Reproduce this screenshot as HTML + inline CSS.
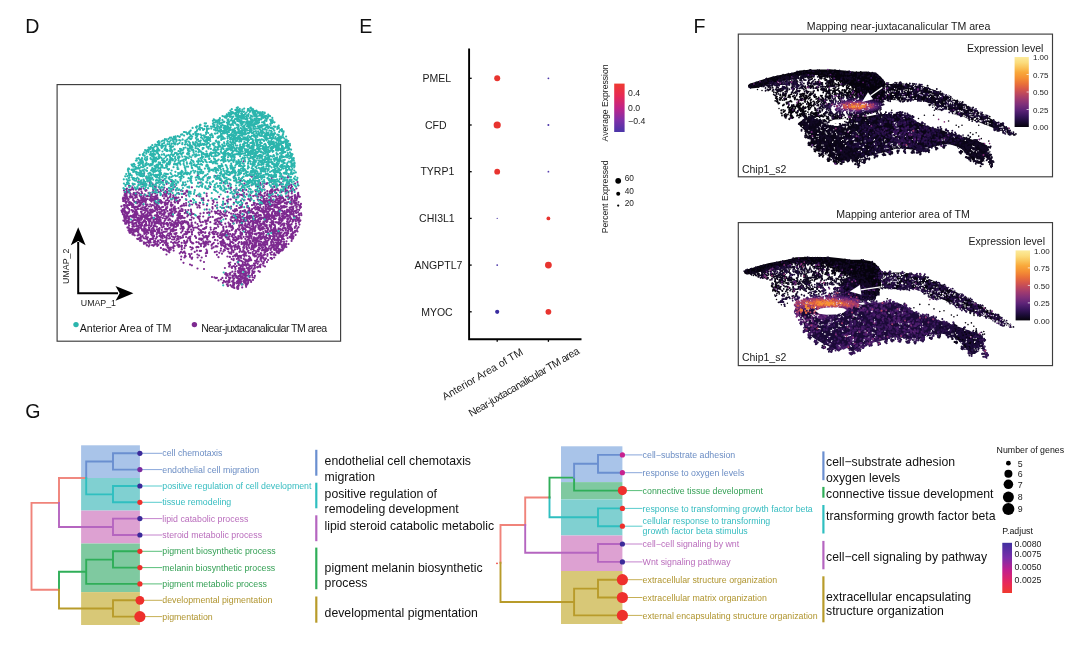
<!DOCTYPE html>
<html lang="en"><head><meta charset="utf-8"><title>Figure panels D-G</title>
<style>html,body{margin:0;padding:0;background:#fff}body{width:1080px;height:657px;overflow:hidden}svg{display:block}text{font-family:"Liberation Sans",Arial,Helvetica,sans-serif}</style>
</head><body>
<svg width="1080" height="657" viewBox="0 0 1080 657">
<rect width="1080" height="657" fill="#fff"/>
<text x="25.2" y="33.0" font-size="19.6" fill="#111">D</text>
<text x="359.3" y="33.0" font-size="19.6" fill="#111">E</text>
<text x="693.6" y="33.0" font-size="19.6" fill="#111">F</text>
<text x="25.3" y="417.7" font-size="19.6" fill="#111">G</text>
<g id="panelD">
<rect x="57.1" y="84.6" width="283.5" height="256.6" fill="#fff" stroke="#3d3d3d" stroke-width="1.15"/>
<path transform="scale(.1)" d="M2437 1614zm175-3zm18-9zm23 92zm-104 28zm-43 35zm-188-37zm-341 34zm-316-10zm-220-7zm24 47zm622-11zm7 9zm64-22zm182 7zm179 0zm39 0zm12 12zm36-6zm107 26zm6-21zm97 8zm9-19zm54 7zm4-14zm92 61zm-24 15zm-61-4zm-17-32zm-5 34zm-58-3zm-54-15zm-25-12zm-18 14zm-42 13zm-2 6zm-27-3zm-40-3zm-47 5zm-111 1zm-35-33zm-11 9zm-102 22zm-56-8zm-38-27zm-201 26zm-288-14zm-46 26zm-1-14zm-36-17zm-20 17zm-46 9zm-39 2zm-24 4zm-6-21zm-45 18zm-27 3zm-13-16zm-22-10zm-4 13zm-93 33zm32 14zm9-26zm111 2zm85-1zm23 19zm6 11zm31-6zm3-4zm52 8zm69-13zm1-13zm8 3zm17-8zm11 22zm83-21zm87 27zm182-2zm182-13zm29 18zm112-12zm92-11zm44 0zm19 12zm23-13zm5-3zm27 23zm4-10zm24-22zm62 36zm17-13zm2 6zm56-22zm21 20zm21 2zm18 2zm25 6zm0-6zm8-13zm19-10zm0 27zm9-9zm64-11zm-19 30zm-20 15zm-3 1zm-23 16zm-6-13zm-5-21zm-29 33zm-6-9zm-7 11zm-9-15zm-2-14zm-1 28zm-4-27zm-19 18zm-16 7zm-9-10zm-24-2zm-8-14zm-15 6zm-4 11zm0-4zm-3-3zm-10 11zm-17-13zm-4 22zm-3-25zm-8 7zm-8 11zm-29 0zm-29-17zm-33 0zm0 2zm-12-11zm-40 17zm-1 10zm-4-10zm-92-4zm-33 0zm-2 11zm-37-10zm-27-5zm-15 19zm-7-11zm-38-19zm-29 35zm-395-3zm-10-10zm-4 10zm-1-6zm-38 0zm-17-4zm-25-6zm-51-5zm-18 15zm-43 6zm-2-24zm-14 20zm-22-15zm-24 13zm-5-15zm-29 7zm-21 5zm-4-20zm-19 6zm-1 6zm-2 20zm-64-14zm-2-4zm-7 7zm-4-7zm-16-17zm-21 32zm-5-28zm-1 5zm-14-7zm-6 11zm-28-3zm-1 3zm-26-1zm0-6zm-20 4zm-14 8zm-11-4zm-8 15zm-12-26zm-1 25zm-7-18zm-21 9zm0 2zm5 46zm0 1zm2-25zm5 14zm4 8zm1 0zm1-22zm6 4zm1 18zm1-23zm13-2zm17-1zm6 15zm1 2zm2 10zm1-11zm27 6zm2-9zm4 0zm0-8zm9 25zm9-20zm3 7zm4-13zm3 18zm0 4zm9-26zm15 11zm6 23zm7-14zm2 9zm15-20zm24 12zm35 11zm5-26zm8 26zm6-26zm2 23zm13 6zm4-11zm8-16zm22-3zm5 8zm19 15zm17-29zm2 0zm36 32zm12-29zm5 14zm8 15zm11 1zm2-18zm6-16zm3 9zm25 5zm7 10zm27 9zm49-22zm11 8zm44-1zm4 0zm9-4zm2-2zm10 23zm22-32zm82 34zm100-21zm302 4zm5-11zm0-7zm5 35zm16-13zm18 4zm17 3zm6-7zm6-17zm26 15zm34 10zm2-1zm4-29zm45 33zm11-8zm26-11zm2 9zm13-17zm1-1zm1-6zm2 27zm12 7zm25-19zm7-12zm16 25zm6-13zm1 1zm1 18zm1-11zm21-25zm2 15zm11 20zm10-25zm0 3zm30-7zm2 33zm11-29zm40 26zm9-34zm70 31zm1-26zm0-1zm34 9zm28 19zm5-3zm28-13zm0 3zm3-12zm1 18zm15 21zm-7-4zm-16 3zm-1-6zm-2 20zm-5 17zm-9-16zm-3-8zm-2 8zm-3-16zm-1 16zm-27-17zm-1 24zm-10-16zm-4 0zm-15 11zm-2-12zm-7 19zm-8-23zm-15-5zm-10 32zm-19-10zm-2-8zm-10-13zm-7 14zm0 3zm-1 4zm-4-14zm-3 26zm-8-17zm-10-18zm-8 23zm-13 5zm-3-22zm-10-2zm-20 33zm-2-36zm-20 28zm-4-14zm-14-9zm-24 16zm-1 4zm-20-28zm-1 31zm-5 8zm-1-11zm-4-22zm-2 21zm-5-20zm-14 0zm-4 9zm-27-8zm-6 26zm-5-30zm-41-3zm-19 24zm-14 8zm-16-1zm-41 6zm-7-32zm-49 0zm-24 31zm-19-24zm0-10zm-8 2zm-2 9zm-26 20zm-23 0zm-51-8zm-42-18zm-123-7zm-35 23zm-4 10zm-12-8zm-24-23zm-130 36zm-43-27zm-21 26zm-15-23zm-17 7zm-7-8zm-3 23zm-7-9zm-2-1zm-5-11zm-8-8zm-8 8zm-10 19zm-13-35zm-6 12zm-19 10zm-3 17zm-10-37zm-13 0zm-12 22zm-13-24zm-45 35zm-7-7zm-2-14zm-1 11zm-7 5zm-4-17zm-3-11zm0-1zm-8 33zm-1-5zm-1-22zm0 7zm-8 25zm-7-7zm-1 7zm-3-31zm-10 20zm-7-4zm0 1zm-4-8zm-3 14zm-1 7zm-2-13zm-6-24zm0 38zm-18-36zm-3 27zm-13-30zm-2 39zm-5-16zm-12 15zm-6-21zm-2-16zm-1 25zm-1 7zm-4-15zm-6 6zm-3 10zm-6-33zm-1 19zm-3 10zm-4-20zm-3-8zm-26 33zm-10-23zm-5-9zm-11 14zm-19 12zm-7-17zm-1 0zm-3-5zm-7 5zm-7-11zm-2 11zm-2 3zm-8-7zm-10 23zm0 4zm-14-22zm-2 8zm-1 6zm-3-27zm-8 29zm-2-27zm-7 11zm0 5zm-10 7zm-1-6zm-1 3zm-5-7zm-3 14zm2 22zm7-9zm0 8zm15-4zm3 16zm3 7zm2 1zm6-12zm15-12zm6 22zm6 4zm1-7zm2-7zm5 16zm4 2zm8-8zm1 4zm16-31zm10 10zm3 8zm12 3zm11-6zm4 19zm0-3zm6-5zm4-5zm7-4zm2-12zm4 15zm9-13zm2 22zm8 1zm0 5zm5-28zm6 6zm2 8zm2-4zm7-12zm3-1zm5-2zm4 11zm6 6zm4-12zm0 14zm2-13zm49-1zm8 8zm8-15zm18 19zm4-14zm0 27zm3-3zm3-1zm24-6zm8-19zm4 4zm4-3zm5 15zm3-5zm2-13zm8 3zm2 28zm2-14zm14 4zm22 1zm8 8zm3-27zm10 26zm12-5zm10-16zm19 17zm33-9zm4 4zm0-21zm1 25zm20-14zm2-2zm4 2zm1 16zm3 1zm0 3zm7-20zm9-8zm43 34zm22-7zm44-23zm6 3zm48 27zm38-10zm3 2zm35-28zm46 3zm2 1zm44-1zm6-2zm4 18zm34 4zm79 14zm19-33zm9 13zm61 10zm70-22zm30-3zm20 32zm11-4zm31-24zm37 21zm10 3zm23 6zm12-33zm16-4zm4-1zm7 25zm3 14zm6-28zm6 11zm3 12zm11-24zm5 8zm2 17zm3-22zm4-4zm2 11zm6-10zm2 0zm12-2zm2 17zm4-19zm5 30zm6-19zm2-17zm9 31zm0-20zm11-2zm13 15zm17-8zm10 3zm6-18zm9 25zm8-26zm7 14zm2-7zm3 17zm7-12zm1-10zm0 9zm8 25zm3-6zm1-3zm12-8zm1-5zm12 1zm6-13zm9 30zm5-30zm2 31zm10-9zm5 5zm10-8zm21 14zm10-33zm1 20zm5 14zm16-19zm0-8zm3 5zm5 16zm1-29zm0 32zm4-19zm16-11zm0 25zm22-8zm25 19zm0 32zm-4-26zm-2 20zm-7 4zm-3-11zm-13-14zm-13 20zm-4 13zm-2-37zm-9 14zm-20 11zm-3 14zm-12-7zm0-31zm-2 4zm-14 29zm-2 5zm-4 0zm-28-39zm-1 26zm-8 2zm-11-3zm-1-4zm0 3zm-2 9zm-5-14zm-12 17zm-4-13zm-10 7zm-4-8zm-20 15zm0-37zm-13 2zm-4 26zm-2-19zm-2 27zm-3-20zm-10-10zm-4 26zm-1-28zm-3 10zm-6-10zm0 26zm-15-17zm-6-4zm-4 12zm-6-10zm-10 4zm-1 7zm-16-2zm-2-20zm-1 8zm-2 30zm-16-12zm-2-23zm-1 18zm-2 3zm-3-16zm-21 22zm-30 4zm-2-21zm-6 22zm-9-35zm-7 28zm-14-22zm-10 23zm-2-5zm-15-17zm-19 5zm-46 7zm-1 16zm0-9zm-53-22zm-2 18zm-1 10zm-10 4zm-3-22zm-12 25zm-25-19zm-56 5zm-2 6zm-1-1zm-24 2zm-4-4zm-41 11zm-15-30zm-2 29zm-50-2zm-18-18zm-27-18zm-3 32zm-54-18zm-36-10zm-36 32zm-5-19zm-6-3zm-13 20zm-8-27zm-45-2zm-24-1zm-5 13zm-30-4zm-2 0zm-19 3zm-18 1zm-4-1zm-12 8zm-59 2zm-1 11zm-9-3zm-12-25zm-12 15zm-5-17zm-1 5zm-33-6zm-2 24zm-3 9zm-7-38zm-1 38zm-10-25zm-4-14zm-18 29zm-9 2zm-23 6zm-9-13zm-6 6zm-8-20zm-6-6zm-3-3zm-1 17zm-1 15zm0-6zm-1-26zm-2 0zm-13 31zm-10-19zm-16-3zm-10 14zm-10-19zm0-1zm-12 21zm-14-20zm-5 5zm-5 7zm-7 8zm-1-23zm-1 25zm-19 7zm-7-26zm-6 27zm-2-2zm-16-25zm-10-5zm0 17zm-1-10zm-3 7zm-2-4zm-7 7zm-13 15zm-1-6zm-12-1zm-10 1zm-14-21zm-1 20zm-2-13zm-3 15zm0-28zm-7 11zm0 18zm-1-17zm-10-13zm-13 8zm-3-7zm-5 9zm-9 28zm-6-27zm-1 11zm-7-1zm-1 5zm-1-14zm-15-3zm-3 24zm-3-19zm-4-2zm-2 1zm-23 9zm1 43zm5 13zm7-1zm1-27zm0 1zm3 25zm1 0zm3-9zm8-14zm0-7zm2 28zm0-13zm1 2zm1-21zm4 30zm25-31zm14 7zm2 29zm2-18zm22 0zm10 18zm3-12zm6 7zm10-28zm7 8zm1 21zm9-12zm5 14zm8-27zm4-7zm3 7zm22 3zm2-7zm2 5zm2 28zm4-31zm2 29zm1-25zm17 11zm12-21zm8 18zm0-10zm0 18zm2-18zm11 1zm1 15zm4 6zm4 0zm1-26zm20 15zm8-3zm6 14zm10 7zm3-2zm1-21zm5 22zm4-12zm15 4zm0-24zm3-2zm7 9zm12-4zm2 13zm1-11zm3 1zm20 4zm9-11zm10 17zm4 9zm16-8zm6 0zm2 11zm15-23zm2 5zm14 17zm25-9zm0-8zm5 5zm3 7zm2 1zm5 2zm1-20zm4 23zm6 3zm11-19zm0-10zm11 19zm0 2zm2-18zm7-2zm5 29zm23-35zm11 30zm4-5zm2 0zm7 3zm7-22zm8 5zm1 17zm2-9zm27-1zm6 17zm23-17zm26-3zm2 15zm156-18zm49 20zm10-28zm22 30zm32-9zm22 5zm36 5zm30-4zm41-27zm22 20zm11 6zm5 4zm3-23zm9 13zm5-14zm6 12zm35 8zm22-1zm9 2zm8-10zm3 13zm4-13zm24 16zm9-14zm7-23zm2 9zm4 14zm17 2zm4 10zm3-25zm19-12zm15 14zm13-11zm6 12zm9-8zm1 13zm3-2zm3-13zm1 16zm1-9zm11 19zm9-1zm0 2zm6-22zm2 20zm2 6zm0-18zm8-8zm10 19zm8 5zm5-31zm2 19zm4-6zm8 15zm2-21zm6-4zm14 9zm4-13zm3 23zm1 1zm5-11zm2-12zm18 8zm3 28zm9-13zm3-12zm2 3zm5 15zm29 6zm13-31zm1 17zm5 11zm10-16zm8-16zm10 24zm10 10zm14-3zm2-4zm21 2zm4-17zm4 23zm2-9zm8-7zm5 12zm14-17zm11 2zm7-19zm5 33zm3-19zm2-10zm6 30zm14-5zm9-1zm11-11zm20 2zm10-19zm12 71zm-3-18zm-18 5zm0 18zm-6-9zm-6-27zm-17 10zm-5-3zm-22 8zm-1 16zm0-18zm-15 11zm-5-2zm-2-8zm-2 8zm-1-20zm-2-2zm-7 23zm-3-19zm-2 35zm-14-6zm-8-3zm-9 7zm-2-32zm-2 12zm-15-6zm-4 14zm-2-22zm-4 28zm-1-22zm-6 28zm-7 1zm-4-20zm-23 16zm-2-15zm-1-10zm-6 3zm0-5zm-5-2zm-4 29zm-1-6zm-3-9zm-11 19zm-2-23zm-1 1zm-4 18zm-1-34zm-4 10zm-2 8zm-15 19zm-14-20zm0-7zm-1 19zm-22 0zm-5 7zm-1-14zm-2 11zm-5 2zm-1-3zm-1-30zm0 4zm-12 16zm-7-22zm-1 33zm-16-7zm-2 11zm-2-32zm-1 20zm-4-16zm-10-5zm-18 29zm-3-3zm-4 1zm-12 2zm-2-2zm-10-21zm-2-6zm-3 7zm-4-6zm-5 26zm-5 2zm-5-15zm-12 21zm-1-26zm-8-11zm-6 10zm-2-6zm-16 32zm-9-32zm-3 32zm-7-32zm-17 13zm0-5zm-12-10zm-21 22zm-3 8zm-29-24zm-2 4zm-4 24zm-4-34zm-8 27zm-14-8zm-21 3zm-1 8zm-21-14zm-22-3zm-21-12zm-20 33zm-6-3zm-7-28zm-10 19zm-4 3zm-5-1zm-14-6zm-14-16zm-7 26zm-9-15zm-13 1zm-15-9zm-3-8zm-8 12zm-59-3zm-4-4zm-4-2zm-16 5zm-35 0zm-33 7zm-67 4zm-17 1zm-5-13zm-7 23zm-1-14zm-23 12zm-13-14zm0-11zm-23 8zm-47 5zm-2 18zm-6-14zm-8-17zm-3 18zm0 14zm-1 1zm-8-4zm-27-23zm-18 29zm-9-20zm-3-14zm0 22zm-6 11zm-5-27zm-11 6zm-3 10zm-4 12zm-1-24zm-1 18zm-31-29zm-10 17zm-7-3zm0-8zm-6 10zm-14 13zm-5-22zm-10-10zm0 12zm-3 5zm-2-1zm-7-17zm-9 37zm-9-16zm-2-17zm-2 27zm-6-1zm-14 5zm-25-32zm-9 32zm-6-27zm-1 8zm-2 18zm-1-4zm-6-4zm-1-21zm0 8zm-1-9zm-11 35zm-2-36zm-7 10zm-2 6zm-1 7zm0 5zm-4 3zm-3 5zm-4-5zm-2-4zm-6 6zm-5-29zm-1 29zm-13-1zm-1-14zm-14 6zm-5-16zm-3 23zm-23 1zm-14-19zm-1-2zm0 5zm-2 5zm-4-23zm-3 15zm-3 11zm-1 10zm-7-29zm-1 29zm-1-9zm-4-13zm-1-14zm-5 25zm-7 0zm0 12zm-7-3zm-21 3zm-23-26zm-5-6zm-7 18zm-6-20zm-8 12zm-4-11zm-5-1zm-2 33zm-4-5zm-1-5zm-5 2zm-8-7zm-1-1zm13 28zm5 13zm0 3zm5 13zm7-2zm3-32zm2 0zm1 15zm2-9zm10-8zm8 25zm3-17zm1 12zm6 8zm0-23zm23 0zm14 7zm9 4zm1-9zm3 29zm2-21zm20-3zm10 13zm6-9zm9 12zm11-11zm2-16zm3 5zm6 16zm0 13zm6-9zm7-16zm4-4zm7-4zm6 4zm7 12zm10-20zm0 22zm0-20zm9 28zm1-9zm6-12zm5 19zm6 8zm6-6zm13 9zm5-17zm1 0zm7-7zm3-2zm8 6zm2 6zm12-3zm2 11zm4-4zm14 5zm0-33zm3 3zm2 23zm2-14zm2 16zm5-15zm8 23zm10-10zm2-17zm10 5zm21 6zm10-21zm11 26zm5 12zm5-35zm8 18zm8-7zm18 18zm1-6zm8 12zm24-33zm47 17zm0 8zm6-7zm10-10zm1-7zm5 14zm11 6zm5-16zm2-9zm3 19zm5-19zm1 8zm11 9zm13 0zm26-14zm26 34zm13 0zm6-25zm19 10zm38-13zm10-5zm0 17zm5-13zm5 23zm3-28zm34 1zm49 25zm5-13zm18-7zm24-1zm24 30zm13-6zm14-7zm8-2zm17 3zm1-6zm13-9zm27-12zm13 28zm48 5zm7-23zm0 4zm9-10zm6 12zm13 0zm14 18zm2-19zm6-10zm6 16zm5-13zm1 11zm2 19zm10-24zm11-4zm4 8zm4 5zm5 14zm11-29zm11 27zm9-13zm1-1zm1 15zm17-21zm6 0zm2 23zm1-33zm1-5zm0 14zm1 13zm10-23zm9 15zm3 11zm5-28zm3 17zm2-15zm6 0zm0-1zm9 4zm3 10zm9 14zm15 7zm4-7zm4-16zm10-7zm14-1zm3 27zm3-30zm3 26zm1 1zm11-12zm4 8zm1-4zm0-5zm6 14zm8-16zm14 7zm11 4zm1-14zm1-7zm4 0zm1 6zm0 6zm5 8zm6 5zm1-26zm1 13zm2 1zm1 18zm3-30zm5-2zm2 10zm10 15zm2-3zm1-13zm2 7zm1-8zm9-12zm4 32zm3 0zm9-19zm4-6zm6-7zm5 21zm2-13zm2-3zm2 25zm2-16zm5-14zm7 29zm5-5zm32 11zm4-16zm4 6zm2-12zm2 22zm2-9zm17-24zm2 30zm0-5zm3-14zm6-8zm8 7zm3 11zm2-12zm10 4zm4-9zm14 23zm6-25zm3 31zm3-12zm17-8zm1-5zm4 23zm7-8zm24 9zm1-29zm11-3zm6 30zm8-21zm1 15zm2-26zm8 17zm16 8zm3-6zm11 24zm-3 6zm-9-6zm-1 4zm-1-7zm-2 25zm-9-24zm-2 2zm-18 32zm-1-24zm-22-8zm-7 11zm-2-14zm-3 17zm-24-7zm-12 14zm-13-10zm-1 6zm-3-7zm-5 23zm-23-1zm-11 1zm-6-37zm-1 4zm-10 11zm-5-13zm-3 26zm-11 6zm-1-28zm-2-6zm-3 22zm-2 17zm-1-3zm-8-13zm-5 3zm-3-1zm-11-5zm0 5zm-23-4zm-3 6zm-1-12zm-1-2zm-11 26zm-1-27zm-1 19zm-16-6zm-28-14zm-3-8zm-4-3zm0 22zm-11-11zm-5-6zm-6 33zm-4-13zm-7 0zm0-8zm-8 16zm-6 4zm-20-23zm0 25zm-4-18zm-12-7zm-3-5zm-7 20zm-4-19zm-5 20zm-5 2zm-2-11zm-2-19zm-3-2zm-7 25zm-11 11zm0-22zm-5 12zm0 6zm-1 7zm-11-31zm-5 6zm-6-4zm-9 16zm-12-3zm-6-10zm-12-7zm-16 33zm-2-23zm-15-3zm-13 6zm-3 5zm-1 7zm0-13zm-10 1zm-4-13zm-1 10zm-7 11zm-12-20zm-17 21zm-1-16zm-21-6zm-9 30zm-3-1zm-6-17zm-5-8zm-13-4zm-25 21zm-32 10zm-41-13zm-18-8zm-6 9zm-14-16zm-15 17zm-2 13zm-9-33zm-3 31zm-42-15zm-24-15zm-12 4zm0 26zm-2-31zm-11 12zm-3-12zm-22 13zm-22 3zm-9-11zm-45 16zm-36-1zm-33 10zm-4-12zm-14-9zm-4 9zm-6 1zm-10-17zm-4 13zm-12 12zm-5-20zm-6 3zm-5 1zm-9 6zm-7 6zm-3-4zm-9-16zm-2 11zm0-16zm-1 3zm-1 15zm-2-15zm-1-6zm-5 29zm-16-23zm-1 17zm-5 6zm-7 9zm-4-16zm-19-11zm-3 27zm-5-6zm-15-6zm-16-25zm-10 29zm-6-1zm-20-22zm-3 24zm-8-5zm-1 11zm-4-8zm-14 2zm-10-31zm0 15zm-8 21zm-4-21zm-5-13zm-1 3zm-3 28zm-1-4zm-4-5zm-3-2zm-1 4zm-3 3zm-1-20zm-10 7zm-3 17zm-14-13zm-1 11zm-5-12zm-3-9zm-4-11zm-13 23zm-1 10zm-17-21zm-2-5zm-6 28zm-1-10zm-4-9zm-7-14zm-21 34zm0-18zm-10-2zm-3-14zm-1 9zm-6-8zm-3 10zm-3 7zm-8 7zm-5-3zm-5 14zm-16-15zm-6-21zm-5 0zm-1 14zm0 20zm-1-26zm-6 6zm-11-13zm-4 0zm-3 22zm-2 10zm-1 2zm-4-4zm0-4zm-1-27zm-12 32zm-14-27zm-3 24zm-1 4zm-2-15zm0-11zm-10 16zm-17-4zm-2 4zm-8-18zm-1 31zm-6-14zm0-19zm-10 13zm-3-4zm-6 23zm-5-14zm-4 14zm-1-16zm-10-14zm-7-1zm40 70zm2 1zm10-3zm5-18zm33 11zm0-23zm6 4zm7 18zm0-24zm6 22zm20-3zm3-10zm0 12zm17-2zm2 13zm9-33zm1 14zm8 20zm6-26zm3 13zm7-16zm1 10zm21 4zm2 15zm3-14zm3-13zm12 9zm2-8zm1 3zm21 2zm3 25zm4-5zm1-25zm16 16zm5-8zm4-9zm12 30zm8-11zm2-12zm6-7zm5 12zm13 6zm5 2zm40-19zm5 8zm8 17zm14-28zm2 21zm2-26zm23-1zm10 8zm5 12zm4-13zm2-3zm15 34zm7-22zm3-7zm8 7zm3-2zm10 2zm8 19zm2-34zm3 14zm1 13zm16 1zm3-27zm3 21zm10-15zm1-8zm2 17zm2-11zm31-2zm1 15zm1-18zm2 3zm6 30zm11-6zm1 8zm43-36zm9 19zm3 14zm2-20zm4 19zm10-8zm9-16zm2-8zm0 2zm0 16zm2 2zm6-3zm5 18zm5 4zm18-4zm19 2zm4-37zm11 22zm24-7zm6-2zm46-13zm1 28zm42 8zm72-29zm5 20zm19-26zm16 9zm15 27zm2-9zm29 2zm1-5zm27 0zm1-5zm1-18zm6 11zm4-12zm9 34zm0-8zm10-6zm4 13zm2-1zm63-20zm1 17zm2-15zm13-3zm14 8zm0-18zm16 33zm7-21zm14 7zm4 10zm6-4zm7-20zm2-4zm1 27zm7-29zm7 33zm3-25zm19 15zm10-24zm4 28zm4-15zm1 17zm2-5zm21 5zm3-10zm17-16zm7 9zm1 16zm0 5zm5-11zm3-4zm9 2zm4-19zm7 15zm18 15zm7-27zm11 2zm3 12zm4-7zm11 1zm1 7zm0-8zm1 4zm9 23zm19-29zm2 7zm1 7zm11 3zm0-8zm1-8zm1 16zm17-25zm6-2zm3 8zm10 2zm1 4zm2 15zm39-29zm16 20zm8-12zm6-2zm17 13zm4 20zm2-26zm7 25zm25 0zm1-30zm0 12zm1 4zm8-24zm0 24zm4-6zm3 9zm1 1zm5-10zm0-9zm3 23zm10-26zm1 27zm4-30zm1-3zm31 39zm1-8zm7-4zm6-10zm23 15zm10-26zm-20 69zm-2-29zm-3 25zm-3-8zm-16 5zm-1 11zm-29-20zm-1-10zm-8 15zm-4 5zm-4-19zm-15 2zm-1-1zm-5 18zm-3-5zm0 1zm-21-13zm-1 10zm-10-17zm-17 21zm-4-22zm-3 17zm-15-6zm-3 3zm-7-11zm-6 28zm-7-31zm-2 9zm-3 25zm-15-11zm-6 7zm-3-21zm-2 16zm-4-26zm-7 15zm-3-6zm0 19zm-1-20zm-4-8zm-7 33zm-4-14zm-13-4zm-3-17zm-7 33zm-2-2zm-17-16zm-1-6zm-3 9zm-3 14zm-8-33zm-3 0zm-6 34zm-4-7zm-13-22zm-17 9zm-11-14zm0 12zm-11 8zm0 2zm0-17zm-3-1zm-3 12zm-8-13zm-1 1zm-2 3zm-33 19zm-1-4zm-1-21zm-3 32zm-8-21zm-1-9zm-5 13zm-8 19zm-2-26zm0 14zm-10-13zm-6-1zm-3 9zm-5-18zm-3 26zm-8 13zm-11-6zm-20-12zm-7-12zm-17 7zm-1-9zm-6 13zm-7-18zm-22 12zm-3 5zm-11-3zm-5-7zm-17 26zm-1-13zm-8 12zm-22-28zm-13 15zm-23 9zm-24-6zm-6 11zm-4-2zm-3 1zm-21-6zm-2-15zm-13 20zm-61-31zm-2 37zm-8-1zm-5-36zm-8 14zm-6 22zm-24-22zm-48-16zm-9 4zm-4-3zm-6 8zm-11 1zm-17 22zm-2-3zm-3-7zm-6 1zm-14-11zm-54 9zm-14 17zm-9-21zm-16 22zm-10-37zm-1 6zm-2 7zm-5 20zm-2-18zm-19 21zm-18-36zm-10 15zm-1-14zm-3 28zm-18-25zm-44 12zm-14 7zm-4-3zm-9 3zm0-15zm-6 24zm-4-25zm-4 7zm-13 16zm-2-12zm-17-16zm-15 10zm-8 20zm-1-25zm-13 28zm-1-28zm-13 29zm-20-18zm-22-19zm-2 37zm-1-25zm-1 25zm-1-13zm-3 9zm-1-16zm-3-7zm-2 4zm-1 10zm-2 11zm-11-23zm-15 19zm-7-7zm-7-13zm-4 22zm-9-7zm-9-17zm-3 21zm-9-1zm-9-10zm-3-8zm-1 8zm-9 0zm-11 1zm-3 17zm-9-14zm-4-19zm-8-2zm0 30zm-5-21zm-2 8zm-4 14zm-5-21zm-2 5zm-8 6zm-1-8zm0-3zm-4-2zm-6-9zm-24 10zm-4 14zm0 4zm-5 8zm-2-13zm-5-19zm-3 22zm-3 1zm-1-21zm-2 9zm-6 16zm-1-17zm-6 5zm-7 9zm-3-15zm-1 7zm-12-11zm0 5zm-3-7zm-3 18zm-6-17zm-3 26zm0 2zm-2-12zm0-10zm-4-2zm-9 22zm-1-9zm0-4zm-2-18zm-4 23zm-5-5zm11 21zm5 5zm17-6zm8 21zm1-5zm6-12zm3 20zm2-20zm11 26zm28 2zm6-3zm1-25zm13 16zm3 4zm4 0zm1 0zm22 12zm17-19zm1-10zm10-2zm12 15zm12-22zm6 10zm25-8zm3 22zm0-6zm9 17zm3-32zm3 5zm2 5zm8 19zm30-7zm1-6zm3-12zm19 2zm10 5zm4-1zm0 12zm6 13zm10-4zm0-31zm3 7zm5 17zm45 3zm9-15zm9 23zm8-18zm3-13zm11 13zm31-3zm10-5zm4 10zm3-10zm5-2zm45-5zm17 31zm15-15zm15 0zm4-14zm2 5zm2 9zm10-14zm43-3zm1 19zm1 1zm64-17zm3-3zm5 22zm13-21zm6 4zm16 24zm2-32zm21 8zm2-6zm37 9zm6 10zm0-20zm25 2zm8 11zm9 7zm5-5zm4 2zm23 2zm2 1zm7-13zm18 21zm7-18zm1 16zm5 6zm1-9zm5-25zm10 35zm1-15zm13 10zm3 3zm4-19zm7 2zm4-10zm3 23zm17-24zm1 18zm2-9zm3 1zm18 6zm22 9zm4-11zm12 5zm3 4zm1-4zm10-13zm50 5zm0-16zm4 8zm1 19zm9-5zm0-2zm1 7zm1-16zm1 8zm30-18zm10 21zm9-18zm5 0zm11 1zm4 12zm1 0zm2 4zm6-19zm0 32zm0-9zm3 9zm5-19zm3-10zm13 10zm0 4zm1-2zm23 2zm14-5zm3 7zm0 5zm18-16zm10-3zm2 27zm1-20zm3 3zm4 14zm3 4zm7-25zm2 10zm7-3zm11-18zm2 35zm4-18zm18-17zm9 32zm8-28zm12 6zm7 26zm0-10zm29-20zm3-5zm5 15zm0-1zm3 10zm4-23zm8 15zm6-17zm11 19zm2 6zm1-2zm4 1zm10-16zm8 4zm6 12zm1 10zm9-20zm1 8zm10 17zm2-33zm11 30zm6-9zm9-11zm9-11zm9 3zm2 26zm6-19zm1-9zm0 18zm0 12zm2-32zm2 24zm6-19zm4 3zm30 19zm1-9zm5-1zm3-5zm4 13zm1-8zm3-21zm2 13zm14-10zm11 26zm-21 18zm-4 18zm-10-18zm-2 24zm-3-6zm-10-18zm-6 7zm-4-6zm-20 14zm-37 12zm-2-33zm-8 8zm-2 17zm-3-6zm-4 0zm0 12zm-1-20zm-8-1zm-5-7zm-4-3zm-10 6zm-3 30zm-1-23zm-10 7zm-2 14zm-2-6zm-6-26zm-19 28zm-2-31zm-1 10zm-1-9zm-5 21zm-9-16zm-1 23zm-2-24zm-19-5zm-9 27zm0-10zm-7-16zm-9 23zm-8-2zm-10-4zm-7-11zm-3 26zm-8-19zm-1 16zm-5-22zm-8 6zm-1-2zm-3-2zm-8 11zm-1-11zm-7 3zm0 16zm-6-8zm-4-10zm0 24zm-3-5zm-11-21zm0-7zm-9 25zm-8-10zm-1 21zm0-9zm-9 5zm-2-6zm-11-6zm-10 2zm0 1zm0-11zm0 12zm0-10zm-1 12zm-23-4zm-1-15zm0-7zm-6 5zm-16 17zm-4-14zm-2 2zm-2-4zm-1-4zm-3 30zm-9-25zm-10-3zm-9 22zm-17-19zm-19 17zm-5-2zm-2-14zm-2 5zm-6-12zm-3-1zm-11 24zm-1-18zm-4-6zm-4 25zm-1-1zm0 5zm-1-8zm0 9zm-5-8zm-3 1zm-5-5zm-7-9zm-6-1zm0 29zm-8-5zm-11 3zm-1 1zm0-22zm-8-11zm-6-3zm-22 32zm-2-30zm-9 12zm-9 16zm-8-25zm-6 8zm-3-5zm-28 25zm-12-24zm-2 7zm-5 3zm-14-3zm-17-14zm-30 35zm-9-30zm-12 6zm-43-13zm-8 9zm-4 25zm-2-4zm-6-31zm0 16zm-1-9zm-4 3zm-6-11zm-12 13zm-5-3zm-11 19zm-17-3zm-2 2zm-9 4zm-6-7zm-1 7zm-31-13zm-6-14zm-5-3zm-45 4zm-4 21zm-5-6zm0 7zm-1-7zm-1-11zm-12 12zm-21-12zm-31 3zm-10 2zm-14 7zm-5-14zm-15 0zm0 24zm-6-3zm-3-7zm-2-22zm-3 26zm-18-19zm-7 6zm-4 18zm-4 4zm-8-26zm-10 26zm-6-34zm-15 21zm-10 3zm-22-6zm-1 9zm0-27zm-18 12zm-6-13zm-2 0zm-11 0zm0 2zm-4 23zm-1-6zm-5-11zm-9 7zm-7 23zm-10-37zm-25 7zm-1 5zm-9 12zm-1 3zm-17-26zm-7 24zm0-19zm-2 7zm-3 15zm-4-6zm-12 8zm-11 0zm-1 1zm-23-19zm-5 13zm0 9zm-4-14zm-6-2zm-5-16zm-3 22zm-14-2zm-8-7zm-24 3zm-2-12zm-3 32zm-11-18zm-11 11zm-10-4zm29 21zm1-1zm15-1zm22 16zm0 15zm7-13zm8 9zm13-9zm15-6zm2-7zm6 18zm7-4zm4-19zm6 17zm29-1zm6-15zm8 19zm1-15zm21 7zm8-14zm5 8zm16 17zm18-22zm0 11zm17-7zm8 16zm12-20zm4 16zm1-10zm2-14zm14 33zm34-13zm20 9zm5 9zm12-18zm12 10zm5-26zm12 24zm13-13zm27 13zm24-19zm2 20zm5-4zm5 9zm1-11zm4 8zm3-10zm7 3zm4-12zm1-8zm29 0zm7 15zm13 14zm4-5zm7 5zm31-11zm21 1zm8 14zm21 1zm0-37zm19 22zm0-9zm2 20zm13 3zm4-10zm5-10zm6 20zm3-19zm14 5zm9-8zm7 1zm6 2zm36 10zm37-25zm6 32zm23-17zm4 16zm7-9zm8-16zm5 20zm6 2zm2-22zm10 20zm1 0zm53 4zm4-20zm4 6zm17 3zm5 8zm5 0zm1-30zm19 10zm9-8zm18 34zm9-14zm24 0zm2 4zm12 11zm10-12zm4-5zm12 13zm7-13zm1-2zm2-12zm6 20zm0 3zm3-6zm20-14zm4 22zm1-14zm1-9zm0 29zm3-19zm3 16zm5-4zm15-25zm1 9zm2-12zm10 4zm7-6zm0 24zm2 15zm9-34zm3-4zm1 37zm0-18zm2-13zm0 18zm7-8zm1-7zm8-1zm9 7zm1 21zm3-23zm8 25zm7 0zm5-21zm18 15zm1-5zm4-5zm4 4zm5-11zm4 7zm1 10zm7-23zm6 13zm5 1zm3-13zm2 26zm0-10zm12-24zm27 26zm1-11zm3 5zm3-22zm1 1zm0 6zm8 7zm10 10zm8-23zm15 22zm3-23zm4 31zm10-31zm3 22zm2-13zm1 20zm1 7zm4 0zm5-5zm5-6zm5-23zm2 33zm0-28zm11 9zm2-1zm22 3zm1 1zm20 18zm4-25zm51-4zm-31 31zm-21 30zm-3-26zm-5 11zm-7 10zm-5-25zm-1 35zm-8-35zm0 12zm-7 8zm-11 10zm-1-20zm-17-7zm-6-2zm-9 7zm-2 5zm-2 13zm-10-25zm-3 30zm-5-8zm0-15zm-12 8zm-11 21zm0-23zm-1-13zm-1 28zm-3-2zm-9 4zm0-21zm0 4zm-1 12zm-9-25zm-7 13zm-15 9zm-21-17zm-11 32zm-3-1zm-4-29zm-2 19zm-11-27zm-3 11zm-5-5zm-2 27zm-10-24zm-1 21zm0 5zm-17-17zm0-8zm-14 26zm-2-24zm-23 7zm-4 4zm-2-8zm-12 19zm-5 1zm-2-16zm0 7zm-6 1zm-1 4zm-6-29zm-5 16zm-3 4zm0 12zm-26 5zm-2-32zm-3 14zm-9-17zm-6 3zm-3 32zm-6-33zm0 22zm-20-27zm0 13zm-1 4zm-4 18zm-1-12zm-5 13zm-17-36zm-21 28zm-10 5zm-1-18zm-2 8zm-7 1zm-3 9zm-14-25zm-3 16zm-6-4zm-1 15zm-6-20zm-17 10zm-12-4zm-9-15zm-2 17zm-9-4zm0-14zm-3 5zm-7-3zm-9-5zm-16 19zm-3-19zm-3 34zm-9-15zm-6-4zm-10-8zm-10 6zm-5-8zm-37 17zm-11-2zm-1 0zm-6 1zm-21 10zm-9-33zm-8 4zm-2 12zm-33-14zm-26 13zm-6 0zm-4-12zm-1 16zm-1-8zm-5 16zm-30-7zm-2-15zm-24 26zm-13-4zm-5 2zm-2 3zm-40 5zm-2 0zm-19-8zm-43-15zm-10 4zm-30 0zm-3 12zm0-5zm-2-10zm-19 9zm-4-14zm0 16zm-5-18zm-2 19zm-12-17zm-26 9zm-11 2zm-9 12zm-18 3zm-5 2zm-10-2zm-15-19zm-3 15zm0 3zm0-20zm-2-13zm-10 12zm-5-8zm-29 2zm-21 30zm-24-31zm-12-6zm0 17zm-12-18zm-14 6zm-11 11zm-3-5zm-12-1zm-26 0zm-8 12zm-18-12zm-1 3zm163 38zm5 7zm1-8zm17 3zm7 3zm6 8zm16 9zm5-30zm3 16zm6-13zm0 10zm11-2zm26-14zm3 24zm73 12zm7-25zm2 0zm25 23zm0-34zm70 13zm14-12zm19 36zm22-12zm29 2zm12-1zm54-13zm7 16zm47-27zm50 32zm39-9zm3-21zm24 28zm8-16zm7 4zm21-18zm5 5zm9 26zm2-27zm26-6zm5 10zm3 11zm5 0zm9 5zm16-13zm23-6zm4-7zm18 37zm4-31zm3 16zm17 14zm12-1zm1-2zm1-14zm1 15zm3-6zm5-29zm4 34zm23-22zm9 22zm6-7zm27-14zm3-3zm16 1zm3-1zm8 14zm18 5zm1 3zm11 0zm8-18zm6 20zm8-21zm8-8zm18 18zm6-16zm2 8zm12 9zm8-11zm6 8zm2 5zm7-20zm2 17zm7 5zm4-15zm4 8zm7-22zm2 3zm17 15zm2 2zm2-16zm4 0zm26 12zm3-11zm3 14zm13-18zm3 11zm3 17zm10-28zm4 29zm7 8zm1-12zm1-12zm0 12zm1-18zm13 25zm1-17zm1 5zm1 7zm8-12zm0 8zm3-3zm6 4zm7-22zm0 17zm6-13zm-42 34zm-5 11zm-19-8zm-13 27zm-5-3zm-7-14zm-9 13zm-15-27zm-8 26zm-8-18zm-28 14zm-1 16zm-20-37zm-2 0zm-2 24zm-5-18zm-4 19zm-2 5zm-6 0zm-20-16zm-4 18zm0-23zm-14 15zm-17-1zm-2 1zm-16-18zm-9 9zm-5 23zm-3-18zm-8 2zm-1 12zm-5-16zm-2-19zm-22 11zm-17-3zm-23 28zm-6-27zm-2 8zm-11 18zm0-21zm-1 24zm-2-20zm-11 11zm-20 10zm-18 0zm-17 0zm-8-17zm-3 10zm-1-16zm-5 9zm-14 8zm-11-31zm-22 0zm0 16zm-18-6zm-75 5zm-27-9zm-24 20zm-21-26zm-77 7zm-6-6zm-7 10zm-67 22zm-17-10zm-59-7zm-15 16zm-9-14zm-38-7zm-2 22zm-14-33zm-10 6zm-30 5zm-103-10zm-29 22zm145 50zm3-29zm31 9zm1 0zm12-12zm43 5zm16 16zm3 4zm3-12zm54-1zm41 0zm43-15zm125 12zm89-7zm24 4zm2 1zm16 21zm14-26zm8 26zm15-28zm15 27zm8-24zm2 19zm5-16zm2 14zm3 6zm3-25zm4-4zm9 10zm2 0zm5 10zm26 8zm7-22zm2 29zm10 0zm31 2zm3-33zm2 24zm9-13zm5 15zm41-25zm13-4zm10 33zm7-18zm12-12zm16 33zm2-13zm4-14zm2 17zm5-25zm13 14zm6 11zm1-6zm22 4zm0-1zm46-3zm5 1zm8 8zm1-3zm22-12zm-61 25zm-11 21zm-20-21zm-12 16zm-1 14zm-6 0zm-1 6zm-15-23zm-28 4zm-10 21zm-9-28zm-4 15zm-9 5zm-3 3zm-1-25zm-11 29zm-28-35zm-14 1zm-11 6zm-8 7zm-3 19zm-5-31zm-9 9zm-5-5zm-2 12zm-2 0zm-3 7zm-20-7zm-2 5zm0 13zm-13-29zm-8-4zm-15-1zm-7 5zm-1 26zm-9-12zm0-1zm-24 17zm-16-37zm-32 23zm-13 11zm-3-4zm-247-12zm-34-14zm-171 22zm65 17zm19 8zm372 13zm6-17zm3 0zm14 22zm6 8zm2-14zm17-4zm12 11zm16-12zm21-12zm12 6zm3 24zm5-16zm8-5zm3-6zm9 14zm12-15zm12-8zm1 11zm10-4zm1 9zm4-5zm17 25zm1-32zm6 9zm1 15zm14-8zm9 16zm7-21zm20-1zm2-5zm4 24zm2-19zm20 16zm1 3zm8-4zm4-5zm16-14zm1 16zm2 3zm5-25zm26 10zm16 9zm-52 53zm-13-7zm-37-27zm-3 33zm-7-30zm-14 16zm0 16zm-23-31zm-3 2zm-1 0zm-4 16zm-7 5zm-4-10zm-1-11zm-13-9zm-10 33zm-10 3zm-1-2zm-1-24zm-8 12zm0-17zm-5 2zm0 4zm-6-7zm-6 11zm-4 0zm0-7zm-1 19zm0-19zm-6 0zm-2 30zm-12-12zm-6-18zm-1-7zm-10 29zm-25-22zm-1 25zm-29 3zm-75-37zm-209 10zm-65-5zm276 55zm8-9zm5 26zm6-16zm8 16zm15-19zm7 10zm5-20zm18 28zm17 1zm3-20zm9 19zm2-15zm28-15zm6 3zm3 1zm1-7zm8 28zm7-31zm1 30zm2-18zm19 7zm11 3zm1-7zm5 4zm1 16zm3-27zm6 22zm3-3zm2 6zm0-19zm6 20zm0-23zm13-7zm4 30zm6-21zm3-11zm6 36zm21-17zm1 11zm14-31zm2 8zm12 30zm-5 19zm-14 21zm-5-27zm-28 0zm-5 27zm-19-14zm-16 3zm0-17zm-5 2zm-11 11zm-6-4zm-6-19zm-7 26zm0-8zm-1-2zm-4-7zm-2 8zm-1-10zm-2-3zm-6 11zm-1-3zm-9 20zm-1-31zm-7 0zm-2 26zm-8-14zm-7 7zm-5-19zm-4 11zm-20 10zm-5 3zm-2 13zm-6-34zm-4 11zm-22 7zm-3-7zm-6 8zm-4-9zm-30 6zm-36-2zm-14 16zm-41-17zm-11 3zm-14-8zm-24-3zm65 34zm44 24zm8-19zm10 7zm11 5zm10-7zm12 3zm3 10zm4-27zm6 10zm1-6zm2 16zm25-6zm8 5zm3 14zm2-29zm0 6zm3 25zm3-2zm8-5zm20 5zm1-18zm10 2zm1-12zm2 16zm0 14zm2-34zm1 35zm1-11zm4-4zm1-16zm1 6zm10-2zm0 16zm2-23zm4 21zm0 4zm0-26zm1 33zm3-18zm23-1zm1-8zm4 16zm2 2zm1-21zm7 4zm3 28zm3-10zm1-10zm1 18zm0-32zm12 34zm5-32zm4 30zm4-13zm3-21zm1 2zm19 2zm2 6zm3 8zm0 2zm-40 26zm-5-2zm-4 0zm-1 24zm-2-15zm-33-9zm-4 30zm-3-30zm-3 1zm-3-4zm-25 13zm0-13zm-3 20zm-7-1zm-8 11zm-29-23zm-2 22zm-8 3zm-2-21zm-12 14zm-13-14zm-24 9zm-1-9zm-1 7zm-9-15zm75 36zm29 6zm7 3zm3-8z" stroke="#7d2a90" stroke-width="22" stroke-linecap="round" fill="none"/>
<path transform="scale(.1)" d="M2368 1078zm11-5zm129 3zm69 42zm-13-11zm-2 3zm-11 2zm0 6zm-7-8zm-6 7zm-6-24zm-9 13zm-1-10zm-4-9zm-1 3zm-4 11zm-6 7zm-5-28zm-4 39zm-7-17zm-9-12zm-3 2zm-1 16zm-36-22zm-1 30zm-17-19zm-5 17zm-19 0zm-2-12zm-1-14zm-10 13zm0-5zm-11 23zm-1-16zm-3-22zm0 32zm-5-11zm-13-3zm-36-7zm-6 27zm-9-13zm-35 37zm3 7zm10-5zm6-17zm2 20zm0-7zm8-7zm1 17zm18-12zm4-3zm7-14zm12 12zm5 2zm7 4zm2-8zm3 18zm4-15zm5-15zm3 27zm13 7zm3-18zm5-14zm1 36zm22-21zm5 12zm3-13zm9 16zm9-32zm0 31zm3 0zm11-13zm12-13zm4 28zm6 0zm13-12zm20 16zm20-30zm3-6zm5 22zm7-1zm2 14zm3-29zm5 23zm3-19zm11 16zm13-19zm14 26zm0-31zm2 12zm1 21zm1-17zm6 10zm3-3zm0-23zm3 33zm6-20zm10 3zm1 16zm1-35zm1 38zm6-12zm13-13zm0-7zm15 33zm20-13zm2 12zm5-1zm0-1zm34 23zm-21 19zm-1-36zm-21 9zm-5 13zm0-21zm-5 22zm-11-3zm-4-2zm-5-18zm-3 7zm-7 4zm-6 5zm-2-11zm-14 10zm-2-13zm0 12zm-1 15zm-1 2zm-16-3zm-12-1zm-11-26zm-8 20zm-1 1zm-5-17zm-8 23zm-5 8zm0-38zm-3 26zm-19-20zm-6 27zm-2-33zm-3 2zm0 30zm-6 5zm-3-22zm-6 5zm-18-18zm-6 22zm-5 15zm0-15zm-1-3zm-2 16zm-7-34zm-6 29zm-7-6zm-2-16zm-7 12zm-1-15zm-4 15zm-3 5zm0-26zm-7 13zm-5-2zm0 13zm-1-13zm-5-7zm-2 11zm0-8zm0 11zm-10-19zm-2 3zm-2 7zm-1 25zm-2 4zm-4-9zm-1-19zm-2 2zm-4 6zm-4-9zm-4 25zm-6 2zm-4-11zm-3-20zm-12 26zm-17-25zm-7 2zm-7 16zm-3 12zm-3-33zm-12 6zm-9-8zm-7 32zm-10 5zm-4-35zm-7 13zm-1 2zm-1-6zm0-13zm-9 3zm-3 12zm-9-9zm-16-5zm-1 38zm-25-14zm0-5zm-7 15zm-51 2zm-4-3zm-90 40zm9 2zm4-3zm69-25zm0 29zm7-9zm15-25zm2 21zm1-16zm6 3zm3 0zm0-1zm4-5zm7 25zm1-6zm6-20zm13 9zm0 17zm3-28zm6 33zm8-4zm1 0zm10-6zm13-3zm5-6zm4 2zm26 7zm4 9zm2 0zm1 5zm1-9zm5-14zm0 13zm1-13zm0 15zm6-18zm1 8zm18-17zm18 28zm1-18zm2 8zm10-19zm2 8zm5 17zm1-8zm4 6zm0 2zm21-19zm17 5zm14 16zm5-14zm0-11zm1 31zm5-6zm0-24zm14 16zm6 2zm5-5zm21 3zm3 9zm8-12zm1 16zm1-29zm2 4zm4 23zm6-10zm4 7zm5-15zm0 3zm5 4zm4-5zm4 12zm5-18zm1 26zm2 0zm6-16zm3-6zm0 12zm1-5zm0-10zm3 0zm11-12zm5 33zm7-12zm1-16zm3 8zm6 26zm5-34zm2-1zm2 25zm3-12zm3 13zm1-23zm1 29zm8-34zm4 22zm3-21zm27 20zm17-4zm1 4zm2 15zm3-13zm0 6zm2 8zm4-35zm14 5zm1-8zm39 35zm3-1zm3-18zm7-16zm5 29zm5-16zm1 6zm0-17zm17 20zm42 32zm-1 17zm-6 4zm-1-9zm-7 3zm-22-1zm-1-3zm-11-1zm-21 12zm-11 2zm0-28zm-14 17zm-9-5zm-7 10zm-2-24zm-3 22zm-2-10zm-7 13zm-1-20zm-4-1zm-6-1zm-12 3zm-16 11zm-3-14zm-2 3zm0 13zm-1 0zm-4 6zm-12-19zm-5 18zm-13-10zm-5 0zm-25 4zm-6-25zm-2 6zm-5 12zm-6-12zm0 23zm-3-11zm-15-5zm-4-2zm-5 24zm-2-7zm-7-28zm-5 13zm-7 23zm0-5zm-4-13zm0-11zm-6-6zm-8 19zm-13-21zm-11 17zm-2 3zm-2 5zm0-4zm-12 6zm-3-27zm-7 0zm-4 11zm-1-12zm0 14zm0-10zm-27 18zm0-10zm-2 27zm-8-34zm-3 6zm-3 24zm-6-29zm-32 5zm-12-9zm-12 14zm-2-4zm0 24zm-3-31zm-5-1zm0 35zm-13-7zm-2 3zm-3-10zm-2-17zm-2 16zm-9 5zm-2-2zm-7-5zm-11 7zm-2-6zm-1-4zm-8 20zm-5-23zm-6-7zm-3 3zm-11 20zm-3-13zm-9 11zm0 3zm-5-33zm-12 25zm-7-10zm-4-5zm-4 22zm-9 6zm-12-27zm-4 19zm-7-18zm-8 15zm-18-2zm-32-5zm-11 5zm-18-4zm-43-12zm-4 28zm-1-28zm-5 19zm-1-6zm-25 2zm-4 14zm-4-7zm0 4zm-35 4zm-30 37zm11-10zm62 4zm3-8zm17-15zm11 10zm19-17zm12 13zm0 6zm12-8zm25 26zm1-16zm0 9zm1-24zm0-3zm5 8zm13-4zm25-1zm28 11zm10-3zm8 12zm5-2zm10-8zm0-11zm3 19zm6 6zm9 5zm3-34zm1 23zm11 13zm3-21zm12 16zm5 2zm12-10zm1 5zm5-6zm5-6zm2-9zm0-6zm7 22zm4 12zm0-17zm1 5zm3-11zm6-6zm5 32zm8-15zm1-21zm13 8zm3-11zm1 21zm1-1zm17-1zm4 17zm5-1zm0-19zm3 6zm4-6zm2 21zm0-8zm4 9zm6-35zm2 25zm25-19zm7 24zm1-8zm4 0zm0-9zm19-14zm1 29zm10-21zm3 13zm14 0zm2-23zm3 8zm2 22zm5 4zm1-32zm2 20zm5 13zm3-20zm2 2zm7-5zm9 13zm20-3zm4 12zm0-16zm1 3zm0-18zm3 32zm1-15zm0 18zm2-35zm4 11zm6 11zm16-17zm0-8zm0 4zm5 30zm9-24zm11 22zm5-27zm12 0zm5 29zm1-29zm1-2zm17 11zm7 16zm9 9zm1-12zm2 10zm8-6zm2-21zm16 3zm5-8zm2 9zm16 6zm14-18zm12 23zm18 4zm4-27zm2 36zm2-36zm14 11zm1-5zm8 19zm30-18zm1-2zm6-6zm9 0zm3 38zm10-19zm10-2zm5 14zm1-20zm0 12zm0-6zm2-1zm5 16zm3 3zm8-3zm-2 9zm-2 17zm-5 13zm-40-4zm-15-1zm-22-13zm-1-2zm-6 11zm-7 12zm-2-12zm-3-8zm-8 18zm-8-5zm-3-4zm-1-14zm-4 3zm-2 21zm-3-9zm-18-19zm-2 11zm-1 12zm-12-3zm-3 6zm-1-15zm-1-17zm-2 22zm-3-6zm-2 16zm-1-4zm-1-11zm-1 19zm-3-11zm-7 13zm-5-33zm-11 8zm-10 18zm-2-17zm-2 22zm-4-31zm-2 29zm-3-32zm-4 36zm-7-11zm-3-14zm-5 1zm-8 16zm-4 2zm-1-9zm-9 16zm-1-30zm-16 18zm-6 12zm-2-5zm-2-2zm-3-24zm-2-1zm-11 5zm-3 27zm-2-32zm-26 2zm-5 26zm-6-24zm-18 9zm-6-13zm-4 18zm-6-23zm-1 22zm-6-1zm-10-9zm-3-2zm-3 24zm-1-34zm-1 15zm-1 7zm-1-2zm-1 15zm-4-31zm-10 10zm-3-15zm-1 34zm-7-33zm-1 11zm-2-9zm-5 6zm-8-5zm-1-2zm-10 18zm-4-19zm-1 27zm-1-19zm-10-1zm-4 30zm0-32zm-6 23zm-2-10zm-4 9zm-11-26zm-4 24zm-2 7zm-4-14zm-14 9zm-8-28zm-8 31zm-9-13zm-4-15zm-17 4zm-1 3zm-3 1zm-6-8zm-2 11zm-5-5zm-4-2zm-1 3zm-11 9zm-2 16zm-7 0zm0-15zm-5-20zm-1 35zm-29-25zm-20 5zm-6 0zm-23 20zm-10-17zm-10 14zm-6-3zm-18-20zm-21 11zm-1-15zm-13 33zm-11-6zm-19 2zm-2 1zm-8-12zm-22-2zm0 1zm-7 2zm-9 7zm-1-15zm-10 17zm-3-23zm0-10zm0 16zm-2-14zm-1 5zm-20 14zm-23 11zm-10-10zm-5-20zm-3 0zm-3 9zm-12 2zm-4 8zm-11-18zm-14-4zm-6 36zm-2-36zm-16 24zm-12 3zm-162 45zm14 2zm22-5zm15-12zm12 0zm15 21zm0-7zm11-16zm0-6zm10 25zm2-4zm5-27zm2 13zm5 21zm16-35zm18 7zm2-3zm28 30zm1 1zm44-1zm13-15zm7-7zm10-9zm1 25zm7 2zm7-9zm6-17zm37 15zm8 18zm3-1zm1-32zm9 27zm30-18zm14 8zm10 12zm9-28zm3 10zm4-4zm15 4zm0-7zm6 24zm4-13zm2-3zm4 6zm0-2zm1-11zm7 22zm2-17zm9 16zm7-19zm22-1zm46 3zm2-3zm4 7zm5-15zm0 6zm7-1zm13-2zm7 2zm0 16zm13-19zm4 24zm3-15zm15 11zm27-21zm1 18zm15-20zm7 13zm3 18zm3 2zm6-19zm14 20zm2-1zm1-32zm1 24zm2-22zm11 10zm2 13zm6-22zm2 29zm0-21zm0 18zm7 6zm7-17zm5-7zm9 18zm3-19zm1-13zm7 3zm0 14zm5 6zm5 12zm0-19zm16 11zm1 5zm6 1zm11-20zm2 7zm2 12zm1-15zm0 2zm8 14zm2-21zm6 8zm3 16zm7-2zm4-15zm2 12zm1-2zm2-21zm1 17zm5-3zm5 16zm13-26zm2-3zm6 1zm1 9zm1 6zm1 3zm16 3zm16-28zm13 8zm1 4zm3 12zm1-19zm2 24zm2-33zm1 5zm3-3zm7 6zm4 30zm18-1zm21-4zm0-33zm13 38zm6-35zm5 4zm2 6zm6 0zm1-8zm3 27zm3-24zm6 19zm5-15zm12 16zm17-7zm2-19zm7 12zm5 8zm8 12zm6-17zm6-4zm1 7zm2-8zm8 13zm14 1zm1-16zm10 28zm9-12zm3-4zm4 9zm5-31zm4 27zm2-20zm1 10zm1-2zm11 12zm3-22zm10 11zm6-3zm6-2zm13 14zm14 13zm3-33zm5 32zm33 42zm-10 0zm-6-29zm-9 14zm-1-2zm-6 11zm-2-25zm-6-8zm-4 27zm-11-14zm-9 5zm-2 11zm-13-5zm-4 10zm-1-14zm-1-5zm-5 16zm-4-22zm-7-4zm-6 31zm-1-29zm-4 16zm-5-16zm-3-5zm-2 36zm-2-33zm-5 34zm-9-15zm-17 8zm-4 7zm-3-24zm-4 7zm0 14zm-1-11zm-3-7zm-4 11zm-2-1zm-2 11zm-8-23zm-1-4zm-3 21zm-7-5zm-2-9zm-1 14zm-11-21zm-8 11zm-15-20zm-14 35zm-11-29zm-22 22zm-12 2zm-2-13zm-1-15zm-3 18zm-20-19zm-1 2zm-4 15zm-2 14zm-1-24zm-7 18zm-5-12zm-1-14zm-5-3zm-16 25zm-5-5zm-2-16zm-2 34zm-1-30zm-11 19zm-3 4zm-12-1zm-12-29zm-11 16zm-5-12zm-3 25zm-13-2zm-14 8zm-1-15zm-5 17zm-27-24zm-13-5zm-5 8zm-1-4zm-22-4zm-12 5zm-6 22zm-6-7zm-5-3zm-6-17zm0 19zm-4-20zm-1-5zm-6 18zm-8 17zm0-6zm-14-13zm-23 13zm-1-24zm-3 13zm-3-5zm-4 21zm-26-1zm-1-13zm-29-23zm-19 26zm-5-10zm-10 9zm-13-9zm-3-11zm-4 5zm-11 23zm-14 0zm-30-23zm-15 20zm-3-29zm-9 31zm-6-13zm0-4zm-4-5zm-6-8zm-1 10zm-2 6zm-5-8zm-7 2zm-2 26zm-5-35zm-13 36zm-17-34zm-4 26zm-1-22zm-15 4zm-13 25zm-7-15zm-12-2zm-19 13zm-8-11zm-31 5zm-11-12zm-23 2zm-10 1zm-1-13zm-29 24zm-19-24zm-10-3zm0 27zm-3-28zm-25 0zm-4 13zm-10 19zm-2 4zm-11-1zm-3-19zm-4-6zm-14 24zm-3 3zm-9-36zm-12 16zm-18-2zm-3-5zm-30-4zm-2 21zm-12-24zm-7 33zm-7-25zm-20 14zm-7 4zm-1-19zm-11 9zm-91 55zm22-7zm15-17zm14 24zm9-11zm6-20zm13 16zm5-13zm3 23zm12-29zm5 10zm3-11zm18 14zm2 13zm6-16zm10 14zm2-10zm21-2zm2 12zm3 0zm0-11zm18-13zm19 0zm3 21zm12-4zm2 10zm8 2zm12-7zm20-19zm24-2zm4-3zm44 2zm27 4zm5 29zm1-35zm19 3zm4 10zm15 4zm3 14zm4-28zm7 21zm0-9zm8 21zm5-12zm3 11zm8-35zm6 4zm13 8zm1-10zm5 24zm16-9zm11-6zm8 12zm2-22zm8 10zm7-1zm8 0zm22 0zm9-7zm11 3zm8-4zm0 3zm1 22zm6 6zm11-1zm12-16zm0 9zm3-17zm24-7zm14 13zm16 15zm18 4zm10-33zm3 25zm2 5zm0-28zm1 10zm8 5zm8 9zm18-20zm3 32zm2-19zm10 4zm12-4zm18-13zm13 15zm13-16zm3 22zm2-20zm4 12zm4 19zm4-24zm11 16zm0 2zm8 3zm3-2zm0-24zm3 15zm7 15zm17-24zm10 23zm4-23zm19 23zm7-18zm3-14zm8 26zm8-4zm11-25zm1 7zm1 26zm0-12zm4 11zm4-26zm2 15zm23-7zm13 7zm2 5zm1-23zm6 8zm3 9zm2-13zm10 29zm13-18zm0 4zm3-1zm3 15zm2-21zm5 9zm4-3zm3 1zm2 13zm7-37zm0 13zm23 2zm2-15zm7 31zm2-17zm2 23zm1-25zm2-7zm13 21zm5-20zm9 11zm17 2zm4 9zm0-2zm12-22zm4 34zm5-11zm2 2zm0-29zm2 7zm3 4zm4 12zm6 9zm16-2zm6-31zm9 18zm4-13zm7 33zm10-13zm8 4zm3-28zm3 1zm0 36zm3-22zm2-5zm5 13zm6-10zm7 20zm1-21zm0 3zm2-5zm6 6zm2 14zm3-6zm2 13zm7-24zm8 15zm4-17zm15-9zm11 15zm1 11zm9-5zm26 14zm4-5zm1-27zm1 18zm6-18zm1 31zm3-28zm10 16zm1 4zm6-6zm1-4zm1 19zm11-24zm11 43zm-15-7zm-6-6zm-2 14zm-5-16zm-5-2zm-6 24zm-23 15zm-9-36zm-2 10zm-4 20zm0-33zm-6 22zm0-16zm-2 32zm0-11zm-5 8zm-4-7zm-5-21zm-7 15zm-4-7zm-5-10zm-4 9zm-3-12zm-2 4zm-1 4zm-4 15zm-1-8zm-1 9zm-8-10zm-7 10zm-4-13zm-1 8zm-25 9zm-4-1zm-3-1zm-1 10zm-4-13zm-1-17zm-10 14zm-1 1zm-7-21zm0 25zm-5 7zm-6-4zm-6-1zm-4-11zm-3-6zm-7 27zm-7-18zm-1-21zm0 19zm-1 17zm0-25zm-4 24zm-2-18zm-7-11zm-1 28zm-2-7zm-4-15zm0 1zm-2 4zm0 2zm-2 3zm-8-10zm-9-5zm-13 27zm-8-26zm-5 22zm-9-10zm0-16zm-4-3zm-2 14zm0 20zm-7-32zm0 35zm-5-32zm-10 29zm-5-15zm-5-1zm-7 7zm-7 4zm-5-12zm-5-5zm-1 20zm0-7zm-6-22zm-9 23zm-5 4zm-5 5zm0-33zm-19 10zm0 18zm-8-16zm-9 24zm-2-10zm-1-15zm-10 14zm-3-18zm-21 25zm-4-27zm-6 10zm-2 8zm-4-7zm-9-13zm0-1zm-1 17zm-8-21zm-5 9zm-3 27zm-1 0zm-18-12zm-1-20zm-1 28zm-3-30zm-4 19zm-1-2zm-5-12zm-8 16zm-11 12zm-10-26zm-2 12zm-5-9zm-4 12zm-5-16zm0-1zm-2 5zm-3-13zm-11 15zm-7-8zm-2 7zm-1-9zm-1 1zm-4 14zm-9-8zm-1-4zm-3 21zm-8 10zm0-9zm-3-1zm-15-18zm-18-11zm-5 12zm-1 3zm0 2zm-3 20zm-24-22zm-8-11zm-9 17zm-5 4zm-7 3zm-4-13zm-2 8zm-6-21zm-11 20zm-24-13zm-23-2zm-22 27zm-28-33zm-9 10zm0-11zm-19 33zm-5 2zm-10-15zm-5 12zm-8-23zm-6-4zm-14 29zm-4-32zm-20 26zm-4-9zm-5 0zm-3 5zm-8-8zm-13-13zm-6 29zm-6-24zm-5 25zm-5-6zm-1-1zm-4-19zm-40-7zm0 9zm-9 13zm-12 0zm0 3zm-5-14zm-6 21zm-4-23zm-15 23zm-38-18zm-4 0zm-20 17zm-6-9zm-10-18zm-2 25zm-2-23zm-7 21zm-22 2zm-4-11zm-7 10zm-7-17zm-1-9zm-6 5zm-4 11zm-20 17zm-8-35zm-22 24zm-4-2zm-2-1zm-1 5zm-2-11zm-6-11zm-7 7zm-1 18zm-1 1zm-1-8zm-8 7zm-6 1zm-5 5zm-9-11zm-6-2zm0 5zm-4-17zm0 27zm-5-11zm-3-6zm-2-19zm-13 37zm-4-38zm-5 12zm-7 1zm-6 16zm-3 1zm-8-11zm-5 12zm-12-6zm-8-4zm-54 48zm31-3zm3 7zm1-14zm10-15zm5 33zm16-21zm1-16zm21 1zm13 25zm10-11zm4 21zm13-14zm10 12zm2-19zm15 9zm17-16zm6-1zm5 9zm12 16zm1 5zm25-10zm21-7zm4 10zm25 5zm17-4zm8 3zm17-7zm7-19zm10 20zm13-3zm11-16zm16 2zm3 17zm15-8zm16-9zm8 7zm7 9zm7-15zm9-5zm39 9zm2 7zm4-13zm10 13zm4-7zm35 18zm10-28zm8 18zm14 6zm5-6zm8 9zm14-30zm5 28zm25-29zm1 28zm3-15zm14-4zm5 11zm1-3zm6 7zm14-4zm3 16zm8-20zm2 1zm2 11zm22 2zm2-16zm10-11zm3 0zm2 18zm1-9zm17-5zm4-3zm17 6zm0 18zm2-29zm5 33zm5 0zm4-30zm9 31zm6-23zm8 11zm5-4zm14-18zm10 9zm11 6zm4 11zm3-20zm1 14zm3-21zm3 29zm5-16zm6 19zm7-17zm17-3zm1 10zm2 9zm8-12zm8 8zm10 8zm1-15zm11-12zm9 21zm3-3zm17 1zm0-3zm15-3zm7-3zm10 8zm4-12zm1 4zm12-15zm2 4zm1 20zm0 1zm5-26zm0 13zm9 3zm14-2zm13 19zm7-23zm7 18zm13 5zm1-34zm2-1zm3 4zm4 19zm6 6zm7-24zm1 6zm5-5zm6 33zm0-34zm1 3zm1 15zm3-7zm0-8zm1-5zm0 1zm6 1zm9 17zm10-10zm5 0zm1 6zm0-10zm6 30zm3-13zm3-14zm4-6zm6 11zm0-14zm4 35zm3-34zm2 6zm8-9zm8 35zm6-5zm0 7zm1 0zm8-37zm1 28zm5 5zm7-29zm2 32zm10-32zm5 16zm5-6zm6 1zm10-1zm8-9zm3 29zm12-23zm2 11zm3 10zm13-32zm40 30zm29-18zm4 15zm9-3zm23-11zm1-3zm13 18zm4-17zm3 2zm1-1zm7-10zm3 6zm5-3zm15-4zm9 32zm10-1zm6-21zm3 15zm19-22zm0 34zm5-19zm3 12zm4 4zm1-9zm2-7zm4 16zm6-12zm13 39zm-3 12zm-1 5zm-9-11zm-4 6zm-6-29zm0 8zm-8 4zm-15 6zm-4-20zm-17 10zm-18-6zm-5 31zm-11-29zm-8-5zm-7 10zm-6-11zm-11 20zm-4-20zm-1 3zm-1 31zm-1-16zm-8 11zm-19-19zm-2 15zm-9-5zm-4 12zm-2-15zm-4 4zm-7-23zm-5 32zm-1-4zm-9-25zm-3 3zm-13 29zm-3 0zm-2-35zm-14 35zm-1-24zm-1 10zm-4-21zm-2 27zm-2 10zm-6-23zm-6 9zm-6 6zm-1-7zm-13-14zm-5 22zm-18 8zm-2-38zm-7 19zm-2-9zm-16 0zm-4 15zm-10-20zm-13 0zm0 19zm-6-2zm-18-13zm-9 27zm-2-35zm-1 37zm-4-17zm-2 9zm-4-16zm-3-3zm-1 12zm-3-3zm-9-11zm-11 12zm-8 1zm-6 14zm-12-23zm-25 3zm-3 22zm-14-15zm-5-9zm-14 16zm-13-28zm-54 9zm-4 12zm-3 15zm-3-33zm-2-5zm-7 7zm-1-4zm-9 26zm-6-19zm-9-8zm-23 9zm-4 26zm-24-36zm-3 27zm-4-11zm-6 13zm-6-23zm-1 21zm-3 1zm-12-19zm-30 25zm-29-35zm-7 32zm-10-5zm-4-21zm-20-6zm-20 27zm-6 1zm-2-22zm-3-6zm-13 5zm-6-6zm-12 10zm-3 29zm-8-3zm-14-27zm-6-4zm-2 14zm-2-12zm-6 31zm-9-17zm-20 9zm-28-25zm-5 2zm-38 32zm-2-26zm-17-11zm-8 20zm-13-5zm-14 15zm0-21zm-2 28zm-4-7zm-5-27zm-10 32zm-15-30zm-28 4zm-7-7zm-3 24zm-3-21zm-4 14zm-20 17zm-7-29zm-1 18zm-21-27zm-1 34zm-7-9zm-13 9zm-1-15zm-6 14zm0-15zm-2-10zm-27 23zm-11-26zm-1-2zm-3 7zm-16 15zm-15 12zm-12-17zm-12-10zm-11-5zm0 17zm-3-18zm0 1zm-3-2zm0 3zm-5 22zm-11 1zm-7-12zm-10 13zm-6-15zm-1 7zm-4-10zm-7 12zm-3 13zm-6-33zm-12 30zm-8-12zm0 5zm-34-19zm-1 29zm0-8zm-18-13zm-6 16zm-27-10zm-2 10zm-2 0zm-17 7zm-2-4zm-9-15zm-7 3zm-15 4zm-26 52zm19-34zm9 1zm16 26zm4-5zm14-5zm2 2zm4-13zm0 21zm2 3zm2-32zm8 17zm2-6zm3-6zm0 16zm4 0zm0 14zm2-16zm29-16zm5 23zm60-11zm0 16zm4-11zm1-13zm3 14zm2-24zm2 2zm12 8zm2 0zm2-4zm4 10zm5-8zm25 16zm14 11zm0-9zm20-24zm7 22zm10-10zm4-2zm1 12zm10-9zm16-15zm1 33zm17-5zm2-9zm0 12zm7-28zm3 34zm5-17zm2-14zm22-3zm16 34zm4-24zm10 25zm10 0zm7-1zm10-11zm0-23zm8 20zm6 9zm8-22zm16-7zm13 36zm2-21zm30 5zm2 15zm28-3zm9-13zm2 8zm5 9zm2-5zm14-23zm3 3zm3 7zm35-7zm8 4zm3 5zm4-22zm3 6zm15 8zm12-7zm2-1zm13 14zm25-18zm0 12zm12 8zm26-3zm10 0zm8-12zm4 13zm13 12zm8-15zm11-4zm5 19zm4-8zm5-13zm6-4zm4 29zm3-31zm34-1zm8-5zm14 8zm3-8zm3 21zm13-14zm7 4zm28 0zm3 4zm15-11zm9 32zm5-35zm16 13zm2 5zm4-16zm7-2zm15 19zm3 7zm2-14zm10 12zm6 11zm3-15zm1-21zm2 8zm14 23zm1-1zm0-10zm0 15zm12-25zm11 22zm8 5zm4 1zm10-36zm3 13zm29 22zm4-16zm12-14zm4 4zm5 24zm1 4zm1-23zm22 17zm3-14zm3-4zm2 10zm2 6zm1-13zm2-17zm4 38zm1-9zm5-18zm2-6zm5 0zm0 12zm23 18zm0 2zm1-33zm3 24zm13-17zm7 4zm2 9zm4-18zm6 32zm1-14zm4-4zm1 5zm7 11zm8-33zm6 21zm2-4zm4-20zm12 20zm13-9zm6 19zm1-24zm4 3zm0 14zm10 1zm16-10zm0 5zm8 12zm2-8zm1 8zm2 3zm7 3zm5-2zm7-27zm22 24zm1-6zm3-26zm6 10zm10 25zm1-23zm4-10zm0 15zm2-8zm3-2zm13-5zm8 14zm13-16zm3 5zm0 13zm3 12zm10-30zm1 30zm25 1zm12-16zm19 9zm2-12zm6 13zm2-9zm0-9zm5 27zm5-31zm5 32zm9-32zm7 22zm1 8zm-1 23zm0 7zm-2-14zm-1 23zm-13-17zm-11 15zm-3-23zm0-1zm-4 16zm-19 6zm-8-7zm-11 8zm-2-16zm0 2zm-3-11zm-14 22zm0 12zm-5-17zm-20 2zm-1-13zm-4 15zm-1-19zm-1 29zm-1-9zm-1 10zm0-3zm-7-23zm-6 19zm0-7zm-6 1zm-21-17zm-2 6zm-2 23zm-9-28zm-1 3zm-2 10zm-3-14zm-1-1zm0 13zm-8-10zm-6-9zm-3 14zm-1 18zm0-8zm-3-15zm-16-8zm-7 33zm-18-12zm-10 6zm-3-20zm-7 9zm-4-15zm-10 4zm-1 19zm-28 4zm-1-24zm-14 30zm-6-25zm-19-3zm-7 31zm-4-33zm-8 10zm-15 11zm-6 3zm-7-26zm-2-2zm-7 12zm-9-13zm-4 12zm-1-8zm-1 20zm-35 9zm-8-2zm0-11zm-35-2zm-12 5zm-3 4zm-18-9zm-7 2zm-6-12zm-10 11zm-18-19zm-8 0zm-10 15zm-5 20zm-20 0zm-5-4zm-7-15zm-11 16zm-1-15zm-36 17zm-4-13zm-7-10zm0 1zm-33 10zm-6-10zm-3-12zm-1 24zm-6-5zm-10 7zm-10 10zm0-18zm-3 9zm-1-7zm-27 18zm-71-1zm-9-19zm-2 7zm-2-17zm-11 6zm0 9zm-42-15zm-9-8zm-11 5zm-6 27zm-13-32zm-7 31zm-8-20zm-11 11zm-9-7zm-3-12zm-8 6zm-16 27zm-2 2zm-3-20zm-34 9zm-15-1zm-18 8zm-5-19zm-39-9zm-27 27zm-3-24zm0 25zm-3-25zm-12-5zm-19 0zm-5 28zm-37-32zm-4 5zm-18 0zm-5 22zm0-21zm-2-2zm-2 1zm-1 0zm-3 18zm0-5zm-1 16zm-1-20zm-35 20zm-2-12zm-3-12zm-6 1zm-4 19zm-7 6zm-3-33zm-16 3zm-5 24zm-1-13zm-2-12zm-1 27zm-1 1zm-10-24zm0 21zm-10 1zm-2-8zm-6-1zm-21-15zm-2 32zm-4-36zm-11 11zm-1-14zm-12 14zm0 3zm-10-17zm-8 3zm-15 7zm-7 6zm-3-14zm-11 21zm-13 9zm0-21zm-19 20zm-13-22zm-8 29zm-4-20zm-25 16zm-4-3zm-9-23zm-5 17zm-9 2zm-3-24zm-10 13zm-5-11zm-36 54zm3-13zm1 30zm0-19zm4-7zm1-4zm3 4zm24 8zm9-3zm6 12zm2 12zm8-26zm5 5zm1 18zm5-24zm14 26zm0-31zm9-6zm0 4zm15 0zm6 2zm6 22zm12 10zm11-15zm10 2zm11-12zm18 9zm7 6zm2-29zm39 24zm10-12zm7 22zm5-26zm2 10zm1 6zm4 10zm2-12zm2-2zm5 17zm3-34zm2 21zm3-20zm5 26zm15-8zm8-19zm2 30zm14-9zm3-18zm1 18zm39-24zm32 10zm8 8zm7-7zm25 14zm38 13zm21-28zm9 0zm34 19zm35-20zm3 18zm55 8zm11-33zm10 24zm21 6zm24 5zm6-28zm13 6zm6-3zm12 8zm0 12zm35-26zm30 1zm8 29zm1-4zm3-26zm3 20zm0-23zm0 32zm4-14zm17-2zm6-4zm11 12zm10-17zm6-9zm7 33zm2-14zm15 0zm1-9zm11 12zm16-22zm9 16zm3 21zm20-30zm3 18zm8 4zm22-1zm8-5zm2 10zm2-25zm12 30zm19-33zm17 1zm3 15zm0 12zm0-31zm7 28zm3-28zm4 18zm5 2zm2 7zm3 9zm30-6zm6-15zm3 16zm0-10zm11 0zm9-19zm8 25zm4-26zm4 21zm4-23zm5 5zm0 22zm13-15zm6 9zm7 10zm16-27zm32 24zm4 6zm3-34zm7 25zm7 11zm3-27zm2 20zm1-8zm17 1zm0 6zm13-25zm0 25zm5 6zm2 2zm29-23zm0-11zm2 6zm3 26zm3-9zm2-11zm1 22zm11-32zm1 1zm1-1zm0 22zm8-9zm1 16zm2-2zm1-26zm8 10zm4 16zm0 3zm8-31zm15 25zm1-19zm10 10zm3-10zm28 20zm15-9zm6 17zm4-15zm11-15zm5-2zm2 19zm13 5zm10-16zm8 0zm0-6zm3 16zm7-3zm13-6zm21-10zm23-6zm4 27zm1-13zm2 2zm11 4zm15-15zm7 9zm2 4zm15 15zm1-11zm9-12zm19 16zm15 18zm-20 8zm-15 9zm-4-3zm-3-12zm-5 1zm-6 13zm-20 16zm0-16zm-18-7zm0-11zm-4 17zm-10-11zm-3-1zm-4 8zm-5 1zm-4-6zm-25 19zm0-8zm-11-14zm-3 9zm-14-16zm-13 3zm-10 36zm0-10zm-8-22zm-3-1zm-5 14zm-2 5zm-8 14zm-19-11zm-6 8zm-10-36zm-1 31zm-10 8zm-5-12zm-6-11zm-2 1zm0 6zm-11 1zm-6-9zm-4 10zm-19 6zm-8 2zm-19 4zm0-21zm-17 1zm-2 11zm-12 9zm-3-27zm-4 26zm-5-15zm-5-4zm-14-14zm-1 17zm-7 16zm-4-1zm-2-10zm-4-24zm-11 7zm0 27zm-3-4zm-8-24zm-2-5zm-8 29zm-2-9zm-7 9zm-9-31zm-4 38zm-6-13zm-7-13zm-1 22zm-2 4zm-2-32zm-17 13zm-28-8zm-14 12zm-1-19zm-8 22zm-4-13zm-8 18zm-18-24zm-6 24zm0-16zm-3 21zm-8-31zm-9-4zm-2 4zm-12 8zm-6-10zm-10 12zm-4 13zm-5-22zm-7 23zm-13-29zm-3 24zm-4-2zm-4-6zm-13-5zm-8 18zm-4 10zm-7-15zm-6 15zm-14-20zm-3-11zm-8 30zm-1-25zm-19 22zm-15-28zm-4-7zm-17 39zm-67-19zm-16 14zm-11 3zm-17-35zm-5 11zm-19-1zm-11-12zm-11 21zm-2 3zm-2-11zm-6-4zm-34-2zm-38 2zm-9 14zm-13-11zm-11-5zm-1 16zm-7-4zm-4-13zm-5 1zm-6 4zm-11 11zm-10-22zm-7 37zm-4-27zm-7 13zm-5-20zm-11 11zm-9 9zm-4-13zm-8 28zm-23-4zm-36-11zm-8-11zm-27 9zm-16-2zm-9 0zm-6 20zm-3-24zm-12 19zm-22-11zm-2-14zm-7 11zm-3-18zm0 37zm0-33zm-2 16zm-3 10zm-3-7zm-6 0zm-7 6zm-7 0zm-6 5zm-8-7zm-7 2zm-8 5zm-7-35zm-4 22zm-16 4zm-3 10zm-6-9zm-2-16zm-7-3zm-11 9zm-3-1zm-40-17zm-1 0zm-1 38zm-3 0zm0-19zm-12 19zm-5-22zm-3 15zm-5-6zm-3 14zm-3-19zm-3 19zm-1-33zm-9 11zm-3 12zm-6-21zm-14 18zm-2-21zm-1 21zm-5-25zm-1 10zm-45 22zm-6-2zm-10-12zm-1-2zm-2 14zm-4 4zm-2-9zm0 1zm-4-10zm-26 3zm-24 53zm14-30zm14 30zm8-31zm14 20zm6-6zm27-3zm7 19zm5-12zm0 3zm4 14zm7-13zm20 4zm11-13zm13 17zm39-29zm8 34zm26-28zm7 18zm0-23zm3 14zm1 6zm15-1zm1-4zm1-18zm3 25zm1 11zm0-23zm7 2zm2 4zm4 5zm1 13zm2-17zm0 14zm14-16zm9 18zm14-37zm12 9zm8 26zm5-23zm2-2zm17 10zm4 6zm3-13zm0 26zm12-3zm12-25zm6 3zm16 22zm5-7zm0-28zm8 25zm7-18zm23 13zm6 7zm2-3zm1-13zm1 20zm3 3zm16-25zm3 29zm11-39zm30 1zm35 11zm10 24zm5-10zm1-20zm4 18zm22-13zm49 11zm14 3zm8 8zm3-27zm3 13zm5-14zm39 11zm13-4zm15 15zm4-19zm9 19zm8 10zm13-6zm8-11zm2 18zm7-26zm40 9zm12-6zm1 7zm12-10zm43 1zm16 17zm6-4zm2-18zm8 20zm1-12zm1 1zm15-2zm2 14zm12-2zm30-23zm1 9zm9 9zm4-7zm15 3zm3 21zm16-8zm14 4zm36-23zm4 10zm15-4zm6 8zm1 6zm28-16zm0 17zm22-4zm10-7zm8-11zm7-4zm64 27zm31 1zm2-12zm13-16zm3 13zm11 1zm9-19zm5 8zm0 4zm6 7zm3-11zm15 0zm15-1zm2 22zm2-25zm2 3zm5 8zm19-10zm1 5zm30 10zm4-3zm8 16zm0-6zm9-1zm15-24zm10 34zm2-35zm14 3zm1 9zm0-11zm11-2zm11 7zm12 25zm25-2zm2-29zm0 2zm17 7zm11-1zm8 23zm6-4zm4-14zm6 23zm8-22zm15 19zm27-27zm0 28zm9-2zm1-26zm7 30zm22-16zm6 8zm2-1zm5-25zm17 34zm5-20zm-13 21zm-23 16zm-21 8zm-2-7zm-2-5zm-17-2zm-9 15zm-3-9zm-12-3zm-1 20zm-3-1zm-13-28zm-19 11zm-7-1zm-32 8zm-11-12zm-2 0zm-7 5zm-18 4zm-3-17zm-1 2zm-7-3zm-6 20zm0-20zm-7 33zm-1-26zm-7-4zm-8 10zm-3-11zm-12 3zm-3 15zm-3 1zm0-22zm-9 2zm-1 28zm-42-6zm-5-23zm0 16zm-17-1zm-1 22zm-27-27zm-5-10zm-5 24zm-1 10zm-1-10zm0 7zm-9-21zm-2-3zm-15-2zm-6 23zm-1-7zm-2 1zm-1-20zm-7 6zm-13 22zm-6 4zm0-28zm-1 16zm-2 1zm-5-16zm-2 10zm-15 11zm-1-21zm-8 14zm-5 17zm-4-31zm-10 18zm0-6zm-7-1zm-15-10zm-9-8zm-17 10zm-13 25zm-10-16zm-6 4zm-7-1zm-15 0zm-2 4zm-2-26zm-1 26zm-4-21zm-7-3zm-2 3zm-11 1zm-36-7zm-31 35zm-2-14zm-8-19zm-12 35zm0-23zm-10 1zm-22-4zm-3 2zm-1 18zm-1-29zm-14 30zm-33 1zm-4 3zm-32-24zm-7 6zm-26 19zm-1-10zm-23-25zm-4 25zm-8-5zm-33-21zm-3 38zm-13-16zm-33 4zm-1 6zm-18-33zm-43 30zm-7-6zm-1-19zm-4 5zm-5-3zm-25 6zm-25 10zm-22 0zm-25-16zm-23 15zm-2 5zm-7-11zm-13 21zm-5-35zm-9 16zm-13 16zm-4-25zm-7 18zm-7 10zm-27-5zm-16-16zm-12-6zm-2 16zm-29-2zm-9 2zm-3-7zm-5 7zm0-6zm-11 3zm-13-4zm-2-16zm-5 25zm-5-23zm-9 25zm-7-23zm-2 28zm-38 0zm-11-5zm-1-11zm-4-9zm0-10zm-7 11zm-19-7zm-2 10zm-4-7zm-18 13zm-6 15zm-7-25zm-1-4zm-1 30zm-5-18zm-1 2zm-8 13zm-2-3zm-10-27zm-3 5zm-3 15zm-7 4zm-1-1zm-3-3zm-2-2zm-1 4zm-14-5zm-15-14zm-6 0zm-11-1zm-21 31zm-29-33zm-1-3zm-7 38zm-5-13zm-5-18zm-1 14zm-3 18zm-2 0zm-2-6zm-1-2zm0-5zm-31 9zm16 25zm0-11zm38 24zm13-12zm23-18zm16 31zm2-32zm27 29zm0-4zm9-17zm3 2zm19-7zm9 22zm0-27zm1 33zm17-12zm11-14zm5 11zm8 5zm1 9zm7-30zm2 8zm28 9zm0-8zm6 4zm3-12zm5 19zm17-4zm4 14zm10-20zm18-8zm7 16zm26 6zm3 7zm4-28zm16 31zm5-7zm14 8zm0-31zm10 3zm46 30zm19-22zm8-14zm9 14zm3-12zm5 33zm1-31zm11 24zm19-22zm58 4zm9-12zm18 14zm13-10zm13 26zm18-6zm0 12zm77-13zm20 4zm16-13zm16-4zm0 17zm31 9zm2-14zm36-1zm19-18zm33 24zm6-19zm6 26zm25-16zm1 8zm20-9zm8 14zm27-15zm11 17zm57-34zm2 21zm4-15zm50 9zm35 0zm2-5zm23 28zm1-38zm10 33zm1-15zm2-2zm13 21zm3-24zm3 0zm13-6zm8 22zm2-3zm17-4zm26-13zm20-4zm22 4zm0 17zm3-17zm8-1zm9 30zm0-31zm9 8zm3 1zm7-3zm2 23zm24-36zm4 24zm68-14zm11 17zm2-6zm12-21zm9 34zm0-32zm22 0zm7 15zm4 2zm2 15zm2-33zm13 14zm30-14zm5 5zm11 28zm2-32zm1 2zm15 29zm12-21zm2-3zm3 12zm8 17zm6-28zm19-8zm38 1zm15 12zm11 12zm18-16zm0-10zm-31 78zm-16-32zm-2 12zm-27 12zm-64-25zm-2 10zm-1 11zm-5-6zm-20-4zm-5 21zm-160-20zm-22-4zm-2 15zm-11-15zm-18 13zm-16 3zm-5-14zm-12 5zm-31 16zm-17 2zm-2-23zm-11-7zm-6-2zm-6 30zm-3-4zm-33-17zm-3-16zm-36 26zm-8-16zm-37-10zm-1 10zm-10 25zm-8-7zm-29 10zm-11-20zm-17-15zm-1 2zm-24 4zm-17 1zm-2 11zm-13 6zm-18-24zm-2 13zm-11-12zm-40 27zm-12-11zm-4-3zm-6-1zm-56-9zm-11 2zm-15-9zm-109 22zm-42 16zm-16-2zm-61-36zm-13 21zm-25-7zm-4 1zm-2 5zm-14-19zm-11 15zm-1 9zm-38-15zm-9 7zm0-5zm-6 25zm-7-33zm-2-4zm-8 27zm-63-4zm-23-22zm-4 4zm-35 15zm-4-5zm-1 4zm-6-16zm-2 10zm-20-6zm-50-5zm-33 7zm-71-6zm-16 5zm-5-4zm-72 21zm-32 13zm-6-28zm-3-1zm-8-7zm59 43zm63 10zm51 13zm47 0zm39-20zm0 25zm30-29zm23-4zm10 1zm13 6zm3-2zm27 0zm5 26zm2-15zm2 8zm43-23zm34 17zm40-8zm28 21zm15-17zm23 1zm28 4zm65 8zm4-20zm18 10zm33 2zm4-18zm37 27zm14-11zm9 8zm38-16zm76 1zm60-7zm28 22zm47-24zm50 9zm22 7zm13 1zm18-11zm25-2zm53 11zm7 22zm44 1zm9-16zm20-12zm44 14zm5-11zm7 14zm16-25zm103 23zm15 6zm23-12zm24-20zm28 29zm22-24zm13 28zm43-17zm2 2zm13-15zm4 52zm-140 21zm-44-19zm-77-3zm-40 3zm-60 19zm-6-24zm-21-6zm-36 4zm-8 29zm-22-10zm-39-28zm-2 13zm-11 0zm-22 6zm-16-16zm-50 3zm-9 2zm-105 26zm-18-3zm-34-9zm-111-19zm-75 26zm-36-27zm-36 27zm-128-5zm-23 7zm-351 35zm199-15zm9 12zm21-21zm1 31zm177-33zm124 19zm48 7zm7-25zm17 20zm59-21zm13 26zm200-11zm1 18zm44 1zm83-21zm2 3zm1 0zm3 5zm4-1zm10 12zm11-12zm21-5zm13 14zm115-22zm49-2zm8 27zm12-12zm13 13zm70-13zm209-1zm-197 23zm-222 20zm-39 9zm-32-25zm-11 3zm-63-7zm-37 30zm-30-8zm-5 3zm-34-21zm-3 32zm-23-9zm-32-18zm-99-11zm-177 15zm-460-16zm610 56zm49 0zm76-13zm49-2zm31 32zm2-10zm52-21zm492 31zm-310 11zm-62 18zm-76 17zm-11-4zm-247-5zm-132 5zm-9-7zm-52-10zm-24-17zm-144 23zm-420 51zm228-16zm696 16zm126-16zm74 2zm98-15zm5 26zm109 2zm296-16zm-485 26zm-39 25zm-82 6zm-124-23zm573 100zm-349 3zm-171 39zm417-16zm30-8zm-331 291zm-144 104zm196-5zm52 43zm-67 80zm-186 10z" stroke="#2bb5ad" stroke-width="22" stroke-linecap="round" fill="none"/>
<path d="M78.2 242V293.3H118" fill="none" stroke="#000" stroke-width="2"/>
<path d="M78.2 227.3L85.6 245.2L78.2 241L70.8 245.2Z" fill="#000"/>
<path d="M133.4 293.3L115.5 300.7L119.7 293.3L115.5 285.9Z" fill="#000"/>
<text x="68.6" y="266.3" font-size="8.8" fill="#1a1a1a" text-anchor="middle" transform="rotate(-90 68.6 266.3)">UMAP_2</text>
<text x="80.8" y="306.2" font-size="8.8" fill="#1a1a1a">UMAP_1</text>
<circle cx="76" cy="324.6" r="2.7" fill="#2bb5ad"/>
<text x="79.7" y="332.0" font-size="10.6" fill="#1a1a1a">Anterior Area of TM</text>
<circle cx="194.4" cy="324.6" r="2.7" fill="#7d2a90"/>
<text x="201.2" y="332.0" font-size="10.6" fill="#1a1a1a" textLength="126" lengthAdjust="spacing">Near-juxtacanalicular TM area</text>
</g>
<g id="panelE">
<path d="M469.1 48.5V339.2H581.5" fill="none" stroke="#000" stroke-width="1.9" stroke-linejoin="miter"/>
<path d="M469.1 78.3h2.6" stroke="#000" stroke-width="1.3"/>
<path d="M469.1 125.0h2.6" stroke="#000" stroke-width="1.3"/>
<path d="M469.1 171.7h2.6" stroke="#000" stroke-width="1.3"/>
<path d="M469.1 218.4h2.6" stroke="#000" stroke-width="1.3"/>
<path d="M469.1 265.1h2.6" stroke="#000" stroke-width="1.3"/>
<path d="M469.1 311.8h2.6" stroke="#000" stroke-width="1.3"/>
<path d="M497.2 339.2v2.6" stroke="#000" stroke-width="1.3"/>
<path d="M548.4 339.2v2.6" stroke="#000" stroke-width="1.3"/>
<text x="436.9" y="82.0" font-size="10.5" fill="#1a1a1a" text-anchor="middle">PMEL</text>
<text x="435.7" y="128.7" font-size="10.5" fill="#1a1a1a" text-anchor="middle">CFD</text>
<text x="437.3" y="175.39999999999998" font-size="10.5" fill="#1a1a1a" text-anchor="middle">TYRP1</text>
<text x="436.9" y="222.1" font-size="10.5" fill="#1a1a1a" text-anchor="middle">CHI3L1</text>
<text x="438.4" y="268.8" font-size="10.5" fill="#1a1a1a" text-anchor="middle">ANGPTL7</text>
<text x="436.9" y="315.5" font-size="10.5" fill="#1a1a1a" text-anchor="middle">MYOC</text>
<circle cx="497.2" cy="78.3" r="3.0" fill="#e8342f"/>
<circle cx="548.4" cy="78.3" r="0.9" fill="#4a35a8"/>
<circle cx="497.2" cy="125.0" r="3.6" fill="#e8342f"/>
<circle cx="548.4" cy="125.0" r="1.0" fill="#4a35a8"/>
<circle cx="497.2" cy="171.7" r="2.9" fill="#e8342f"/>
<circle cx="548.4" cy="171.7" r="0.9" fill="#5a40b0"/>
<circle cx="497.2" cy="218.4" r="0.6" fill="#4a35a8"/>
<circle cx="548.4" cy="218.4" r="1.9" fill="#e8342f"/>
<circle cx="497.2" cy="265.1" r="0.9" fill="#4a35a8"/>
<circle cx="548.4" cy="265.1" r="3.4" fill="#e8342f"/>
<circle cx="497.2" cy="311.8" r="2.1" fill="#3a2ca0"/>
<circle cx="548.4" cy="311.8" r="2.9" fill="#e8342f"/>
<text x="523.8" y="354.0" font-size="10.6" fill="#1a1a1a" text-anchor="end" transform="rotate(-30.5 523.8 354.0)">Anterior Area of TM</text>
<text x="580.3" y="352.9" font-size="10.6" fill="#1a1a1a" text-anchor="end" transform="rotate(-30.5 580.3 352.9)" textLength="126.5" lengthAdjust="spacing">Near-juxtacanalicular TM area</text>
<defs><linearGradient id="gE" x1="0" y1="0" x2="0" y2="1"><stop offset="0" stop-color="#ee3a30"/><stop offset="0.25" stop-color="#e72a55"/><stop offset="0.5" stop-color="#c02488"/><stop offset="0.75" stop-color="#8030a8"/><stop offset="1" stop-color="#4a35a8"/></linearGradient></defs>
<rect x="614.2" y="83.6" width="10.4" height="48.4" fill="url(#gE)"/>
<text x="628.1" y="95.5" font-size="8.7" fill="#1a1a1a">0.4</text>
<text x="628.1" y="110.6" font-size="8.7" fill="#1a1a1a">0.0</text>
<text x="628.1" y="124.39999999999999" font-size="8.7" fill="#1a1a1a">−0.4</text>
<text x="607.8" y="102.9" font-size="8.65" fill="#1a1a1a" text-anchor="middle" transform="rotate(-90 607.8 102.9)">Average Expression</text>
<text x="607.8" y="196.8" font-size="8.65" fill="#1a1a1a" text-anchor="middle" transform="rotate(-90 607.8 196.8)">Percent Expressed</text>
<circle cx="618.2" cy="180.8" r="2.9" fill="#000"/>
<text x="624.7" y="181.1" font-size="8.3" fill="#1a1a1a">60</text>
<circle cx="618.2" cy="193.8" r="2.0" fill="#000"/>
<text x="624.7" y="194.1" font-size="8.3" fill="#1a1a1a">40</text>
<circle cx="618.2" cy="205.6" r="1.1" fill="#000"/>
<text x="624.7" y="205.9" font-size="8.3" fill="#1a1a1a">20</text>
</g>
<g id="panelF">
<rect x="738.3" y="34.1" width="314.2" height="142.7" fill="#fff" stroke="#3d3d3d" stroke-width="1.15"/>
<text x="898.6" y="30.3" font-size="10.6" fill="#1a1a1a" text-anchor="middle">Mapping near-juxtacanalicular TM area</text>
<polygon points="748.0,85.2 750.0,83.6 753.8,82.6 761.3,80.0 772.0,76.8 782.6,74.6 793.2,72.5 799.6,70.4 809.9,69.8 821.3,69.6 832.7,69.5 844.1,70.6 855.5,71.8 866.9,71.6 876.0,73.2 880.6,76.6 885.2,82.0 888.0,83.4 888.0,100.2 885.2,99.6 880.0,100.6 874.0,99.6 868.0,96.6 862.0,92.6 855.0,88.6 847.0,84.0 838.0,79.6 830.0,76.6 821.0,75.4 810.0,74.8 798.5,76.0 787.0,79.5 775.6,82.8 764.2,85.6 756.0,88.0 750.5,88.4 748.2,87.2" fill="#05030c"/>
<polygon points="886.0,82.6 890.0,83.2 901.4,82.6 912.8,83.4 924.2,85.7 935.6,89.6 947.0,94.8 958.5,100.5 969.9,106.2 981.3,112.4 992.7,118.8 1004.1,125.6 1013.2,131.4 1017.8,136.1 1015.5,136.3 1004.0,133.2 992.7,128.6 981.3,124.0 969.9,120.3 958.5,115.8 947.0,110.3 940.0,109.8 935.6,108.5 930.0,104.0 924.2,101.6 912.8,100.6 901.4,101.6 890.0,100.4 886.0,99.8" fill="#07040f" stroke="#fff" stroke-width="1.6" stroke-linejoin="round"/>
<polygon points="800.6,121.6 803.0,117.6 808.2,115.6 815.0,117.6 821.3,119.8 826.0,122.4 831.0,124.4 838.0,124.6 844.0,122.6 848.7,119.6 853.0,116.4 857.8,113.8 862.0,114.6 866.9,115.2 872.0,114.2 878.3,113.0 884.0,112.6 889.7,112.8 895.0,112.4 901.4,112.4 907.0,114.4 912.8,117.6 918.0,120.8 924.2,123.6 930.0,125.6 935.6,127.2 941.0,128.6 947.0,130.4 953.0,132.0 958.5,133.8 964.0,135.6 969.9,137.4 975.0,139.0 981.3,141.0 985.0,142.6 988.1,144.6 989.6,147.0 990.6,150.0 989.4,153.0 990.8,156.0 992.4,160.0 993.0,164.0 991.6,167.2 989.4,165.6 988.1,160.4 986.0,159.2 984.6,162.0 981.3,164.8 977.4,165.2 974.4,163.4 970.4,159.6 967.0,156.0 963.6,152.6 960.0,149.6 955.6,147.4 951.0,146.0 947.0,145.4 941.0,146.2 935.6,147.4 930.0,149.4 924.2,151.2 918.0,151.6 912.8,151.0 907.0,150.2 901.4,149.8 895.0,150.4 889.7,152.6 884.0,154.0 878.3,154.8 872.6,156.2 866.9,158.2 862.6,162.0 858.6,164.8 854.6,163.6 851.0,160.6 848.7,160.2 845.0,162.0 841.0,163.4 837.3,162.2 833.0,159.6 828.1,157.4 822.0,154.2 816.7,150.8 812.6,147.0 809.9,143.6 808.0,139.0 806.4,134.6 803.8,131.4 801.0,128.6 799.8,125.0" fill="#0a0516" stroke="#fff" stroke-width="2.6" stroke-linejoin="round"/>
<path transform="scale(.1)" d="M8608 718zm-118-2zm-10 3zm-2-4zm-128-14zm-36 4zm-15-4zm-6 3zm-100-3zm-85 6zm-3-9zm-9 3zm-15 5zm-40 1zm-210 39zm30 4zm4-5zm13 2zm29-8zm32 1zm25 11zm9-31zm37 2zm39 11zm15 14zm54-14zm3-13zm17 26zm15-11zm42-3zm39 10zm60-10zm0 24zm5-4zm36-21zm1-9zm7 18zm9 16zm3-28zm5 22zm7-8zm3-7zm13-8zm18 18zm2-23zm20 5zm3-1zm10 17zm5-12zm43 26zm11-25zm7 9zm6 14zm8-18zm1-2zm29-5zm1 19zm0-5zm17-23zm12 31zm55-24zm33 3zm17 18zm0-5zm14 4zm23-8zm3 5zm1-18zm12 3zm19 5zm5-1zm16 12zm13 47zm-12-13zm-34 14zm-14-31zm-28 3zm-12 24zm0 9zm-14-20zm-29 6zm-46-3zm-14-13zm0-7zm-3 11zm-27-3zm-46 20zm-31 8zm-1 1zm-1-26zm-19 2zm0 9zm-18-13zm-3 19zm-12-19zm-33 26zm-33-30zm-14 15zm-6-15zm-437 13zm-8 4zm-41-6zm-22 16zm-8-13zm-12 2zm-1-9zm-5 23zm-32-34zm-183 67zm38-6zm2 11zm4-4zm11-7zm9 11zm9-27zm0 19zm20-21zm9 31zm6-35zm14 30zm17-25zm12 12zm55-8zm5-11zm632 14zm11-6zm17 26zm6-30zm24 8zm2-7zm1 19zm15-3zm9 10zm1-24zm4-6zm12 29zm17-16zm5 2zm11-6zm8 21zm14-5zm6-7zm15 13zm16 0zm21 5zm21-8zm4-22zm8 29zm14-11zm6 7zm18-1zm12 3zm3-14zm43 7zm9-19zm9 7zm34 6zm37 25zm0 4zm-48-4zm-25 15zm-46 13zm-8-33zm-9 28zm-11-17zm-26 5zm-11 7zm-32-13zm-4 3zm-46 3zm-5 15zm-4-31zm-6 34zm-20-35zm-12 15zm-11-3zm-923 11zm-12-4zm-56-18zm-1 20zm-3-1zm-7 8zm-39-5zm-4-11zm1075 42zm11-4zm4 13zm3 2zm22 3zm16 9zm18-10zm29-2zm2 14zm18-24zm7-6zm6 22zm7-24zm31-4zm16 6zm6-9zm6 22zm19-20zm6 32zm3-19zm41 21zm-55 26zm-1 1zm-1-9zm-4 15zm-13-19zm-8 26zm-34-8zm-19-18zm-20 21zm-3-16zm-11 22zm-4-18zm0 2zm-15-3zm-22-17zm65 41zm26 5zm8-6zm17 18zm29-9zm2-7zm6 7zm7 15zm0-20zm14 2zm2-2zm24 17zm3-10zm6 1zm13 3z" stroke="#06030c" stroke-width="17" stroke-linecap="round" fill="none"/>
<path transform="scale(.1)" d="M8864 837zm105-7zm36 6zm271 22zm-80-1zm-3-12zm-60 26zm-3-3zm-61-5zm-6-16zm-24 26zm-10-32zm-8 16zm-1 16zm-17-15zm-4-10zm-5 13zm-1-11zm-17-8zm-1 10zm-15 26zm-12 1zm-23-16zm-3 12zm-1-22zm-12 20zm-5 6zm-16-23zm-6 4zm-8-17zm-2-1zm-1 12zm-1 9zm-1-7zm-4-1zm0-5zm-1 5zm-7-11zm-5 0zm-5 3zm-351 70zm29-6zm18 1zm15 1zm313-14zm2-17zm1 23zm0 13zm5-26zm2 11zm4-18zm15 33zm0-28zm3 10zm11 0zm4 19zm8-16zm29 10zm6-2zm10 4zm12-25zm4 29zm0-3zm33-18zm19-10zm30 24zm8-25zm36 2zm25 20zm69-10zm21 9zm8-18zm34-2zm59 22zm68 33zm-45 15zm-5-21zm0-5zm-15 9zm-86 3zm-1-12zm-1 13zm-24 9zm-17-31zm-28 16zm-43-2zm-11 4zm-9 4zm-17 7zm-7-11zm-21-4zm-36 22zm-6-8zm-6-2zm-24-4zm-11 6zm-12-29zm-33 11zm-17-6zm-18-6zm-19 11zm-5 22zm-1 1zm-5-22zm-9 7zm-190 18zm-4-1zm-11-1zm-3-6zm-7-11zm-24 14zm-3 5zm-1-34zm-1 30zm0-7zm-2-3zm-2-4zm-6 4zm-9-16zm0-5zm-5 7zm-13 29zm-1-18zm-3-11zm-3-6zm-2 0zm-4 31zm-4-1zm-23-29zm-3 30zm-3-32zm-3 17zm-5-6zm-2-13zm-9 36zm-1-12zm-1 6zm-2-17zm-3 0zm-4 13zm0 9zm-8-33zm0 33zm-13-3zm-7-19zm-3 24zm-7-25zm-7 22zm-32-4zm37 11zm96 12zm28-8zm7-3zm6 11zm30 9zm14-16zm1 2zm5 7zm11-10zm4 4zm1 0zm13 12zm2-5zm11-3zm6 6zm1-2zm157-3zm14-8zm0 18zm11 8zm7-27zm18 11zm1-6zm0 18zm24 5zm12-15zm32 10zm76-11zm23 5zm1-4zm16-10zm20 10zm39 12zm5-2zm14-6zm12 13zm2-21zm76 15zm1 8zm22-11zm24-21zm48 7zm46-13zm6 23zm7-15zm54 0zm101 37zm-41 9zm-81-8zm-38 15zm-4 6zm-92-25zm-51 11zm-29-13zm-163 9zm222 43zm45 0zm9 4zm48 8zm41-3zm15-10zm18 21zm22-6zm8 8zm5-22zm1-6zm26 1zm16 16zm13 2zm25-21zm49 17zm60 13zm36 11zm0 10zm-20 1zm-20-12zm-26 30zm-42-20zm-1 21zm-2 0zm-17-25zm-65-4zm-909 59zm911-12zm4-13zm9 15zm38 4zm32 11zm57-4zm38 2zm14-13zm5-5zm7-5zm72 30zm1-28zm21 26zm57 13zm-39 6zm-43-11zm-15 8zm-41 11zm-4-15zm79 50zm37-12zm13-3zm45 26zm55 13zm26-3zm26 32zm-9-23zm-17 18zm-12-16zm-48 52zm56-10zm47 27zm38-27zm55 57zm-48-17zm-13 11zm-3-16zm-39-3z" stroke="#06030c" stroke-width="19" stroke-linecap="round" fill="none"/>
<path transform="scale(.1)" d="M8036 756zm8 3zm62-10zm22 8zm6-3zm6 4zm48-1zm6 2zm180 36zm-12-2zm-8-1zm-10-2zm-10 1zm-5-9zm-3 5zm-11-14zm-18-3zm-22-2zm-14-1zm-13-1zm-4-6zm-1 8zm-11-8zm-14 2zm-1 7zm-3 9zm0-13zm-1 5zm-2 18zm-1-25zm-4 1zm-3 11zm-3 5zm-1-4zm-6-10zm-2 2zm-52-8zm-1 8zm-24-3zm-11 6zm-23-2zm-5 1zm-9-10zm-47 9zm-10 0zm-6 5zm-25 0zm-1-4zm-47 17zm-19-1zm-14 6zm-12-2zm-144 47zm2-6zm59-10zm13 16zm47-27zm57-1zm421 21zm27-23zm23-4zm4 2zm8 5zm5 7zm18 14zm2-13zm3-1zm6 21zm5-12zm2 3zm4-1zm8 7zm21 4zm49 34zm-4-3zm-52 5zm-2-13zm-731-22zm-9 2zm782 47zm20-1zm0 2zm1 13zm0-23zm0 8zm1 10zm1-18zm5 23zm8 3zm4 5zm9-16zm1 3zm24 16zm19 0zm55 44zm-7-4zm-13 4zm-5-7zm-6-18zm-2-6zm-10 2zm-10-1zm-13-1zm-2-6zm-1 8zm-14-2zm69 33zm14 15zm12-4zm14-5zm3 14zm13 3z" stroke="#06030c" stroke-width="18" stroke-linecap="round" fill="none"/>
<path transform="scale(.1)" d="M8106 716zm-156 42zm11-9zm3 0zm1 2zm1 6zm1-9zm10 3zm52-2zm4-3zm9-6zm8 19zm5-20zm8 17zm10-22zm3 10zm3-3zm1 8zm3 5zm6-1zm3-5zm12-10zm2 1zm3-7zm5 19zm11-12zm3 16zm10-25zm2 21zm2-11zm2 4zm0-12zm48 16zm5-3zm1 10zm2-7zm5-10zm15 9zm2-2zm4 5zm13-6zm87 4zm1 11zm1-2zm8-4zm4 5zm37 1zm11 18zm-6 13zm-1-21zm-4 8zm-1 18zm0-1zm-2-3zm-10-9zm-1 12zm-15-25zm-10-3zm-1 17zm-1 1zm-1 3zm-1-19zm-4 6zm-2-8zm-4-2zm-2 10zm-4 22zm-3-32zm-2-2zm-20 1zm-16 6zm-12 27zm-13-7zm-10-2zm-23-6zm-3-15zm-4 14zm-24 19zm-66-14zm-4-15zm-3 22zm-21-14zm-1-16zm-2 9zm-13-4zm-6 3zm-22 3zm-22-5zm0 12zm-6-2zm-53-17zm-8 17zm-11-12zm0-2zm-5-3zm-45 15zm-6 21zm-15-12zm-15-9zm-8 0zm-1 15zm-143 34zm53-21zm5 9zm3 3zm68-13zm1-2zm22 22zm1-23zm25 0zm7 37zm26-2zm7-4zm7 3zm33-26zm2 29zm115-18zm0-14zm67 13zm3 16zm44-3zm5 2zm5-2zm13-2zm28-26zm6 32zm12-28zm5 9zm6 15zm3 6zm2-9zm1-3zm0 7zm2-3zm0 4zm1-4zm5-2zm2-18zm0 25zm1-30zm1 11zm0-10zm1 30zm1-20zm1 10zm2 14zm2-3zm2-20zm2 10zm0-16zm1 14zm5-19zm1 18zm5 0zm1-20zm2 32zm0-14zm5-7zm3-1zm2 5zm2-17zm17 35zm31-9zm3 12zm13-27zm6 15zm10-15zm4 24zm7-12zm2-11zm1 22zm1-21zm1 24zm1-15zm1-6zm4 18zm1 0zm0-23zm0-10zm4 30zm12-12zm110 50zm-4 8zm0-2zm-22 0zm-49-16zm-4 3zm-2 5zm-13-16zm-6 27zm-16-32zm-11 1zm-1 2zm0 2zm-6 11zm0-11zm-5-4zm-4 7zm-7-9zm-17 6zm-3 0zm-7-6zm0-3zm-2 5zm0 13zm-3-17zm-14 17zm-2-18zm-11 33zm-8-29zm-2 4zm-1 10zm-11-9zm-6 8zm-1-17zm-2 9zm-2-11zm-1 0zm-1 12zm0 8zm-4-10zm-4 8zm-9-16zm-3 17zm-4-1zm-11 5zm0-5zm-1 9zm-3 0zm-2-6zm-2-13zm-4 22zm-1-8zm-5-12zm-13 17zm-1 2zm-29-3zm-8-22zm-27-4zm-5 31zm-2 1zm-6-30zm-31 3zm-15 22zm-4-11zm-12 13zm-10 4zm0-19zm-4 21zm-9-13zm-16 7zm-31 1zm-14-7zm-7-1zm-3 9zm0-4zm-66-27zm-14 21zm-5-15zm-60-6zm-3 2zm-6 27zm-4-21zm-17 23zm-14-1zm-65-22zm-28-4zm-13 32zm-33-17zm-9 11zm-86-28zm-5 15zm-7 13zm-4-2zm-7-1zm-5-1zm111 37zm11-11zm2 1zm8-2zm22 17zm47 9zm2-10zm3-10zm6 12zm22 4zm13-10zm1 3zm33 9zm15-6zm10-11zm51-6zm14-5zm20 23zm12-2zm18 6zm7-9zm41-8zm18-13zm7 22zm0 2zm10 7zm14 0zm44-1zm1-31zm43 18zm2-8zm2 11zm29-10zm2 1zm2-9zm8 11zm6 0zm1 3zm0-6zm1 5zm3 7zm3 2zm1-16zm0-6zm4 2zm5 6zm0 13zm2-17zm11 22zm3-25zm1 14zm2 11zm0-7zm2 4zm12 5zm8-6zm4-11zm2 6zm0-5zm3 17zm14-14zm19 7zm4-24zm3 24zm2 2zm3-28zm3 25zm1 0zm0-19zm2 27zm1-11zm3 10zm8-13zm0-1zm10 1zm7-9zm4 4zm7-15zm3 30zm1 0zm2 0zm3 5zm25-9zm2-7zm2-1zm15 1zm5 3zm0-4zm4 13zm5-1zm0-5zm11-9zm5-8zm5-10zm7 2zm2-2zm5 29zm5-19zm7 22zm3 5zm16-14zm1-4zm10 17zm2 2zm25-30zm1 12zm1-12zm1 10zm6 15zm1 5zm2-25zm4 15zm1 9zm2-14zm3-7zm0 4zm0 4zm6-5zm0 12zm4 2zm5-1zm4-2zm3-22zm3 24zm13 2zm10-20zm130 61zm-96 3zm-3-19zm-6-3zm-6 5zm-2 10zm-11-30zm-5 18zm-2 3zm-3 9zm-4-28zm-2 5zm-3 18zm0-2zm-9 10zm-9-8zm-2 4zm-2-7zm0 7zm-1-24zm-4 11zm-4 14zm-1 5zm-1-23zm-1-1zm-1 16zm-3-24zm-1 14zm-3 18zm-1-1zm-1-25zm-4 0zm-2 21zm-1-24zm-1 10zm-4 12zm-2-18zm-5 16zm-21-25zm-5 10zm-13 2zm-1 14zm-2-20zm-1 12zm-8-5zm-7 20zm-3-34zm-6 38zm-6-18zm-1-12zm-11-4zm-1 27zm-16-25zm-7-7zm-8 37zm-3-19zm-10-10zm-4-1zm-1 10zm-1 13zm-8-25zm-12 4zm-1 18zm-6 8zm-2-13zm-16-5zm-10 15zm-6-26zm-1 12zm-5-1zm-2-17zm-4 23zm-12-22zm-8 14zm-11 19zm-11-14zm-3-12zm-4 26zm-1-26zm-1 29zm-6-21zm-3-11zm0-2zm-8 6zm-11 6zm-1 12zm-1 0zm-6 11zm-24-32zm-11 31zm-14-1zm-57-12zm0 9zm-13 5zm-4-29zm-11 8zm-10 9zm-3-25zm0 21zm-6 11zm-2-14zm-1 0zm-1 12zm-5-5zm-22-13zm-5-10zm-1 33zm-8-2zm-13-21zm-4 16zm-2-2zm-6 11zm-2-6zm0-15zm-2 16zm-1 2zm0-1zm-5-18zm-10 7zm-2 14zm-2 1zm-7-17zm-2 2zm-35 14zm-15-33zm-12 7zm-22 9zm-14 7zm-10 10zm-6-4zm-28-19zm-1 20zm-1-6zm-5-1zm-1 7zm-1-3zm-6 3zm-5-1zm-1-7zm-1-2zm-6 13zm-4-9zm-20 9zm-3-12zm-2 7zm-24-32zm-10 20zm-8-14zm-4 31zm-16-35zm-2 22zm20 37zm5-12zm0 8zm4-10zm1 23zm3-23zm5 21zm21 7zm2 0zm1-19zm5 7zm8 2zm8-13zm21 14zm6 1zm3 1zm4 6zm0-30zm7 19zm1 4zm1 6zm18-21zm6-7zm3 2zm5-3zm5 12zm1-9zm26-3zm5-2zm10 16zm6 16zm1-15zm2 5zm0-10zm1-2zm17 24zm2-3zm26-24zm3-2zm2 4zm0-8zm5 26zm4 6zm0 4zm0-32zm0-6zm3 6zm8 16zm14-19zm4 26zm1-20zm4 17zm8-8zm1 8zm1-2zm1-14zm3 14zm3 2zm2-22zm1 22zm3-7zm6-7zm0 4zm11-15zm1 26zm8-8zm6-6zm11 20zm3 2zm32-24zm5-2zm5-4zm6 23zm2-21zm14 19zm8 4zm1-18zm17 21zm6 2zm2 0zm1-30zm5 33zm5-19zm4-1zm9 12zm18 2zm0-25zm4-2zm5 0zm1 5zm3-2zm8 2zm0-6zm9 22zm2-15zm9-7zm2-5zm2 25zm1-18zm0-6zm4 19zm13-18zm3-2zm5 5zm55 1zm7 14zm1-15zm4 2zm25-4zm1-3zm93 10zm9-10zm6 6zm34 1zm1-3zm26 0zm17 3zm2-4zm2-3zm9 4zm3 1zm3-5zm3 8zm40-5zm6 5zm6-2zm6 5zm1 0zm21-9zm29 14zm1-2zm5-5zm1-3zm15 27zm14-22zm3 24zm3-5zm0 8zm4-3zm6-17zm51 14zm-41 17zm-499-4zm-45 6zm-30-3zm-28 3zm-11 12zm-5-16zm-8 27zm-4-16zm-20 6zm-2 11zm-5 4zm-2-25zm-7 2zm-19 13zm-3-7zm-2-21zm-3 4zm-3 32zm-7 0zm-10-7zm-7-3zm-3-14zm-22-12zm-1 8zm0 11zm-5-9zm-16 22zm-5-32zm-12 2zm-4-1zm-3 31zm-6-33zm-5 37zm-9-17zm-1-19zm-2 34zm-6-9zm-2 3zm-1-1zm-58-11zm-8-11zm-10 8zm-17 6zm-9 13zm-6 5zm-2-13zm-22-24zm-18 0zm-23-1zm-7 31zm-9 6zm-6-12zm-3-14zm-5-9zm-3 14zm-16-8zm76 47zm7-3zm5-7zm38 29zm4-7zm3-26zm4 10zm2 26zm10 0zm13-10zm4-15zm4 24zm2-5zm1-8zm6-9zm5 9zm1-13zm2 8zm9 10zm5 2zm12-18zm3 12zm5-21zm0 7zm0-10zm6 27zm3-12zm0-7zm0 27zm1-33zm4 19zm0-6zm1 15zm10-13zm0 7zm1 5zm6-17zm9-6zm12 27zm1 3zm6-11zm13 14zm4-4zm8-4zm1 5zm19-9zm5-17zm3-10zm2 29zm1-22zm1-6zm2 18zm3-1zm3-4zm6 24zm8-28zm3 15zm2-10zm14 1zm5-12zm3 14zm9 20zm37-21zm20-16zm21 53zm-28 11zm-2-22zm-1 1zm-1 35zm-33-16zm-1-10zm-6-7zm-2 16zm-2-14zm-31 30zm-22-27zm-11 5zm-1-16zm-27 31zm-4-30zm-4 35zm-7-32zm-1 29zm-1-28zm-3 3zm-1-6zm-2 34zm-1-11zm-3-11zm-1 18zm0 4zm-7-5zm-3-2zm-2-12zm0-11zm-4 4zm-2-4zm0 6zm-1 17zm-3 3zm-5-11zm-2-21zm-2 21zm-6-7zm-2-2zm0-12zm-11 27zm-26-23zm-9 26zm-1-15zm-10 20zm-4-34zm-1 35zm0-16zm-3-4zm-5-11zm-4 26zm-2-16zm-2 22zm0-28zm0 12zm-9 16zm-1-16zm-8 7zm-1 2zm-1-18zm-1 27zm-1-22zm-41 7zm-3 7zm-2 3zm-13-16zm-18 4zm-2 3zm6 29zm2 21zm15-35zm9 34zm1-8zm1 7zm0 1zm5 2zm6-17zm0-1zm11 13zm12-7zm9-17zm6-5zm2 0zm1 0zm2-1zm4 32zm0-1zm5-20zm3 6zm6 16zm1 3zm6-33zm34 1zm6-2zm2 0zm2 35zm3-20zm6 15zm0-32zm1 32zm14 0zm4-12zm3 10zm9-1zm3-16zm5 8zm3 3zm5-20zm1 22zm0-6zm2 14zm4-30zm1 3zm4-8zm1 34zm0-18zm4 7zm1 6zm0-16zm15 22zm2-17zm19-17zm28 30zm2-10zm0-13zm4 10zm3 21zm9-3zm3-23zm4 0zm4-1zm1 10zm8-10zm4 10zm3-8zm2 11zm3-11zm0 15zm4-27zm1-1zm4 5zm0 4zm0 21zm2-2zm0-25zm4 25zm4-2zm2 11zm2-17zm2-15zm1 26zm3-19zm15 23zm11-2zm7-2zm1 2zm17-14zm5-2zm3 16zm0-16zm1 18zm3-2zm20-30zm17 17zm17 12zm6 4zm20 1zm28 1zm16-7zm40 1zm135 1zm14 2zm4 1zm46-5zm21-7zm10 2zm36-10zm6-2zm-60 30zm-34 16zm0-17zm-2-2zm-9 7zm-5 2zm-2-9zm-8 15zm-1-14zm-4 14zm-1-13zm-4 9zm-3-1zm-7-5zm-4 24zm-4-21zm-3-8zm-29 35zm-7-4zm-4 5zm-2-20zm0-14zm0 3zm-19 23zm-20-14zm-20 19zm-15-29zm-3 16zm-7-12zm-4-4zm-3 22zm-1 7zm0-6zm-1 4zm-4-2zm-1-30zm-1 17zm0-11zm-3 26zm-3-28zm-6 4zm-8-1zm0 16zm-1 5zm-4 8zm-6-22zm-7 15zm-1-21zm-2 14zm-1 9zm-1-13zm0-14zm0 31zm-2-26zm-2 24zm-5-24zm-2 5zm-5 14zm0-14zm-4-4zm-1-10zm-5 21zm-1-14zm-1 13zm-32 18zm-2-18zm-2 2zm-2-2zm-4-6zm-1 14zm-1-13zm-2-1zm-9 10zm-2-22zm-30 1zm-4 4zm-8-8zm-6 0zm-12 1zm-2-1zm-7 12zm-11-12zm-13 2zm-2 34zm0-6zm-12-23zm-11-7zm-7 8zm-4-1zm-3 18zm-3-4zm0 3zm-3-15zm-5-3zm-9 32zm-2-12zm0-17zm-3 8zm-1 9zm-15-9zm0-6zm-3-3zm0 20zm-24-22zm-1 8zm-14-10zm0 13zm-4-6zm-7-6zm-31-2zm-3-1zm-15 13zm-57-1zm-8 3zm-1 3zm-3-8zm-4-7zm-1 10zm-1-14zm-5 4zm-3 17zm-3-9zm-13 17zm-27-27zm-2 2zm-6 5zm-3-10zm0 15zm-7-15zm350 45zm9-3zm25-1zm1 15zm9-11zm2 22zm1-11zm0-16zm6 14zm1-7zm1-3zm4 20zm3-14zm5 10zm30-4zm11-7zm2-3zm2-3zm12 1zm36 23zm4-6zm5-21zm22 11zm2-5zm17 2zm1-4zm38 9zm56-10zm1 17z" stroke="#06030c" stroke-width="18" stroke-linecap="round" fill="none"/>
<path transform="scale(.1)" d="M7575 895zm45 11zm155 104zm15 75zm20 45zm36 28zm74 7zm-25 31zm-35-16z" stroke="#06030c" stroke-width="15" stroke-linecap="round" fill="none"/>
<path transform="scale(.1)" d="M7995 1233zm0 2zm0 1zm1-1zm3-1zm6-9zm4 7zm3 0zm2-14zm0 20zm2-11zm1-3zm8 10zm2-2zm6 1zm232 25zm-226-11zm-5 4zm-3-1zm-1 8zm-5 1zm-2 6zm-4-18zm-1 17zm-1-4zm0-14zm-1-1zm-1 7zm-2 11zm-4-6zm0-17zm-1 2zm-5-2zm-6 6zm56 66zm151-16zm10 10zm-43 40zm-6 9zm-96-2zm-6-2zm-6-17zm1 42zm5-3zm7-7zm15 11zm76 20zm1531-12zm-1435 34zm-25 6zm-118 9zm-4-8zm-3 9zm-4 0zm-13-6zm-6 4zm10 16zm3 4zm4-12zm6 6zm37 17zm0-6zm24 10zm134-12zm60-2zm100-7zm1293 51zm-131 19zm-8-2zm-1195-18zm-71-16zm-8 13zm-58-12zm-65 6zm-3 10zm-13-13zm-12 15zm-15 6zm-4-10zm-11-4zm0 9zm-7 15zm-9-5zm0-1zm-1-25zm46 50zm7 20zm12-12zm2-12zm0 19zm9-9zm2-2zm3 5zm9 9zm125-1zm13-14zm24 12zm8-1zm11 3zm38-31zm1155 13zm73-6zm32 15zm46 10zm-2 8zm-21 15zm-9 20zm-23-20zm-3 6zm-20-10zm0 11zm-18-12zm-1175 25zm-3 1zm-18 2zm-2-7zm-2 4zm-101-33zm-5 14zm-60 4zm-2-20zm-2 37zm-17 0zm-1-3zm-46-28zm-1 0zm52 43zm7-1zm3 1zm46 6zm3-9zm13 4zm2-8zm0 27zm6-24zm3 31zm6-20zm3 18zm15-14zm18 16zm13-32zm2 5zm1-8zm8 6zm0 15zm10-4zm31-16zm16-3zm0 9zm2-4zm4-3zm66 37zm29 0zm5-8zm49-8zm2-6zm1266-8zm4 23zm5-3zm0 27zm-6-9zm-14-4zm-1315 5z" stroke="#06030c" stroke-width="20" stroke-linecap="round" fill="none"/>
<path transform="scale(.1)" d="M8833 1043zm536 45zm-25 14zm-427 0zm184 50zm143 0zm92 0zm-151 33zm301 25zm301 42zm-167 0zm-33 17zm-25-17zm200 76zm-33 16zm-25-16zm83 33zm26 25zm75 25z" stroke="#06030c" stroke-width="16" stroke-linecap="round" fill="none"/>
<path transform="scale(.1)" d="M8491 712zm-36 4zm-60-13zm-62 12zm-158-15zm-34 18zm-33-17zm-8 14zm-10-3zm-8-1zm-36 7zm-75-5zm-141 46zm35-3zm19-19zm35-4zm7 25zm8-4zm53-20zm37-7zm5 27zm13-1zm23-7zm138-19zm22 28zm16-25zm17 0zm5 13zm16-22zm15 28zm24 4zm6-31zm19 30zm12-17zm49-8zm2 8zm14-12zm8 16zm27 1zm10 6zm4-9zm16 5zm11-7zm3 8zm28-19zm1 12zm46 0zm1 13zm11-9zm4 8zm5-10zm27 18zm13-8zm2-16zm0 24zm17-24zm33-8zm5 33zm28-27zm5 8zm1 14zm11-12zm9-10zm10 6zm3 18zm16-3zm51 47zm-10-1zm-9-2zm-17 3zm-2-27zm0 4zm-12-9zm-1-6zm-9 27zm-40-26zm-22 21zm-15-18zm-13 2zm-17 29zm-53-26zm-1 4zm-30-8zm-7 32zm-4-13zm-21-8zm-21 14zm-10-23zm-3 3zm-2 19zm-5-21zm-5 15zm-4 5zm-2 3zm-4-16zm-12 7zm-10-10zm-6 26zm-4-14zm-7-12zm-4 3zm-24-2zm-1 19zm-6-13zm-77-4zm-465 5zm-10 10zm-10-21zm-24 16zm-6 13zm-2-11zm-3-14zm0 20zm-3 1zm-4 4zm-9-3zm-6-15zm-5 15zm-9-31zm-22 16zm-25-10zm-39 27zm-28-13zm-8 8zm-96 31zm52 4zm13-12zm7 16zm15-13zm0-16zm0 15zm14-15zm2 9zm3 4zm21 12zm7 9zm3-36zm2 9zm6 14zm9-18zm21 19zm42-12zm7-4zm11 7zm4-3zm10-2zm624 0zm27 24zm3 1zm14-10zm11-7zm2-1zm8-9zm51 12zm22-6zm1-13zm16 22zm7-23zm1 0zm65 34zm6 2zm2-10zm5 3zm4-28zm25 13zm10 4zm5 18zm9-8zm3-15zm12 25zm31-14zm7-10zm29-14zm14 37zm8-13zm1-7zm33 14zm8 30zm-16 10zm-7-4zm-22 7zm-2-4zm-24-21zm-27 6zm-33-7zm-51 18zm-7-9zm-18 0zm-69 13zm-8 4zm-14 4zm-1-2zm-34-11zm-1-9zm-906-11zm-1 12zm-32 3zm-28-13zm-16 5zm-29 7zm-20-12zm-5 31zm-4-9zm-2-6zm-5 8zm1084 29zm23 0zm2-13zm27-1zm4 22zm20-3zm21 12zm23-12zm24 6zm50-25zm29 29zm7-2zm7-13zm2 7zm53-19zm-11 67zm-2-29zm-2 30zm-13-5zm-37-17zm-42-11zm-2 1zm-5 1zm-33 27zm-11-31zm-2 16zm-10 2zm-10 3zm-41-22zm47 50zm88 18zm11 10zm26-28zm13 26zm18-20zm1 17zm2-26zm3 15zm3-18zm17 32zm1-2zm-54 6zm967 461zm8-9zm8 4zm2 1zm13 11zm14 2zm2 9zm1-11zm30 37zm-8 5zm-2-18zm-2-1zm17 41zm9 3zm1-14zm2 11zm9 27zm9 34zm-1 0zm-4-32zm-1 11zm0 1zm12 64zm2-33zm0-3zm4 28zm2 6zm4 7zm0 20zm-9 11zm-1-6zm-4-1z" stroke="#110823" stroke-width="17" stroke-linecap="round" fill="none"/>
<path transform="scale(.1)" d="M8877 833zm8-2zm66-4zm18 11zm24-10zm5 9zm2-9zm5-7zm7 11zm53 6zm33-4zm31 3zm152 42zm-56-3zm-7-5zm-12 1zm-4-20zm-15 15zm-18-3zm-23-24zm-20 14zm-6 13zm-11-17zm-4 21zm-2-18zm-9 23zm-6-4zm-3 1zm-14 2zm-3-4zm-1-17zm-3 6zm-4-12zm-1 15zm-5 16zm-2-26zm-13 2zm-43 18zm-16-28zm-5 34zm-2-30zm-39-6zm0 9zm-13 20zm-10-4zm-1 6zm-3-13zm-11-3zm-10 14zm-1-26zm-2 33zm0-11zm-1-7zm-1 17zm-4-21zm-2 2zm-12 59zm1-38zm11 4zm1 16zm5-15zm1 24zm0-11zm2 4zm1 0zm3 1zm6 7zm5-30zm1 38zm4-11zm9 10zm3-7zm3 1zm3 0zm18-31zm11 7zm48 19zm11-4zm11 10zm1 7zm0-21zm1-18zm2 11zm0 13zm12 10zm8-27zm86 17zm5-13zm14 24zm1-7zm4-13zm0 22zm7-10zm6-19zm2 29zm1-14zm7 2zm2 6zm16-13zm2-3zm2-7zm7 16zm2-21zm12 27zm1-20zm4 2zm4-1zm3 6zm5 4zm1-13zm42 21zm56 8zm1-4zm17 2zm13-25zm36 25zm1 2zm82 39zm-43 3zm-16-1zm-4-24zm-3 6zm-15 19zm0-14zm-2-5zm-7 15zm-12-33zm-5 7zm0-1zm-2 17zm-1 0zm-4-18zm-12 28zm-1-17zm0-12zm-11 26zm-2 1zm-7-12zm-18 4zm-19 10zm-24-15zm0 7zm-4-6zm-4-7zm-9 10zm-1-13zm-14 9zm-1 5zm-8-21zm-4 19zm-2 13zm-6-5zm-5-1zm-17-9zm-1 5zm-2-9zm-1-2zm-19 0zm-1-1zm-6 2zm-6-4zm0 13zm-11-22zm0 17zm0 3zm-1 4zm-2-23zm-1 21zm-2-19zm-14 19zm-7-8zm-5-5zm-4-5zm-10 21zm-2-4zm-1 2zm-5 12zm-5-18zm-47 1zm-2-9zm0 13zm-5-6zm-1-11zm-20 1zm-2 20zm-2-13zm-2-16zm-1 21zm-15-11zm-1-9zm-9 22zm0 13zm-1-6zm-15-30zm-5 32zm-18-29zm-56 30zm-16-23zm-11-2zm-26 10zm-273 16zm-85 2zm-48 14zm36 9zm6-6zm19 2zm7-6zm17 10zm8-3zm26 10zm7-2zm3 0zm4-18zm2 10zm7-9zm32 25zm7-6zm3 0zm12 9zm3-22zm9 14zm1 1zm15 7zm6-3zm0 4zm7-6zm6-13zm12-4zm9 25zm12-13zm144-2zm18 16zm8-7zm4-14zm5-13zm5 18zm6 13zm28-17zm1-6zm31-4zm2 10zm7-12zm68-2zm0 2zm2 26zm7-7zm0-16zm6 0zm12 10zm1 1zm7-1zm5-4zm1-15zm0 36zm1-35zm7 22zm1 1zm4-12zm11 24zm0-33zm18 19zm10 14zm38-10zm1-9zm3 4zm6 16zm9 1zm4-14zm2 6zm4-22zm2 19zm7-7zm78 10zm13-2zm4-16zm1 3zm22 20zm19-15zm8-6zm1 0zm16 11zm0 12zm11-32zm14 7zm3 7zm2-14zm9 9zm3 3zm1-18zm4 26zm10-25zm0 35zm11-1zm11-32zm2 6zm0-6zm33 17zm22-13zm9 17zm111 36zm-7 7zm-9-1zm-7 6zm-3-9zm-7 4zm-7 9zm-1-10zm-6 6zm-11 5zm-5-28zm-8 3zm-25 9zm-5 13zm-17-24zm-3 2zm-4-1zm-3 25zm-15-17zm-4 16zm-2 2zm-13-22zm-5-8zm-2 25zm-2-15zm-1 19zm-47-30zm0 14zm-1 9zm-12-23zm-4 21zm-16 3zm-2 1zm0-5zm-4-11zm-2 19zm-2-21zm0 12zm-3-15zm-20 3zm-12 19zm-3 3zm-2-7zm-8-20zm-7-4zm-1 8zm-12 1zm-15-3zm0 13zm-13-18zm-11-4zm-21 10zm-27-1zm-32-1zm-70-3zm-21-5zm-9 12zm-33-11zm-2 9zm-14 6zm-23-2zm-11-7zm-93 5zm-19-6zm-10-7zm-38 15zm-15 8zm0-7zm-6 8zm-1-5zm-5-5zm-10 6zm-13-1zm-12-15zm-10 4zm-11 3zm-14-10zm-9 3zm565 44zm9-3zm17-4zm3 4zm1-3zm5 28zm4-23zm28 24zm19-4zm2 6zm2-2zm8 1zm2 0zm2-12zm6 7zm12-6zm29 3zm2 15zm5-12zm1-13zm16-4zm1 7zm6 22zm6-27zm8 8zm8 14zm3-12zm13 10zm7 1zm10 4zm5-31zm13 26zm2-27zm16 1zm3 29zm1-16zm4-2zm2-1zm0-1zm2 18zm0-14zm8 12zm17-9zm11-20zm17 21zm1-15zm4 18zm0 13zm6-33zm8 0zm3 18zm8-12zm23 15zm48 8zm41 37zm-16-5zm-16 10zm-9-18zm-2-9zm-32 12zm-6 11zm-1 0zm-10 6zm-2-25zm-1-10zm-14 28zm-7-9zm0 9zm-10-2zm-5-20zm-5-6zm-1 0zm-1 19zm-8-19zm-9 20zm-4 3zm-16 11zm-11-20zm-6-2zm-16 9zm-7-23zm-8 22zm-23-13zm-6 18zm-11-2zm-33-20zm-24-6zm-3 2zm-20 3zm-3 4zm-6 8zm-2 4zm-17-6zm-5-13zm-9 0zm-5 10zm-8-12zm-1 12zm-6-13zm-1 8zm-9 1zm-570 6zm-129 23zm-89 15zm16 0zm11-10zm5 22zm52-13zm13-10zm28 0zm39-2zm790 12zm1-11zm3-1zm13 12zm15-3zm1-5zm15 6zm3 14zm11 0zm1-8zm0 9zm5-1zm1-11zm10 18zm15 8zm2-5zm1-19zm1-13zm5-2zm37 28zm1 1zm19-16zm4 14zm0 2zm30-1zm14 4zm13-19zm0 22zm15-9zm13 10zm9-26zm5 24zm9 5zm8-20zm8 5zm1-17zm2 16zm13 13zm4-3zm14 4zm13-6zm5 3zm73 45zm-48-4zm-6-6zm-17 6zm-1-19zm-18 22zm-9-2zm-1 2zm-4-4zm0-21zm-3 4zm-1 5zm-3-11zm-20 18zm-3-26zm-8 6zm-11 11zm-1-20zm-2 38zm0-34zm-15 12zm-1-12zm-8 1zm-29 5zm-16 8zm-9-10zm-4 19zm-6 3zm-23-22zm-53-8zm-7 3zm83 37zm30 11zm44 5zm12-1zm34-13zm4 18zm2-1zm17-6zm2 7zm7 16zm23-19zm4 2zm27-15zm39 30zm5-8zm3-11zm8 13zm17 0zm7 7zm10-10zm23 12zm18-5zm34 37zm-4 8zm-14-10zm-3 6zm-1-1zm-1-2zm0-3zm-6 5zm0-20zm-7 21zm-1-7zm-4-5zm-1-13zm-2 19zm-3 1zm-1-6zm-6-4zm-1-17zm-1 21zm-4-6zm-3 14zm-5-19zm-1 20zm0-3zm-3-3zm-2-20zm-6 24zm-1-1zm-1-17zm0 16zm-8-2zm-3-14zm-3-1zm-10 13zm-5-3zm-13 1zm-1-21zm-14 1zm-20 0zm38 39zm16 10zm0 4zm10-7zm6 21zm7-8zm4-18zm1 23zm2 4zm18-19zm6 5zm4-10zm0 9zm6 9zm16 5zm1-8zm13 19zm4-39zm4 15zm5 10zm4-25zm8 9zm2-3zm7 11zm74 42zm-20 10zm-5-27zm-7 8zm-20 16zm-12 1zm-44-21zm-3 3zm-17-2z" stroke="#110823" stroke-width="19" stroke-linecap="round" fill="none"/>
<path transform="scale(.1)" d="M8039 754zm262 32zm-44-16zm-81-2zm-77 0zm-3 1zm-13 18zm-25-26zm-3 7zm-21-5zm-19 10zm-27 11zm-6-17zm-6 11zm-10 9zm-26 1zm-1-1zm-16 0zm-22 1zm-17 2zm-11 5zm-1 1zm-105 27zm25 13zm13-9zm4-10zm9 2zm30 2zm8-5zm577 23zm-12 8zm-677-7zm-46 11zm0 1zm-5 0zm-8 0zm-3 14zm-10-9zm-2-7zm-2 2zm-19 4zm-4 3zm-1-4zm-13 11zm1035 108zm12 3zm54 18zm56 15zm-12 0zm-3 7zm-9-6zm-39-7zm-7-2zm-7-1z" stroke="#110823" stroke-width="18" stroke-linecap="round" fill="none"/>
<path transform="scale(.1)" d="M7935 758zm13-12zm16 11zm4 1zm48 1zm8-8zm6 7zm27-3zm4-15zm14 12zm1 0zm15-1zm196 1zm41 45zm-19-1zm-107-15zm-53 15zm-2 0zm-45-2zm0-2zm-26-27zm-30-4zm-6 38zm-3-10zm-3-20zm-3 14zm-11-8zm-5 10zm-9-3zm-6 9zm-21-26zm-6-5zm-8 16zm-5 16zm-5-2zm-5-19zm-2-4zm-2 20zm-6-10zm-54-5zm-3 12zm-1 0zm-3-16zm-7 13zm-1 7zm-2-20zm-6 23zm-2-17zm-4 6zm-4-2zm-15 0zm-254 57zm138 1zm22-9zm4 8zm21-29zm1 28zm11-20zm1 25zm83-8zm0-26zm18 18zm2 11zm4-9zm17-7zm27 18zm1-23zm2 14zm9-3zm3-20zm3 6zm6 25zm5-27zm1 20zm1 4zm4-11zm1 17zm8-20zm23-14zm12-4zm5 7zm22 28zm11-33zm27 22zm4 9zm3-15zm7 8zm2 7zm13 3zm10-10zm2 7zm4-13zm10-11zm5 30zm6-5zm18 2zm15-2zm1-3zm1-14zm8 8zm0-6zm9 18zm1-5zm2-3zm1-8zm1 7zm4 9zm12-9zm4 9zm49-7zm3-12zm13-8zm7 29zm26-14zm123 17zm-108 21zm-20 0zm-41-7zm-6 8zm-25 3zm-13 1zm-2-18zm-12 16zm-6 3zm-7-28zm-3 13zm-4-14zm-16 3zm-6 30zm-8-1zm-3-32zm-1 4zm-19 0zm-22 7zm-11 28zm-15-16zm-10-9zm-6-12zm-23 28zm-2-9zm-17 2zm-8 2zm-10-24zm-1 21zm-3 15zm-1-7zm-4-29zm-24 9zm-8 11zm0-10zm-1 3zm0-1zm-3-9zm-2 34zm-10-30zm-30 23zm-5-9zm-1-12zm-9 25zm-21-26zm-41 27zm-2-1zm-3-35zm-6 39zm-7-6zm-12-33zm-9 2zm-7-1zm-16 14zm-2-2zm-7 23zm-2-26zm-3 25zm0 2zm-7-15zm-3-2zm-2 18zm-12-24zm-30-7zm0 12zm-13-2zm-1 22zm-11-8zm-109-10zm66 47zm0-28zm4 23zm17-9zm20 3zm35-3zm5 5zm22-4zm3-1zm8 8zm14 8zm5-17zm6 7zm1-9zm1 15zm4-1zm1-4zm2 12zm3-25zm5 2zm2-1zm10-9zm2 11zm3 12zm1-13zm5-5zm1 5zm15-10zm5 1zm8 36zm2-15zm6-11zm1 27zm5-37zm17 10zm1 2zm26-8zm2 34zm5-8zm2-6zm4-21zm2 10zm32 2zm13 16zm10-28zm0 26zm10-29zm21 3zm16 5zm8 28zm15-12zm45-24zm1-1zm29 0zm6 28zm13-27zm7-1zm9 4zm48 12zm10-9zm9 14zm24-8zm28-4zm367 51zm-6 6zm-65-9zm-66 2zm-11 3zm0 17zm-55-9zm-10-4zm-31-10zm-12 0zm-116-11zm-143 27zm-23-14zm-40-13zm-7-1zm-98 7zm-4 12zm-10-23zm-4 10zm-13 25zm-20-31zm-7 0zm-53 13zm-23-2zm-1 10zm-8-16zm-3 2zm-43 8zm-35 13zm435 44zm7-10zm38 9zm27 3zm0-15zm12-11zm29 4zm23 2zm15 15zm14-8zm2-5zm36-19zm1 23zm10 3zm5 3zm3 9zm4-27zm0 16zm1-22zm1 8zm3 5zm1-5zm1 11zm2-11zm51 0zm2 10zm23-9zm4-6zm9 23zm38-4zm20-18zm1 1zm0-1zm4 0zm19-5zm3-3zm2 7zm2 11zm3 12zm4-1zm6-12zm7-17zm2 5zm4 10zm37-17zm1 12zm21 8zm9-8zm4 13zm11 8zm12-7zm16-6zm5 16zm22-2zm67 18zm-10 1zm-1-6zm-3 15zm0-5zm-2 2zm-30-12zm-5 12zm-2 3zm-4-11zm-4 4zm-3-6zm-7-6zm-1 11zm-13-10zm-9 2zm-7-2zm-3-4zm-9 3zm-1-2zm-316-1zm-43 1zm-24 9zm-13-2zm-1-1zm-5-5zm-3 8zm-2-4zm-1 11zm-10 19zm-9 1zm-19-36zm-11 26zm-5-8zm-5-6zm-3 12zm-2-16zm-1 30zm-6-16zm0-23zm-4 10zm0 1zm-1 5zm-2-7zm0 27zm-14-9zm-4-17zm-286 43zm143-13zm83 4zm20 10zm12-7zm10 32zm11-10zm1 7zm5-13zm3-6zm11-5zm3 15zm0 9zm3-25zm4-11zm5 35zm1 4zm11-23zm6 3zm7 2zm6-18zm9 2zm0 14zm6-7zm552-6zm-28 46zm-8 16zm-25-12zm-5 13zm-5 4zm-8 4zm-11 0zm-2-3zm-6 3zm-7 0zm-1-4zm-14 5zm-16 0zm-396-25zm-3 23zm-14-12zm-8-20zm-12 4zm-1 9zm-9 21zm-36-11zm-11-20zm-181 47zm149-9zm25-5zm45 10zm4 8zm6-3zm3-15zm15 3zm17 26zm3-23zm1 6zm3 0zm0 3zm1-7zm1 5zm6 6zm3-2zm0-2zm1-2zm0-11zm4 15zm4 2zm0-8zm1 1zm1 7zm7 1zm2 6zm3 6zm1-7zm1 2zm13-4zm5-2zm9-6zm2-9zm2 10zm2 3zm22 19zm6-19zm2-13zm3 31zm1-3zm4-6zm4-4zm8 4zm4-6zm14 8zm3 5zm43-6zm16-11zm2 14zm11-10zm3 8zm11-1zm13 9zm3-1zm5-5zm10 7zm0-10zm7-21zm14 29zm2-32zm7 7zm11-2zm4 12zm2-6zm2 1zm4 0zm4 10zm5 0zm2-2zm5-11zm0-6zm5 4zm8 19zm5-27zm12 12zm1 19zm18-23zm1-8zm21-4zm11 12zm66-10zm-173 41zm-61-1zm-8 12zm-6 5zm-16-10zm-1-9zm-11 4zm-3 2zm-77-6zm-11 8zm-23 31zm-2-28zm-9-2zm-31 8zm-5-12zm-8 26zm-6-27zm-41 2zm-425 0z" stroke="#110823" stroke-width="18" stroke-linecap="round" fill="none"/>
<path transform="scale(.1)" d="M8088 1146zm30 13zm5-1zm440-10zm6 8zm30-13zm15 6zm150 10zm5-24zm28 18zm1-9zm9-13zm1 24zm4-16zm37 2zm10-18zm33 20zm1-9zm26-5zm47 4zm12-5zm16-5zm6 20zm0-14zm25-6zm2 27zm96 9zm13 12zm-7 2zm-3-8zm-43 13zm-29-14zm-214 4zm-12 26zm-7 5zm-34-33zm-6 9zm-24-2zm-18 25zm-1-17zm-28 5zm-13-7zm-93-14zm-3-4zm-1 4zm-10 21zm-3 5zm-7-3zm0-23zm-6 31zm-5-31zm-1 17zm-14-15zm-51 0zm-3 18zm-298 9zm-44 4zm-8-29zm-6 29zm-7-21zm-8 2zm-1 7zm-9-25zm-3 10zm-2-1zm-9 17zm-3 1zm-6-20zm-1 10zm-5 3zm-1-9zm-24 24zm-13-8zm-1-20zm-1 9zm-12 22zm0-39zm-50 79zm22 0zm15-15zm3-18zm4 29zm8-26zm10 30zm11-19zm26 12zm6-3zm10 2zm7-22zm2-5zm1 34zm3-1zm4-11zm0-14zm6-7zm1 1zm11 25zm2-26zm12 0zm3-1zm6 23zm11-13zm5 3zm10-15zm26 7zm9 22zm17-21zm12 12zm12 2zm4 12zm3-1zm13-12zm115 12zm60 0zm2-12zm4 7zm8 6zm3-6zm0 1zm4 4zm18-35zm7 8zm0 4zm13 20zm4-7zm46-7zm7-18zm10 26zm12 11zm0-12zm6-4zm1 2zm32-4zm22 7zm13 0zm13-21zm30 10zm9 24zm82-29zm268 9zm112 15zm35 3zm-403 15zm-65-5zm-34-4zm-9 4zm-14 30zm-2-13zm-50-1zm0-13zm-4 15zm-1-5zm-27 18zm-5-5zm-52-8zm-6-17zm-87 9zm-11 8zm-1 6zm-15-22zm-5-3zm-16 22zm-9-26zm-2 23zm-2 13zm-3-13zm-13 5zm-42 4zm-12-13zm-21 17zm0-21zm-24 20zm-3-4zm-6-20zm-8-4zm-11 18zm-2 6zm-16-19zm-5 8zm0-15zm-5 15zm-5-19zm-9 25zm-1-5zm-16 13zm-9-5zm-2 6zm-17-9zm-25-19zm-31 0zm-4 2zm-21-5zm-1-6zm-2 8zm-1 7zm-3 13zm-1-19zm-2 7zm-1 16zm-1-6zm-1-2zm-2-15zm-3 2zm0-6zm-8 20zm-3 3zm-14 1zm-6-6zm-24 44zm1-10zm37-10zm6-3zm16 1zm18 25zm4 1zm2-12zm2 9zm6 11zm2-3zm2-11zm8-5zm8-2zm1-6zm23 21zm26-22zm2 6zm30-13zm4 35zm33-33zm4 24zm0 7zm2-21zm22-16zm5 17zm12 12zm9 3zm3 3zm1-3zm5 7zm0-10zm7-5zm4 13zm4-22zm1 12zm2 12zm7-18zm2-14zm6 6zm19 19zm12-1zm1-30zm10 16zm10-17zm3 9zm2-7zm9 24zm22-26zm24 33zm21-3zm7-17zm5 6zm27 1zm5-5zm10-5zm6 2zm7 23zm2-24zm5 9zm57-19zm32 36zm2-25zm121-1zm488 7zm39 14zm67-19zm1 8zm58-11zm43 9zm17 9zm208 48zm-92-4zm-32-15zm-7 13zm-10-1zm-22-21zm-12 14zm-116-19zm-6 32zm-62-5zm-1-25zm-66 31zm-19-6zm-46-21zm-520 21zm-13 7zm-88-18zm-8-13zm-11 19zm-2 4zm-15-24zm-19 11zm-36 10zm-34-1zm-1 14zm-10-23zm-17 7zm-2-8zm-5 8zm-3-14zm-6 5zm-4 0zm0 18zm-4-11zm0 12zm-2-21zm0-7zm-15 15zm-31-7zm-26-3zm-4 9zm-7 5zm-12 12zm-16-30zm-13 20zm-5 2zm-3 11zm-1-5zm-18 1zm-26 3zm-15-17zm-4 14zm-1-10zm-2-2zm-13 6zm-43-19zm-23-5zm-5 1zm-24-2zm-25-3zm-4 32zm-3 1zm-1 15zm25 0zm4-1zm2 15zm26-3zm3-16zm21 32zm1 3zm9-10zm34 10zm37-21zm0 18zm16-28zm29 8zm12-4zm2 17zm1-14zm9 16zm6-15zm5 11zm2 2zm4 5zm3-10zm5 15zm3-7zm1 2zm42 0zm13-28zm9 26zm4-6zm1-18zm0 9zm1 4zm0 7zm0-10zm4 18zm4-31zm2 5zm18 23zm7-33zm17 7zm29 25zm3 4zm1-1zm8-20zm4 24zm13-7zm12-15zm11-12zm0 18zm18 13zm20-23zm10-9zm23 33zm134-35zm633 0zm26 28zm30-5zm13 5zm23-14zm9 0zm0 2zm2-6zm0 27zm1-18zm1-8zm18 3zm32 14zm34-4zm31-26zm18 35zm1-20zm6 10zm10-19zm2 6zm1-9zm0 3zm4 18zm1-17zm6 7zm3 5zm6 10zm0-7zm32 15zm2-5zm1-14zm26 13zm11-20zm134 67zm-10 0zm-24-1zm-21-17zm-5 17zm-4-22zm-2-15zm0 6zm-5 27zm-4-7zm-5-26zm-15 1zm-7 13zm-2 2zm-7 9zm-10 2zm-15-5zm-9 10zm0-14zm-12-14zm-62 20zm-5-2zm-18 13zm-10-30zm-4 8zm-3 4zm-13 16zm-1-19zm-4 12zm-23-1zm-13 7zm-9-15zm-27 12zm-4-18zm-1-6zm-20 19zm-44-20zm-8 31zm-3-18zm-45 11zm-129-4zm-122 13zm-139-15zm-6 2zm-86 15zm-2 0zm-62-32zm-13 16zm-88-16zm-20 5zm-35 9zm-65 4zm-6-6zm-27 15zm-7-34zm-46 0zm-12 21zm-7-14zm-3 30zm-12-15zm-9 4zm-6 6zm0 4zm-8-12zm-9-10zm-23 15zm-25-12zm-98 1zm0-15zm-25 32zm-4-17zm-6 0zm-6 20zm-20-12zm-8 7zm-5-11zm-41 3zm-1 14zm-3-36zm-70 31zm-19-8zm-4 25zm30 16zm39-15zm8 13zm76 3zm2-16zm6 6zm0-3zm1-14zm5 28zm15-29zm18 39zm32-37zm18 23zm11 6zm7 8zm16-11zm4-19zm77 30zm3-2zm17-28zm0 4zm0-7zm6 0zm4-2zm5 7zm1 14zm11 3zm3 1zm2-23zm9 27zm5-22zm5-4zm3 2zm10 8zm13-12zm0 22zm6-14zm8 14zm2-27zm1 24zm10-23zm23 29zm7-5zm9-8zm37 12zm113-1zm14-25zm38 9zm3 19zm16 5zm27-14zm9 1zm34-14zm3-9zm21 22zm10 17zm47-21zm45-10zm9 9zm31 19zm24-10zm7 4zm8-12zm70 9zm49-1zm50-19zm75 22zm4 3zm13 7zm19-31zm13 4zm12 3zm16 14zm4-1zm2 10zm1-17zm5 16zm3-11zm1-6zm95-20zm39 33zm5 6zm19-32zm27 9zm2-3zm22-3zm2-2zm1 20zm0-5zm3 0zm1-3zm3 18zm4-36zm7 30zm4-3zm17-3zm18 3zm13 1zm20-25zm7 23zm9-27zm1 16zm27-14zm7 23zm6 11zm1-6zm0-15zm21 13zm6-26zm7 34zm16-16zm7 8zm24 1zm15 7zm4-13zm-11 54zm-5 0zm-12-4zm-6-12zm-1-9zm-2-10zm-9 13zm-5-12zm-9 18zm0-21zm-13 21zm-7-22zm-3 8zm-6-4zm-27 34zm-4-1zm-1-6zm-26-15zm-2 12zm-7-5zm0-19zm-5 24zm-1-22zm-8 13zm-16-14zm-27-3zm0 33zm-15-19zm-11-14zm-3 31zm-2-3zm-7-1zm-5 9zm-8-24zm-7-9zm-1-2zm-12-2zm-13 27zm-14 11zm-220-35zm-6 2zm-8 8zm-1-14zm-1 10zm-67 13zm-2 7zm-7-6zm-1 3zm-2-9zm-7-10zm-2 14zm0-5zm-5 12zm-3-2zm-5 8zm-14-7zm-4-12zm-9 5zm-1-19zm-11-2zm-1 29zm-14 8zm-11 2zm-12-12zm-3-26zm-4 6zm-7 10zm-29 22zm0-8zm-3 1zm-1 6zm-4-14zm-6 6zm-73-17zm-5 10zm-2 14zm0-1zm0 2zm-5-2zm-51-9zm-2 6zm-6-1zm-5-6zm-1 1zm0 9zm-1-2zm-52 5zm-9 0zm-4-2zm-3 0zm-38-13zm-48-2zm-2-5zm-9 21zm-2-12zm-1-3zm-23 4zm0-24zm-6 20zm-11-1zm-33-13zm-19 24zm-1 1zm-55-10zm-15 6zm-6-14zm-21 9zm-4 12zm-59-17zm-21-2zm-38 5zm-4-10zm-8 5zm-8 16zm-3-26zm-14 19zm-5-2zm-3-3zm-6-19zm-6 13zm-3-11zm-1 29zm-1-5zm-13 10zm-2-9zm-12 6zm-1-7zm-4-26zm-6 19zm-3 2zm-3 9zm0-27zm-3 29zm-1-27zm-3-6zm-2 8zm0 23zm-3 3zm-33 3zm-29-16zm-20-18zm-4-4zm-38 19zm-11-6zm-4 22zm-7-32zm-6 23zm-3 9zm-10-22zm-20 16zm-33-15zm-12-3zm-2 0zm56 51zm23-5zm6-16zm4 7zm88-4zm32 34zm1-21zm6 8zm11-2zm2-14zm10-3zm6-7zm8 2zm19 32zm2-21zm6-4zm9-5zm2 13zm4 14zm6-11zm6 16zm9-35zm1 0zm1 34zm7-2zm0 2zm34-17zm8 14zm3-23zm34 0zm7 11zm5 5zm3 11zm12-9zm5-13zm21-14zm19 26zm12-18zm2 25zm0-23zm10 15zm2 0zm10 12zm23-29zm19-7zm23 24zm19-1zm4 10zm0-19zm13 20zm5 2zm14-2zm0 3zm47-23zm5 11zm8 6zm1-15zm7 6zm3-1zm1 9zm0-5zm7 3zm33-24zm7 14zm8-17zm1 22zm8-10zm11 0zm1-6zm55 1zm75 0zm62-3zm2-1zm4 4zm19-1zm36-1zm12-3zm1-4zm8 4zm4 22zm4-19zm2 13zm82-17zm309 2zm9 5zm1-1zm5-8zm41 5zm4 0zm10 14zm9 6zm13-1zm2-15zm8-9zm20 29zm8 1zm1-18zm17 18zm6-8zm24 5zm1-27zm4 0zm0 31zm8-26zm3 30zm2-21zm0-11zm1-4zm12 20zm5 3zm3 7zm11-3zm6 11zm3 0zm6-19zm3 5zm9-11zm10-6zm2 27zm9-28zm19 22zm8-2zm7 4zm3-3zm8 31zm-2-8zm-7 19zm-4-5zm-12-24zm-1 33zm-1-29zm-4 0zm0-3zm-1 15zm-13 14zm-40-26zm-2 22zm-4-24zm-5 6zm-1-1zm-5-3zm-3 7zm-4-3zm-8 26zm-18-14zm-19 16zm-6-32zm-6 20zm-7 15zm-2-35zm-39 35zm-4-23zm-3-2zm-7 20zm-12-15zm-3 0zm-2-1zm-2 2zm-14-7zm-886-7zm-9-5zm-6 4zm-5 2zm-7 10zm-51 11zm-2 7zm-3-15zm-3-2zm-2-6zm-1 13zm-5-14zm-8 17zm-11-23zm-2 23zm-5-17zm-2 17zm-7-13zm-9-14zm-6 13zm-4-5zm-8 21zm-4-29zm-15 4zm-6 7zm-1 18zm-29-27zm-3 0zm-15 23zm-10-17zm-4 9zm0-2zm-3 16zm-1-13zm-2-8zm-21 13zm-12 11zm-2-15zm-9-9zm-3 15zm-11-24zm-21 28zm0-2zm-19-21zm-3 2zm-11-3zm-6 1zm-61-1zm0 9zm-7 22zm-7-11zm-11-18zm-9 30zm-29-16zm-1 11zm-86-32zm154 67zm9 4zm2-29zm49 6zm8 30zm0-19zm9 2zm38-20zm10 3zm4 11zm10-11zm36-3zm4 12zm7-14zm37 14zm7 25zm2-18zm2 12zm1-8zm39-2zm2-13zm6 8zm4-14zm2-4zm5 3zm0 27zm3 0zm0-21zm7 12zm4-21zm1051 10zm31 6zm3-4zm16 0zm2 26zm3-17zm12-14zm3-7zm2 14zm28 15zm4 0zm33-21zm24-5zm21 18zm13 10zm0-24zm2 21zm0-12zm7 8zm1-3zm1 4zm4 1zm2-14zm11-2zm7 9zm-27 33zm-2-1zm-79-8zm-13-3zm-9 23zm-1212-5zm-2 0zm-5-14zm0 9zm-5 19zm-7-25zm-24-5z" stroke="#110823" stroke-width="20" stroke-linecap="round" fill="none"/>
<path transform="scale(.1)" d="M8130 713zm-428 114z" stroke="#1d0c3a" stroke-width="17" stroke-linecap="round" fill="none"/>
<path transform="scale(.1)" d="M9010 834zm254 43zm-45-29zm-7 22zm-9-24zm-19 14zm-21-17zm-23 36zm-2-13zm-27-13zm-4-9zm-52 17zm-37 52zm90-1zm33 3zm7-9zm6-25zm2 19zm0-14zm21 10zm2 10zm4 0zm23-15zm13-11zm4 39zm73-29zm19 27zm7-9zm17 9zm3-1zm120 33zm-24-4zm-1 6zm-23 8zm-31-23zm-1-13zm-25-1zm-15-1zm-57 28zm-5-8zm-1 7zm-2-4zm-24-3zm-5-6zm-19 19zm-13 0zm-12-2zm-8-23zm-2-3zm-5-1zm-10 21zm-2-11zm-35-14zm-5 28zm-13-21zm-2 25zm-59-19zm-45 11zm-16-11zm-520 56zm13 7zm18-3zm6 1zm20-8zm8 6zm47 6zm21-3zm1 0zm9-2zm402-31zm11 30zm21-13zm1 8zm1-12zm36 11zm7-5zm6 12zm11 2zm41-12zm10-12zm25 24zm1 1zm58-5zm8-32zm2 0zm22 25zm2-4zm1 5zm5-7zm67-6zm32 4zm6 21zm13-18zm7-13zm50-7zm11 28zm113 43zm-63-9zm-7-10zm-5 12zm-20-19zm-2 16zm-15 6zm-13 12zm-92-35zm-52 28zm-32-16zm-41-6zm-59-2zm-89-1zm-289 32zm-24-4zm-24-17zm-11 0zm-11-10zm-22 3zm-17-2zm-3-4zm-22 6zm0-10zm-208 8zm324 51zm9 14zm15-27zm503-6zm34 28zm8-24zm12 5zm6 4zm4-2zm5 26zm20-18zm22 14zm8-26zm32 4zm23-1zm18 6zm17 4zm7-13zm22 31zm82-2zm45 2zm82 32zm-11 2zm-1-24zm-18 22zm0-15zm-7 2zm-18-15zm-6-1zm-9 37zm-122-21zm-37 3zm-35 8zm-1-13zm-48-8zm-23 2zm-7 6zm-9-12zm-13 8zm-29-10zm-575-2zm-6 1zm-44 21zm-4-3zm-8-3zm-18 12zm-5 4zm-56 0zm-51 6zm-74 11zm6-6zm37 12zm27-14zm20 6zm866-3zm42 7zm52 7zm8-16zm7 31zm1-11zm24-16zm23 16zm26-5zm8 14zm11-4zm21-20zm15 13zm12 19zm6-4zm23-4zm34 8zm0-35zm12 1zm3 28zm12 1zm2 5zm41-1zm-2 9zm-8 28zm-15-21zm-8 5zm-51 12zm-1-20zm-14-4zm-20-5zm-30 12zm-12-4zm-10 11zm-10-8zm-25-1zm-63-12zm159 55zm86-7zm83 6zm14 9zm20 16zm64-4zm-9 43zm-15-2zm-70-24zm3 44zm2 7zm3-19zm6-2zm15 8zm3-8zm24 22zm18-20zm26 17zm11-1zm1 4zm2 5zm3 3zm2-30zm29 31zm14-8zm31 26zm-18-1zm-10 7zm-8 0zm-2-2zm-10-5zm-30 8zm-8-6zm-11-9z" stroke="#1d0c3a" stroke-width="19" stroke-linecap="round" fill="none"/>
<path transform="scale(.1)" d="M7911 791zm-45 8zm-112 32zm39 6zm36-14zm4-14zm68 8zm18 5zm-81 20zm-87 9zm1029 166zm-26-8z" stroke="#1d0c3a" stroke-width="18" stroke-linecap="round" fill="none"/>
<path transform="scale(.1)" d="M8412 792zm-474 7zm-224 32zm12-11zm21 17zm41-36zm21 17zm61 20zm7-27zm6 13zm12 0zm10-4zm12 5zm3 10zm3 0zm20-12zm5 9zm3-11zm5 3zm2 1zm45-1zm56-23zm18 31zm20-32zm40 34zm210 33zm-162-17zm-98 25zm-60-18zm-10-13zm-14 4zm-13 10zm-8 7zm-3-2zm-10-3zm-1-18zm-4 32zm0-34zm-3 7zm-3 24zm-7-24zm-8-5zm-1 23zm-17-13zm-36-4zm-21 1zm-1 5zm-1-12zm-13-1zm-11 28zm-15-4zm-1 11zm-30-31zm-11 12zm-21-16zm-25 3zm-27 4zm132 39zm18 2zm63-5zm12 0zm36-2zm8 27zm25 78zm504-1zm20 5zm14 4zm1-4zm17-6zm241 36zm-5 5zm-18-1zm-6-2zm-3-7zm-7 11zm-28-16zm-2 0zm-32 3zm-40-6zm-11-7zm-2 1zm-19-1zm-222 12zm-4 13zm-22-12zm-25 6zm-2-14zm-22 21zm-2-6zm-4-2zm0-3zm-9 8zm-3 10zm-9-25zm-61 49zm6 9zm4 7zm6-22zm11 17zm1 8zm11-5zm5-19zm5-13zm519 11zm5 0zm7-5zm-26 38zm-11 4zm-3-6zm-16 22zm-1-12zm-11 15zm-15-3zm-3 1zm-6 4zm-5-2zm-17 7zm-9 1zm-3-8zm-9 5zm-7 5zm-1-1zm-4 0zm-6-2zm-6 5zm-260-4zm-10-10zm-3 12zm-1-5zm-8-3zm-79-3zm-5-17zm-1-9zm-1 6zm-6 3zm-26 7zm-225-15zm-64 30zm338 11zm52 5zm7-6zm27 19zm22-17zm4 16zm47-2zm22-7zm3 11zm20-6zm27 0zm30-15zm24 10zm5-1zm-481 66z" stroke="#1d0c3a" stroke-width="18" stroke-linecap="round" fill="none"/>
<path transform="scale(.1)" d="M8634 1151zm12 2zm120 4zm16 0zm6-18zm68 8zm21 3zm5 9zm7-23zm3 0zm20-11zm3 26zm54-19zm12 26zm21-23zm4-15zm11 10zm7 23zm1-2zm2 6zm23-8zm0-16zm9 25zm12-6zm3-16zm2 8zm11 14zm0-7zm5 3zm5 5zm34 8zm-8 12zm-7 9zm-6-20zm-12 2zm-25 8zm-2-11zm-30 28zm-2-32zm-4 19zm-43-10zm-39 0zm-22 19zm-10-5zm-1-23zm-10 26zm-14-8zm-5-11zm-4 14zm-1-23zm-14 21zm-13-13zm-3 2zm-4-9zm-15 23zm-4-24zm-14 28zm0-1zm-4 6zm-3 2zm-19-16zm-43 7zm-14 5zm-2-9zm-8 4zm-8 0zm-27 10zm-82-11zm-22 6zm-66 20zm42-8zm13 34zm5-36zm17-2zm53 29zm47 0zm13-21zm6 2zm65-3zm5 1zm6 12zm8 4zm7-21zm1 6zm3-7zm4 11zm6 7zm2 11zm2-4zm1 12zm26-19zm1-20zm11 19zm1 2zm37-14zm1 0zm0 26zm9-30zm26 12zm25 0zm24 19zm11-26zm0 20zm8-24zm13 22zm1-2zm13-9zm5 5zm1-6zm1 13zm5 3zm0-16zm10 25zm18-3zm2-25zm3 16zm6 7zm3-25zm16 0zm7-8zm11 29zm8-23zm19 20zm4-14zm15 14zm46 9zm7-13zm9 8zm175 38zm-26 7zm-51 0zm-41-4zm-10 7zm-1-16zm-4 7zm-9 3zm-10 1zm-4-34zm-18 29zm-29 0zm-16-22zm-30 22zm-6 7zm-14-9zm-3 11zm-72-6zm-7 7zm-7-29zm-3-5zm-2 0zm-54 4zm-15 11zm-25-1zm-112-17zm-25 8zm-13 3zm-18-11zm-20 14zm-14-10zm-1 25zm-7-21zm-5 17zm-8 8zm-3 1zm-3-1zm-9 4zm-1-7zm-18 2zm-13-14zm-5 2zm-1 9zm-12-4zm-2-19zm-2 14zm-10-19zm-11 30zm-8-25zm-1 30zm-1-20zm-20 18zm-3-5zm-18-28zm-159 20zm-26 25zm185 26zm2-3zm3-5zm15-16zm26 17zm1 2zm0-28zm11 31zm15 4zm2-27zm11 30zm17-31zm29-4zm17-4zm11 14zm25 1zm23 14zm13-19zm47-9zm1 4zm33 0zm1 30zm22-10zm32 11zm10-2zm3 1zm2-1zm12 1zm5-8zm5-17zm13-9zm23 1zm12 0zm4 37zm16-15zm0 9zm2-24zm16 22zm5-23zm7-3zm4 28zm24-25zm15 24zm12 6zm1-33zm4 7zm24 18zm32-3zm13-13zm8-9zm14 14zm14-8zm30 17zm6 4zm6-19zm10 18zm30-3zm11-22zm1 19zm9 8zm11-13zm9-3zm6 2zm2 14zm10-20zm11 20zm9-21zm58 6zm1-5zm20 16zm42-1zm108 45zm-66 3zm-14-31zm-28 13zm-24 13zm-11-21zm-15 9zm-17 6zm-46 3zm-3-3zm-20-1zm-3 13zm0-24zm-4 5zm-30-5zm-5-12zm-1 5zm-15 6zm-5 7zm-13-17zm-8 7zm-4 24zm-41-7zm-57-4zm-27 0zm-3 6zm-7 5zm-15-4zm-6 9zm-3-16zm-1-13zm-10 25zm-11-10zm-2-20zm-3 19zm-4-16zm-35-6zm-27 26zm-2-20zm-4-3zm-2 12zm-22-10zm-9 16zm-20 6zm-24-28zm-39 26zm-43 2zm-34-4zm-4-12zm-1 14zm-4 6zm-13-18zm-24 13zm0-26zm-1 1zm-8 5zm-23-1zm-4 16zm-6-5zm-5 5zm-1 13zm-23-2zm-23-10zm-3-10zm-4 1zm-23-14zm-5 34zm-2-17zm-2-7zm-13-1zm-1-5zm-3 2zm-6 26zm-30-26zm-30 32zm-25-6zm-1-15zm-6 15zm-3 5zm-4-2zm-7-27zm-7-4zm-5 21zm-6 11zm-114-21zm45 50zm3 8zm24 2zm28-1zm14-1zm9-18zm13 20zm17-29zm30 14zm3-9zm14-1zm3 26zm2-7zm34-5zm10-5zm8 1zm15 15zm19-19zm5 0zm4-3zm12 23zm6-3zm4-26zm13-6zm30 31zm12-14zm37 3zm44-9zm18 0zm12 7zm15-18zm2 2zm9 9zm22 27zm2-10zm13 10zm22-9zm4 3zm1 6zm18-31zm6 30zm5-13zm4-12zm1 10zm57-4zm25-17zm46 22zm0-5zm3-1zm2 17zm19-35zm6 13zm5 11zm13-7zm8 18zm49-11zm13 3zm1 1zm3 11zm0-38zm6 16zm0 12zm5-1zm11-9zm3-19zm1 3zm6 31zm2 4zm10-28zm39 1zm27 6zm8 18zm25-5zm4-30zm20 39zm0-21zm21-1zm1-6zm3 14zm11 11zm12-13zm10-23zm22 13zm13-12zm17-1zm8 0zm6 0zm14 34zm12 5zm1-30zm10-6zm22 31zm14-10zm-32 47zm-50-29zm-7 27zm-25 8zm-9-33zm-1 7zm-10 1zm-20 24zm-15-30zm-12 8zm-38-3zm-6 25zm-1 1zm-37-25zm0 4zm-17 23zm-11-36zm-6 30zm-4-4zm-34-23zm-11 15zm-25-9zm0 20zm-13-13zm-10-8zm-7 0zm-12-4zm-6 13zm-23-14zm-18 4zm-26 1zm-12 28zm-20-10zm-7-13zm-6-15zm-24 27zm-8-14zm-8 18zm-1-19zm-20 15zm0 9zm-6-16zm-21-5zm-3 1zm-16-17zm-5 23zm-3-2zm-2-13zm-17 2zm-2 22zm-8 4zm-4-1zm-15 4zm-6-14zm-2 0zm-5-23zm-5 27zm-13 6zm-5 3zm-8-14zm-7 10zm-12 3zm-16-27zm-34 17zm-4-25zm-29 27zm-14-15zm-22-12zm-19 30zm-21-28zm-9 4zm-7-8zm-8 6zm-2-6zm-7 2zm0 8zm-4-3zm-20 15zm-3-21zm-8 20zm-5-19zm-5 14zm-52 15zm-1 3zm-7 0zm-5-5zm-22-1zm-9-1zm-4-27zm-1 35zm-57-3zm-5 16zm20 6zm7 4zm23 15zm1-5zm18 0zm11-4zm6 1zm4 1zm0-19zm13 8zm0 17zm3-20zm4 12zm0-19zm11 10zm8 7zm1 4zm15-22zm11 20zm3-11zm9-11zm47 8zm23 9zm32 15zm3-9zm7 5zm3-10zm0-11zm12 10zm18-19zm4 0zm4 36zm32-31zm13 20zm4 9zm7-24zm8 28zm0-10zm2 5zm1-14zm4-7zm11 16zm38-10zm9 4zm18-20zm18 17zm3 5zm6-16zm38-3zm15 7zm2 27zm2-1zm6-15zm14-16zm11 28zm0-4zm3-11zm1-12zm23 5zm3-5zm5 21zm9-5zm1-12zm3 8zm1-6zm2 0zm15 5zm1-3zm2 14zm1-16zm21-2zm15 14zm10-9zm1 10zm1 1zm10 3zm4 6zm1-16zm2-7zm13 5zm9 20zm29-5zm1-30zm22 31zm1-33zm10 37zm1-20zm11-5zm8-11zm5 17zm9-14zm4 32zm24-31zm5-1zm5 3zm3-7zm82 6zm22 4zm-185 58zm-17-7zm-5-4zm-3 1zm-5 0zm-5 13zm-13-9zm-10-8zm-13 9zm-1-23zm-2 5zm-2-2zm-11 12zm-3 8zm-5-22zm-1 5zm-1 3zm-1-7zm-6 23zm0-5zm-12-10zm-18-11zm-89 38zm-8-16zm-51-17zm-91 21zm-3-13zm-1 11zm-1 5zm-1 4zm-3 0zm-20-28zm-3-4zm-2 2zm-6 15zm-3-16zm0 22zm-2 4zm-8-27zm-3 6zm-1-3zm-1-5zm-9 18zm-33 20zm-4-27zm-3 22zm-6-18zm-23 8zm-3-21zm-6 0zm-3 6zm-4 21zm-5 9zm-18-24zm-1 21zm-3-2zm-22-29zm-47 12zm-10-3zm-9 10zm-1-22zm-24 38zm-76-39zm8 53zm31-13zm8 0zm12 3zm9 3zm19 19zm15-3zm68-14zm0 3zm8 14zm46 1zm8 9zm3-27zm7-3zm99-2zm292 5zm704 7zm-1198 26zm-18 4z" stroke="#1d0c3a" stroke-width="20" stroke-linecap="round" fill="none"/>
<path transform="scale(.1)" d="M8685 849z" stroke="#2d124d" stroke-width="17" stroke-linecap="round" fill="none"/>
<path transform="scale(.1)" d="M8529 908zm748 29zm-334-15zm534 116zm-8-22zm-720 8zm-15-8zm-17 11zm-2-13zm-13 2zm-3 6zm-9 0zm-5-3zm-19-9zm-130-7zm-20 7zm-4-4zm-22-4zm298 69zm5-29zm13 13zm-17 26zm-7 8zm-6-7zm-2 7zm-8-4zm-35 19zm-88 7zm-27-1zm-2 8zm-31 4zm13 5z" stroke="#2d124d" stroke-width="19" stroke-linecap="round" fill="none"/>
<path transform="scale(.1)" d="M7865 825zm892 198zm-15 7zm-36-29z" stroke="#2d124d" stroke-width="18" stroke-linecap="round" fill="none"/>
<path transform="scale(.1)" d="M8122 752zm18 5zm-305 71zm186-7zm147 1zm34 19zm-329-1zm-28 142zm484 2zm447 45zm-21-8zm-2 8zm-13-1zm-4 1zm-21-16zm0 12zm-7-8zm-21-15zm-27 10zm-1-4zm-10 4zm-22-7zm-14 0zm-2 2zm-14-5zm-16 4zm-12-2zm-89-2zm-18 21zm-14-6zm-26 5zm0-11zm-28 21zm-15-1zm-20-17zm-41 5zm-432 9zm334 21zm66 23zm9-2zm1-7zm16-7zm15-9zm0-7zm19 4zm429 0zm30 36zm-22 7zm-9-3zm-1-1zm-29 18zm-21-13zm-3 9zm-14 9zm-1-3zm-16 9zm-15-1zm-70 4zm-9-6zm-3 7zm-123-1zm-61-4zm-50-15zm-179-8zm215 42zm10-9zm64 3zm40 8zm68-7zm30-5zm-38 70zm-25-3z" stroke="#2d124d" stroke-width="18" stroke-linecap="round" fill="none"/>
<path transform="scale(.1)" d="M8978 1156zm157 43zm-64-28zm-39-6zm-12 32zm0-29zm-12 14zm-73 12zm-33-4zm-19 0zm-85 49zm14-5zm35-12zm52-3zm29 14zm9 3zm4-6zm14-3zm10-1zm19 12zm3-10zm1-9zm25 7zm1 8zm22-3zm16-4zm24-10zm51 21zm20-16zm96 40zm-39 14zm-3-5zm-57-6zm-62 0zm-27 9zm-1-28zm-11 8zm-34-11zm-19 1zm-21 32zm-10-27zm-7 20zm-9-24zm-12 8zm-100 22zm-7-24zm-31-3zm-143 48zm35 7zm13-20zm46 17zm13 18zm18-20zm4-7zm7 11zm25 8zm15-28zm5 34zm3-35zm33 3zm3 3zm51 10zm26 8zm7-2zm8-15zm5-2zm2 2zm7-7zm5 26zm3-23zm4 13zm30-15zm9 35zm3-22zm7 2zm0-7zm21 14zm0-16zm10-8zm0 3zm3 36zm15-35zm4 30zm11 2zm9-27zm14-8zm3 26zm8-15zm4 8zm2 10zm3 3zm45-8zm37-10zm21-15zm19 9zm2-6zm23 19zm23-14zm17 8zm1 16zm21 23zm-48 18zm-8 3zm0-24zm-3 8zm-15 5zm-11-12zm-12 15zm-34-10zm-14-7zm-1 16zm-5-22zm-6 25zm-30-4zm0-1zm-1 0zm-8-11zm-18-7zm-2 18zm-8-2zm0-12zm-7 1zm-7-11zm-9 4zm-7 18zm-5-11zm-1 16zm-6 3zm-19-31zm-3 32zm-6-32zm-3 1zm-11 13zm-9 15zm-2 7zm-11 0zm-12-2zm-1-2zm-8 3zm-1-13zm-34-13zm-4 12zm-1-19zm-11 5zm-2 7zm-1 7zm-2-14zm-15 18zm-12-2zm-20 16zm-8-7zm-14-28zm-20-1zm0 1zm-3 8zm-25 11zm-3-6zm0-5zm-2-9zm-2 0zm-34 17zm-7-11zm-4-5zm-36 27zm-10-25zm-94 29zm63 38zm97-28zm20 12zm43-12zm56 34zm10-13zm4-19zm10 3zm21 18zm6-3zm7 3zm1-11zm45 16zm7-4zm2 1zm3-8zm8-12zm30-2zm1 20zm4 4zm60-15zm3 11zm2-8zm11-19zm0 22zm32-21zm4 0zm4-1zm4 20zm2-14zm1 25zm4-19zm0-12zm31 18zm3 13zm8-3zm0-1zm12-2zm6 1zm20-24zm47 35zm25-3zm15-17zm2 10zm7 16zm-81 26zm-31-9zm-18 5zm-17-26zm-6 13zm-37 4zm-23 22zm-20-19zm-4-17zm-3-1zm-2 37zm-40-15zm0-16zm-2-6zm-43 7zm-1 25zm-7-23zm-1-11zm-6 12zm-20-5zm-3-4zm-10 24zm-3-23zm0-1zm-2 24zm-3 7zm-6-25zm-5 10zm-7-2zm-7-5zm-20-1zm-33-8zm-2 4zm-5-1zm-19 27zm-134-8zm-23 22zm31-5zm93 31zm44-22zm193 8zm12 6zm6-22zm98 29zm87-28zm-404 37zm-463 130z" stroke="#2d124d" stroke-width="20" stroke-linecap="round" fill="none"/>
<path transform="scale(.1)" d="M8504 722zm209 57zm125 114zm17 74z" stroke="#3d1760" stroke-width="17" stroke-linecap="round" fill="none"/>
<path transform="scale(.1)" d="M9043 852zm172 98zm207 25zm-687 51zm-3-2zm-60-5zm-41-3zm-35-1zm-25-3zm-11 6zm-74-6zm-40-1zm-3-3zm-1 4zm-1-1zm302 65zm4-1zm27-32zm-18 45zm-22 6zm-24-2zm-209 8zm1314 113z" stroke="#3d1760" stroke-width="19" stroke-linecap="round" fill="none"/>
<path transform="scale(.1)" d="M8629 950zm67 28zm62 52zm-11 10z" stroke="#3d1760" stroke-width="18" stroke-linecap="round" fill="none"/>
<path transform="scale(.1)" d="M8319 962zm112 23zm377 51zm-33 0zm-56-14zm-19 8zm-11-3zm-39-11zm-18-1zm-2-5zm-22 8zm-98-13zm-7 12zm-10-7zm-12 5zm-13 13zm-35-10zm-7 7zm-42 12zm-57 0zm-28 30zm8-18zm1 18zm45-27zm373 1zm38 28zm2 3zm5-15zm0-13zm4 22zm9 0zm5-5zm-18 24zm-30 5zm-26 7zm-1 4zm-19 8zm-64-5zm-28 2zm-8 8zm-26-5zm-5-1zm-56 2zm-13-1zm-43-13zm-19 12zm-2 4zm-15-16zm-22-6zm-25-9zm-2 18zm-3 6zm-8-10zm-179 9zm150 73z" stroke="#3d1760" stroke-width="18" stroke-linecap="round" fill="none"/>
<path transform="scale(.1)" d="M8929 1201zm122 22zm29 45zm-135 3zm-101 29zm18-13zm74 29zm20-30zm15 29zm12-5zm39-22zm40-2zm186 69zm-61-13zm-110-17zm-28 5zm-34-1zm-13 4zm-19 21zm-18-33zm-9 20zm-14-16zm-360 40zm621 1zm209 36zm-266 0zm-125 8z" stroke="#3d1760" stroke-width="20" stroke-linecap="round" fill="none"/>
<path transform="scale(.1)" d="M8586 803z" stroke="#4f1e6d" stroke-width="17" stroke-linecap="round" fill="none"/>
<path transform="scale(.1)" d="M8870 836zm5 47zm305 3zm-71 69zm-70-9zm-430-21zm118 107zm-87-11zm-13-3zm-18 3zm-23-4zm-64 0zm-30-3zm-29 20zm-14-12zm274 57zm34-15zm1 3zm-35 27zm-135 13zm-19-3zm-54 2zm1239 30zm232 100z" stroke="#4f1e6d" stroke-width="19" stroke-linecap="round" fill="none"/>
<path transform="scale(.1)" d="M8342 784z" stroke="#4f1e6d" stroke-width="18" stroke-linecap="round" fill="none"/>
<path transform="scale(.1)" d="M8084 749zm-167 20zm496 71zm-329 31zm-159 19zm687 49zm-24 19zm-62-29zm-139 22zm388 21zm-50 59zm-34 2zm-22-8zm-38-8zm-14-7zm-121 8zm-24 5zm-3 1zm-1-10zm-62 17zm-379-31zm-139 44zm456 19zm32-1zm4 17zm28-13zm285-26zm50 35zm21-35zm8 22zm-43 32zm-18-1zm-116 11zm-10-9zm-3 7zm-33 9zm-21-3zm-73-18zm-3 11zm-5-16zm-35 10zm-19-3zm-4 11zm-460-4zm256 51zm535-23zm-812 54z" stroke="#4f1e6d" stroke-width="18" stroke-linecap="round" fill="none"/>
<path transform="scale(.1)" d="M9483 1355zm-302 37zm426-18zm-219 32zm-1265 44zm913-4zm-141 76z" stroke="#4f1e6d" stroke-width="20" stroke-linecap="round" fill="none"/>
<path transform="scale(.1)" d="M8279 696zm26 49zm-766 94zm60-23zm1032 7zm215 72zm25-13zm-80 75zm-96 3zm133 24z" stroke="#602477" stroke-width="17" stroke-linecap="round" fill="none"/>
<path transform="scale(.1)" d="M8887 944zm-182 89zm-5-5zm-3-2zm-77-2zm-3-3zm-14-5zm-78 9zm-44 12zm241 39zm7-33zm17 24zm0 11zm5-33zm15 30zm770 24zm-871-2zm-6-10zm-157 7zm1085 40z" stroke="#602477" stroke-width="19" stroke-linecap="round" fill="none"/>
<path transform="scale(.1)" d="M8718 986z" stroke="#602477" stroke-width="18" stroke-linecap="round" fill="none"/>
<path transform="scale(.1)" d="M8296 873zm-119-5zm360 51zm46 22zm-387 47zm153-28zm57 32zm350 4zm23 2zm-200 19zm-127 11zm-19 3zm-31 2zm-153-26zm148 49zm44-6zm287-5zm10-1zm5 17zm5-16zm-40 43zm-16 7zm-26 1zm-4 4zm-14-13zm-46 3zm-23 16zm-67-2zm-16-15zm-34 5zm-14 6zm-50-18zm-17 4zm-11 7zm117 77zm-84-5z" stroke="#602477" stroke-width="18" stroke-linecap="round" fill="none"/>
<path transform="scale(.1)" d="M9094 1344zm56 48zm296-6zm-352 35zm321 40zm-1006 44zm-56 133z" stroke="#602477" stroke-width="20" stroke-linecap="round" fill="none"/>
<path transform="scale(.1)" d="M9179 898zm-673 62zm197 16zm-89 47zm-89-1zm-35 16zm-41-3zm258 6zm5 12zm8 30zm-224 16z" stroke="#722b79" stroke-width="19" stroke-linecap="round" fill="none"/>
<path transform="scale(.1)" d="M7803 832z" stroke="#722b79" stroke-width="18" stroke-linecap="round" fill="none"/>
<path transform="scale(.1)" d="M7777 820zm747 112zm-161 29zm298 65zm-70-7zm-23 1zm-16 4zm-2-1zm-13 14zm-69-13zm-48-13zm-425-5zm-23 19zm295 15zm102 16zm21-8zm9 31zm18-24zm34 11zm287-15zm3 3zm5 7zm1 15zm-90 5zm-9 8zm-58 10zm-31 5zm-65-18zm-20 10zm-47-5zm128 40zm27 28zm71 1z" stroke="#722b79" stroke-width="18" stroke-linecap="round" fill="none"/>
<path transform="scale(.1)" d="M8501 1170zm213 90zm-597 59zm997 31zm-633-29zm-357 38zm442 4zm1228 31zm-804 46z" stroke="#722b79" stroke-width="20" stroke-linecap="round" fill="none"/>
<path transform="scale(.1)" d="M8616 1027zm-28-2zm-84-3zm102 23zm64 27zm59-12zm4 0zm-60 26zm-66 8zm-8-2zm1490 189z" stroke="#833178" stroke-width="19" stroke-linecap="round" fill="none"/>
<path transform="scale(.1)" d="M7914 820zm283 0zm-123 54zm478 121zm-28 37zm-11-10zm-22 5zm-4 9zm-14-11zm-60 16zm58 27zm2-28zm238 38zm19-8zm-138 20zm-2 1zm-2 5zm-10 3zm-2 4zm-8-5zm-109-3z" stroke="#833178" stroke-width="18" stroke-linecap="round" fill="none"/>
<path transform="scale(.1)" d="M8358 1284zm1477 265z" stroke="#833178" stroke-width="20" stroke-linecap="round" fill="none"/>
<path transform="scale(.1)" d="M9386 1194zm58 25zm452 217zm-50 0z" stroke="#833178" stroke-width="16" stroke-linecap="round" fill="none"/>
<path transform="scale(.1)" d="M8593 1024zm-169 15zm-103 4zm109 1zm6 0zm3 18zm28 10zm18-15zm219 10zm1 11zm-46 7zm-27-4zm-3 1zm-19 9zm-124-9z" stroke="#943773" stroke-width="18" stroke-linecap="round" fill="none"/>
<path transform="scale(.1)" d="M8629 1028zm-99 5zm-67-3zm194 23zm32 13zm14 0zm9 7zm1-25zm6 27zm-41 13zm-101-1zm-37-7zm-13 6z" stroke="#943773" stroke-width="19" stroke-linecap="round" fill="none"/>
<path transform="scale(.1)" d="M8560 1038zm-71-4zm-32 2zm-92 26zm80 12zm55-28zm157 25zm30-25zm14 7zm8 16zm20-4zm-75 24zm-139 0zm-1-1zm-62-8zm-1 1zm-14 1z" stroke="#a53d6c" stroke-width="18" stroke-linecap="round" fill="none"/>
<path transform="scale(.1)" d="M8465 1045zm199 23zm15-4zm31 4zm-54 18z" stroke="#a53d6c" stroke-width="19" stroke-linecap="round" fill="none"/>
<path transform="scale(.1)" d="M9133 1308zm-70 143z" stroke="#a53d6c" stroke-width="20" stroke-linecap="round" fill="none"/>
<path transform="scale(.1)" d="M8538 1029zm-102 39zm10 0zm9 2zm1-15zm48 10zm3 5zm19-14zm60-12zm10 34zm3-29zm65-1zm-88 40zm-6-1z" stroke="#b64561" stroke-width="18" stroke-linecap="round" fill="none"/>
<path transform="scale(.1)" d="M8642 1035zm-54 3zm-38-6zm-25 2zm-53 33zm19-3zm16-18zm6 4zm1 4zm8-9zm1-1zm1 23zm8 7zm17 4zm11-28zm73 13zm71-19zm7 24zm21-25zm-167 47zm-16-7zm-8-1zm-3 7zm-15-4zm-16-4zm-2 1z" stroke="#b64561" stroke-width="19" stroke-linecap="round" fill="none"/>
<path transform="scale(.1)" d="M8443 1067zm26 9zm23-9zm17 9zm17-9zm50 10zm69-12zm-118 21zm-69-6z" stroke="#c64e56" stroke-width="18" stroke-linecap="round" fill="none"/>
<path transform="scale(.1)" d="M8462 1071zm30 1zm43-24zm13-6zm7 27zm31 7zm32 2zm45-36zm35 16zm-100 26z" stroke="#c64e56" stroke-width="19" stroke-linecap="round" fill="none"/>
<path transform="scale(.1)" d="M8588 1079zm5-25zm18 18zm0 10zm-5 0z" stroke="#d6584a" stroke-width="18" stroke-linecap="round" fill="none"/>
<path transform="scale(.1)" d="M8604 1034zm-115 19zm2-5zm6 27zm96 13zm-33 0z" stroke="#d6584a" stroke-width="19" stroke-linecap="round" fill="none"/>
<path transform="scale(.1)" d="M8459 1065zm58-3zm43 12zm17-23zm22 14z" stroke="#e16540" stroke-width="18" stroke-linecap="round" fill="none"/>
<path transform="scale(.1)" d="M8563 1039zm-22 31zm118-18z" stroke="#e16540" stroke-width="19" stroke-linecap="round" fill="none"/>
<path transform="scale(.1)" d="M8532 1078zm16-21zm27 8zm67 6zm8-1z" stroke="#eb7438" stroke-width="18" stroke-linecap="round" fill="none"/>
<path transform="scale(.1)" d="M8588 1078zm51-20z" stroke="#eb7438" stroke-width="19" stroke-linecap="round" fill="none"/>
<path transform="scale(.1)" d="M8440 1048zm59 21zm81-28zm18 37z" stroke="#f08436" stroke-width="18" stroke-linecap="round" fill="none"/>
<path transform="scale(.1)" d="M8518 1045zm92 30z" stroke="#f08436" stroke-width="19" stroke-linecap="round" fill="none"/>
<path transform="scale(.1)" d="M8523 1071zm13-8zm9 1zm2 6z" stroke="#f59335" stroke-width="18" stroke-linecap="round" fill="none"/>
<path transform="scale(.1)" d="M8522 1064zm97-7zm9-3zm0 14z" stroke="#f59335" stroke-width="19" stroke-linecap="round" fill="none"/>
<path transform="scale(.1)" d="M8636 1158zm61-4zm14-11zm85-11zm127 4zm2 6zm2 5zm113 38zm-9-21zm-213 7zm-139 9zm-50-19zm-567 48zm22 29zm159-11zm16-3zm1 1zm9 14zm185-8zm13 7zm46-1zm35-6zm15 3zm8-5zm6 8zm80-34zm150 36zm134-12zm5 4zm5-8zm16 16zm-4 18zm-6-7zm-262-5zm-195 8zm-5-12zm-23 23zm-3 6zm-1 2zm-4-10zm0 15zm-21-10zm-8 1zm-5-3zm-181 10zm-30-31zm-1 1zm-4 12zm-9 21zm-9-10zm-170-6zm63 42zm83-17zm34 14zm4 1zm8 5zm46-12zm10-5zm8-7zm56 15zm113 13zm35 1zm7-5zm5-4zm64 13zm408-34zm12-2zm104 35zm95-19zm450 55zm-154-22zm-362-9zm-117 27zm-36 5zm-3 4zm-24-22zm-11 5zm-270-2zm-66 4zm-15-13zm-43 19zm-23-2zm-66 10zm-72-7zm-4-9zm-8-15zm-36 15zm-13-18zm-38 22zm-6-12zm-3 5zm-8-15zm-70 13zm-6 0zm-76 10zm-20 7zm-8-11zm55 34zm21 23zm18-34zm14 1zm2 18zm71 17zm94-3zm52-36zm24 1zm3 34zm8 2zm93-1zm8-2zm1-4zm2-4zm2 2zm154-25zm49 35zm1-5zm105 1zm79-34zm10 3zm3 4zm42 21zm71-26zm68 33zm297-5zm22 9zm96-36zm5 10zm81-6zm29 37zm-230-2zm-248 19zm-252 15zm-8 2zm-47 0zm-22-30zm-23 10zm-81 14zm-5-29zm-86 6zm-39 10zm-51 3zm-12-1zm-7 0zm-64-20zm-5 4zm-9 6zm-26 25zm-23-32zm-86 13zm-3 7zm-221-23zm36 78zm9-25zm2 24zm3-25zm6-6zm55 3zm14-3zm0 5zm9 22zm104 1zm111-16zm1 1zm4-4zm140-2zm28 18zm7-4zm3 6zm20-32zm88 3zm26 24zm86-28zm5 1zm45-1zm17 12zm6 16zm19 0zm20-19zm7-9zm1 11zm1 0zm5 12zm9 12zm7-16zm68 2zm4-1zm189 17zm12 0zm126-20zm26-8zm158 26zm144-16zm8 5zm8 2zm149 40zm-1 11zm-11 0zm-98-11zm-16 12zm-24-11zm-7 3zm-11-8zm-7-8zm-101 0zm-36-15zm-6 9zm-619 5zm-16-4zm-59-6zm-16-1zm-15 5zm-93 29zm-68-21zm-71 18zm-2 3zm-15-16zm-12 3zm-240 15zm-3-31zm-11 28zm-122-16zm-8 30zm8-7zm31 12zm4-10zm20 16zm9 7zm4-10zm5-7zm2-2zm71 28zm3-25zm296 27zm6-1zm93-36zm4 0zm51 12zm10-1zm4-2zm851 27zm5-1zm22-30zm152 71zm-3-24zm-70 24zm-2-3zm-16 2zm-6-13zm-1 10zm-1069-29zm-1 11zm-16-1zm-8-8zm-23 15zm-6-4zm-5 7zm-14 1zm-16-2zm-11 12zm-212-33zm210 58zm24-21zm15 3zm0 10zm1167-9zm6-4zm48 1zm2 10zm56 36z" stroke="#fff" stroke-width="11" stroke-linecap="round" fill="none"/>
<path transform="scale(.1)" d="M8892 833zm1 2zm84-3zm5-11zm48 7zm203 47zm-19 0zm-36-24zm-11-1zm-3 3zm-15 23zm-1-23zm-3 4zm-10 8zm-17-18zm-6-3zm-10 3zm-2 25zm-56-25zm-14 0zm-131 13zm-8-6zm-32-1zm-7 18zm3 12zm42 35zm20-7zm14 0zm14-26zm8 28zm9-23zm27 13zm16 16zm1-10zm33-5zm2-3zm18 13zm1-18zm4 21zm10-18zm0-1zm22-1zm2 10zm13-1zm0-1zm6-2zm30-21zm65 8zm8-2zm66 10zm16 7zm11-21zm2 19zm4 1zm6 14zm160 35zm-13-1zm-29 4zm-2-7zm-45 5zm-66-6zm-13-8zm-16-4zm-12 9zm-46-8zm-6-1zm-13 21zm-13-7zm-10-30zm-1 3zm-1 22zm-1-4zm-7-17zm-10 9zm-52 25zm-3-27zm-1 21zm-3 0zm-88-31zm-6 25zm-19-24zm-72 20zm-9 1zm-3 1zm-26-24zm-12 15zm-11-1zm-2-13zm-12 22zm76 45zm6-22zm15 22zm3 7zm5 0zm25-33zm12 29zm15-23zm18 0zm9-5zm2 6zm6-1zm14 17zm5 3zm1-22zm3 11zm12 7zm41 4zm7-2zm27-5zm108-12zm6 1zm17 3zm10-8zm44 0zm10 6zm26 0zm14-3zm5-5zm6 1zm70 34zm15-15zm21 16zm1-12zm4-16zm8 25zm0 1zm9-9zm70 37zm-20 1zm-44-10zm-3 7zm-1-8zm-6 23zm-4-22zm-14 22zm-4-12zm0 3zm-10-8zm-7 5zm-1 12zm0-15zm-2 15zm-15-16zm-9-12zm-28 11zm-44 18zm-25-35zm-6 2zm-26 30zm-408-29zm389 37zm8 21zm2-2zm4-4zm4 11zm2-23zm7 13zm8 2zm3 5zm4 4zm34 7zm9-35zm0 33zm19 0zm12 1zm12-23zm20-5zm3 10zm6 16zm60-13zm26-2zm71 7zm16-7zm4 11zm3 7zm55 1zm101 39zm-74-29zm-1-4zm-5 28zm-36 6zm-29-24zm-10-6zm-18-5zm-15 26zm-9 6zm-6-4zm-8-6zm-15-4zm-1 6zm-3-1zm-2-2zm-2 2zm-21 3zm-9 4zm-72-29zm-1 13zm-19 7zm-41-21zm-10-1zm-17 1zm-3-2zm-8 11zm137 43zm19-8zm6 8zm2-13zm7 6zm3-3zm46-5zm33 0zm3 32zm9 4zm53-10zm10-5zm6-17zm8 17zm10-22zm21 29zm7-9zm4-14zm28 19zm7-15zm0 11zm3 9zm0-25zm40 25zm6-1zm0 1zm7 0zm39 49zm-3-4zm-5 1zm-22-2zm-68-12zm-6-8zm-2 0zm-2 4zm-2 14zm-13-20zm-14 12zm-4 9zm-4-7zm0 9zm-5-4zm-2-1zm-10-23zm-12-4zm-10-3zm-4 26zm0 3zm-31-16zm-17-11zm-8 8zm-16-5zm0 6zm104 37zm29-6zm3 2zm21 20zm6-17zm4 2zm3-4zm6 12zm0-7zm1 8zm1-6zm10-5zm26-4zm4-3zm6 31zm13-31zm5 26zm6 11zm4-9zm17 7zm91 3zm37 40zm-1-10zm-9 0zm-5 5zm-14 1zm-25-33zm-92 9zm-4 0zm0-7zm131 53zm6 18zm18-16zm2-6zm9 23zm16-13zm30-8zm19 23zm2-4zm13 8zm-58 17zm-4-18zm-12 7z" stroke="#fff" stroke-width="11" stroke-linecap="round" fill="none"/>
<polygon points="829.0,121.6 835.0,119.4 842.0,119.2 847.0,118.6 843.0,122.4 836.0,123.6" fill="#fff"/>
<path d="M882.3 87.4L870.5 95.8" stroke="#fff" stroke-width="1.3" fill="none"/>
<path d="M862.0 101.9L868.0 92.3L873.0 99.3Z" fill="#fff"/>
<text x="1043.4" y="52.0" font-size="10.5" fill="#1a1a1a" text-anchor="end">Expression level</text>
<defs><linearGradient id="gF1" x1="0" y1="0" x2="0" y2="1"><stop offset="0.00" stop-color="#fceb9c"/><stop offset="0.08" stop-color="#fbdc7c"/><stop offset="0.15" stop-color="#fac45a"/><stop offset="0.22" stop-color="#f9a83a"/><stop offset="0.30" stop-color="#f59034"/><stop offset="0.38" stop-color="#ea7238"/><stop offset="0.45" stop-color="#d95a48"/><stop offset="0.52" stop-color="#bf495c"/><stop offset="0.60" stop-color="#9e3a70"/><stop offset="0.68" stop-color="#7e2f7a"/><stop offset="0.76" stop-color="#5c2377"/><stop offset="0.84" stop-color="#3a165e"/><stop offset="0.92" stop-color="#1c0c38"/><stop offset="1.00" stop-color="#06030c"/></linearGradient></defs>
<rect x="1014.6" y="57.0" width="14.2" height="70.0" fill="url(#gF1)"/>
<text x="1032.8999999999999" y="60.1" font-size="8.0" fill="#222">1.00</text>
<path d="M1026.6 74.5h2.2" stroke="#fff" stroke-width="0.7"/>
<text x="1032.8999999999999" y="77.6" font-size="8.0" fill="#222">0.75</text>
<path d="M1026.6 92.0h2.2" stroke="#fff" stroke-width="0.7"/>
<text x="1032.8999999999999" y="95.1" font-size="8.0" fill="#222">0.50</text>
<path d="M1026.6 109.5h2.2" stroke="#fff" stroke-width="0.7"/>
<text x="1032.8999999999999" y="112.6" font-size="8.0" fill="#222">0.25</text>
<text x="1032.8999999999999" y="130.1" font-size="8.0" fill="#222">0.00</text>
<text x="741.9" y="172.6" font-size="10.5" fill="#1a1a1a">Chip1_s2</text>
<rect x="738.3" y="222.6" width="314.2" height="143.0" fill="#fff" stroke="#3d3d3d" stroke-width="1.15"/>
<text x="903.0" y="218.2" font-size="10.6" fill="#1a1a1a" text-anchor="middle">Mapping anterior area of TM</text>
<polygon points="744.0,271.2 746.0,269.6 749.9,268.7 757.4,266.2 768.2,263.2 778.8,261.2 789.4,259.3 795.9,257.3 806.2,256.9 817.6,256.9 829.0,257.0 840.4,258.3 851.8,259.8 863.2,259.8 872.2,261.5 876.8,265.0 881.3,270.5 884.0,272.0 883.7,288.8 880.9,288.1 875.7,289.0 869.7,287.9 863.8,284.8 857.9,280.7 850.9,276.5 843.0,271.8 834.1,267.2 826.2,264.1 817.2,262.7 806.2,261.9 794.7,262.9 783.1,266.2 771.7,269.3 760.2,271.9 752.0,274.1 746.4,274.4 744.2,273.2" fill="#05030c"/>
<polygon points="882.1,271.1 886.0,271.8 897.5,271.4 908.8,272.4 920.2,274.9 931.5,279.0 942.8,284.4 954.2,290.4 965.5,296.3 976.8,302.7 988.1,309.3 999.4,316.3 1008.4,322.3 1012.9,327.1 1010.6,327.2 999.1,323.9 987.9,319.1 976.6,314.3 965.3,310.4 953.9,305.7 942.5,299.9 935.6,299.3 931.2,297.9 925.7,293.3 919.9,290.8 908.5,289.6 897.1,290.4 885.7,289.0 881.7,288.3" fill="#07040f" stroke="#fff" stroke-width="1.6" stroke-linejoin="round"/>
<polygon points="795.9,308.5 798.4,304.6 803.6,302.7 810.4,304.8 816.7,307.1 821.3,309.8 826.3,311.9 833.3,312.2 839.3,310.3 844.1,307.4 848.4,304.3 853.3,301.8 857.5,302.7 862.4,303.4 867.5,302.5 873.8,301.4 879.5,301.1 885.2,301.4 890.5,301.1 896.9,301.2 902.5,303.3 908.2,306.6 913.3,309.9 919.5,312.8 925.3,314.9 930.8,316.6 936.2,318.1 942.2,320.0 948.1,321.8 953.6,323.7 959.1,325.6 964.9,327.5 970.0,329.2 976.3,331.3 979.9,333.0 983.0,335.0 984.5,337.4 985.4,340.5 984.2,343.4 985.5,346.5 987.0,350.5 987.5,354.5 986.1,357.7 983.9,356.0 982.7,350.8 980.6,349.6 979.2,352.3 975.8,355.1 971.9,355.4 969.0,353.6 965.0,349.7 961.7,346.0 958.4,342.6 954.8,339.5 950.5,337.2 945.9,335.7 941.9,335.0 935.9,335.7 930.5,336.8 924.8,338.7 919.0,340.4 912.8,340.7 907.6,340.0 901.8,339.1 896.2,338.6 889.8,339.1 884.5,341.2 878.7,342.5 873.0,343.2 867.3,344.5 861.6,346.4 857.2,350.1 853.1,352.8 849.2,351.5 845.6,348.5 843.3,348.0 839.6,349.8 835.6,351.1 831.9,349.8 827.6,347.1 822.8,344.8 816.7,341.5 811.5,338.0 807.5,334.2 804.8,330.7 803.0,326.1 801.5,321.6 799.0,318.4 796.2,315.5 795.1,311.9" fill="#1a0a36" stroke="#fff" stroke-width="2.6" stroke-linejoin="round"/>
<polygon points="840.8,283.8 847.9,276.9 857.9,279.1 869.8,286.3 880.2,289.0 878.6,294.0 873.6,298.0 865.5,300.2 857.5,300.7 848.5,298.4 842.6,292.8" fill="#07040f"/>
<path transform="scale(.1)" d="M7991 2589zm8 5zm29-8zm22-12zm47 22zm10 3zm39-16zm30-7zm30 6zm0 16zm6-7zm56-3zm23 8zm29-8zm130 5zm164 6zm133 36zm-56-18zm-22 0zm-4 10zm-8-3zm-74 8zm-34 5zm-26-17zm-3-4zm-51-12zm-16 11zm-4-6zm-50-3zm-93 1zm-5 14zm-16-19zm-1 27zm-38-10zm-14-11zm-5 5zm-7 16zm-2-15zm-19 15zm-2-11zm0 11zm-122-26zm-98 18zm-24-12zm-22 4zm-31-10zm-5-3zm-72 29zm-16-13zm-1 20zm-134 20zm5 6zm16 7zm26-24zm16 12zm9 18zm27-19zm23-2zm474-11zm47 12zm48 0zm0-3zm67 11zm2 1zm2 0zm7-2zm4-15zm73 2zm3 2zm3-1zm62 8zm21 0zm20 9zm4-11zm3-9zm7 31zm52-11zm9 5zm43-32zm47 52zm-50 22zm-13-3zm-44-30zm-16 35zm-5-14zm-22-20zm-13 14zm-3 19zm-19-29zm-13 28zm-37-32zm-10 35zm-8-30zm-7 31zm-23-2zm-97-21zm-50-15zm-693 20zm-122 17zm-22-6zm-10-24zm-41 21zm16 12zm1 4zm21 15zm987-9zm86 7zm4-12zm1 25zm17-21zm6 18zm20 7zm58-20zm25 25zm12-33zm25-2zm10 32zm53 14zm-43 18zm-34-2zm-6 9zm-2-23zm-4 16zm-40 4zm-1-23zm-1 16zm-14 6zm-53-20zm-3 20zm-58-19zm-1 1zm-19 2zm79 56zm20 4zm36-34zm10 16zm76-8zm31 10zm1-5zm-63 48zm-14 8zm-3-26zm-5 25z" stroke="#06030c" stroke-width="17" stroke-linecap="round" fill="none"/>
<path transform="scale(.1)" d="M8814 2740zm17 19zm58-33zm5 13zm72 13zm32-3zm27-8zm176 54zm-14-11zm-56-1zm-27-13zm-184 2zm-19 13zm-19-24zm-3 24zm-343 11zm-51-12zm-40 14zm-32 17zm33-5zm6 24zm2-12zm3 10zm12-20zm13-12zm12 25zm3-18zm4 7zm5 13zm11-14zm5 8zm3-10zm8 23zm4-25zm2 16zm3-17zm4 13zm6 17zm8-22zm3-15zm8 8zm2-2zm9 6zm14-1zm254 25zm10-29zm18 3zm4-6zm10 25zm14-6zm2-2zm75-9zm69 0zm5 15zm43-16zm15 9zm83 14zm19-21zm84 25zm155 38zm-143-28zm-18 6zm-7 13zm-38-20zm-2-8zm-48 37zm-58-25zm-101 8zm-3-9zm-21 7zm-8-4zm-90 20zm-71-32zm-15 19zm-157 11zm-7-11zm-8-5zm-5 12zm-1-5zm-35 7zm-3-30zm-13 7zm-4-5zm-2 29zm0-10zm-7 7zm-23-11zm-3-13zm-79 10zm-36 24zm-48 15zm14 14zm8-11zm10-13zm26-3zm12 36zm2-24zm10 23zm3-7zm8-12zm68 17zm54-10zm4-22zm13 10zm2-6zm2 13zm3 0zm1-13zm34 3zm7 30zm9-25zm21 7zm15 4zm26 1zm11-6zm0 11zm6-6zm10-1zm3-6zm216-14zm31 5zm134-6zm21 7zm80 20zm48 10zm63-26zm2 5zm6-16zm6 9zm34 10zm105 22zm-67 24zm-81 6zm-6-20zm-148-12zm-448 11zm-16 22zm-4-14zm-1-6zm-16-8zm-8 4zm-2 15zm-5-8zm-34 7zm-6 9zm-3-6zm-8 11zm-54-22zm-2 2zm-2-10zm-12 0zm-6-8zm-8 0zm-7 39zm0-8zm-1-20zm0 9zm-20 4zm-13-14zm-8 10zm-8-6zm-25 3zm-2-16zm-37 14zm63 27zm142 8zm665-7zm28 6zm7 11zm70-1zm104-19zm15 39zm27-2zm68-21zm34 21zm61 38zm-15 1zm-239 2zm-27-19zm343 53zm12 38zm-19-5zm-11 11zm-2-19zm-85-10zm-84 0zm71 33zm39 19zm59 4zm11-21zm13 14zm11 16zm97-13zm4 17zm37-1zm29 16zm-41 21zm-94-19zm244 98zm-6-27zm-69-2z" stroke="#06030c" stroke-width="19" stroke-linecap="round" fill="none"/>
<path transform="scale(.1)" d="M8210 2638zm-10-3zm-1 1zm-5-1zm-4 0zm-31 0zm-24-11zm-14 14zm-12 0zm-3-8zm-2 4zm-20 5zm-25-7zm-2-11zm-6-1zm-14 9zm-5-1zm-2 0zm-25 8zm-14-10zm-39 8zm-187 45zm55 0zm65-30zm4-2zm16 4zm122-6zm23 0zm26-1zm9 0zm74 17zm8-17zm25 5zm16 1zm9-4zm2 8zm3 1zm7-1zm7-2zm2 9zm24-14zm1-6zm1 14zm7-4zm7 24zm1-13zm17-4zm0 1zm8-4zm2 18zm16 3zm10-2zm9 4zm84 40zm-4 0zm-7-8zm-24-6zm-6 0zm-7-1zm-4-3zm-11 11zm-1-9zm-10-21zm-8-1zm-4 31zm-7-28zm-603 21zm-52 5zm-36 2zm-22 16zm4 20zm7-20zm4-5zm21 4zm758 11zm1-11zm8 0zm4 8zm9-14zm13 7zm1 14zm10-9zm2 17zm14 3zm1 5zm52 19zm-35 1zm63 31zm30 20zm7-7zm7 14zm65 43zm36 12zm10-6zm15 0z" stroke="#06030c" stroke-width="18" stroke-linecap="round" fill="none"/>
<path transform="scale(.1)" d="M8085 2591zm207 33zm-2 12zm-7-27zm-1 13zm-8 14zm0-17zm-18 13zm-23 3zm-8-2zm-3-32zm-6 16zm-3 17zm-2-7zm-9 8zm-8-7zm-2-1zm-12 2zm-13 7zm0-2zm-3-8zm-3 10zm-2-3zm-1-14zm-1 14zm-2-10zm-7-6zm0 13zm-3-4zm0-14zm-8 25zm-17-8zm-1 8zm-6-27zm-1 6zm-7 13zm-5-27zm-1 31zm-3-12zm-3-19zm-20 8zm-2-2zm-4 22zm-4-26zm-4 13zm-1-5zm0 13zm-11 0zm-8 1zm-3 5zm-4 7zm-7-23zm-4 20zm-15-11zm-4-12zm-10-9zm-1 35zm-2 1zm-5-22zm-5-10zm-2-1zm-8 8zm-2-3zm-2 0zm-1 0zm-4 16zm0-11zm-4 3zm-2 11zm-64-4zm-17 9zm0-20zm-18 17zm-11 0zm-131 44zm53-4zm6-1zm11 1zm63-22zm8-6zm5 29zm5-20zm2-10zm2 31zm3-3zm19-6zm13 4zm41 1zm25-11zm4 16zm19-32zm3 7zm1 3zm7-6zm0-7zm8 17zm0-17zm103 10zm16 18zm11-1zm4 5zm9-8zm4 9zm7-7zm0-24zm7 17zm2-8zm8 11zm1-14zm8 13zm8-20zm3 34zm5-10zm0-12zm0-5zm3 2zm1 6zm2 4zm0-5zm3 8zm11 1zm15 5zm12-1zm19-24zm9 2zm5 14zm15 10zm2-24zm15 23zm20 8zm7-26zm13 15zm5 13zm3-6zm16-1zm12 2zm8 4zm74 22zm-13 2zm-5 17zm-41-15zm0-1zm-10-19zm-6 26zm0-28zm-5 0zm0 8zm-3 0zm-2 10zm0-15zm0 18zm-1 13zm-1-7zm-4-21zm-1-2zm-1 28zm-6-8zm-18-10zm-15 10zm-1 3zm-3-13zm-4 18zm-3-16zm-6 12zm-3 9zm-3-16zm-5 5zm-28-15zm-5 4zm-7-4zm-2-9zm-1 32zm-7-22zm-2 11zm-35 13zm-1-35zm-6 23zm-1 2zm-8-19zm-7 11zm-5-12zm-3 1zm-10 5zm-7-13zm-12 7zm-5-5zm-88 20zm-101 16zm-34-37zm-43 9zm-7 19zm-66 0zm-17 4zm-59-31zm-33 6zm-10 23zm-9-31zm-8 10zm-19 8zm-16-9zm-6 5zm-13-5zm-14 19zm-10-3zm-99 37zm3 5zm17-28zm7 15zm10-2zm2 14zm6 6zm15-24zm10 11zm7 15zm1-15zm25 10zm8 1zm2 2zm1-29zm2 26zm0-1zm3 2zm2 8zm27-38zm6 36zm18-17zm26 14zm85-3zm13-18zm8 24zm11-3zm13-18zm6 13zm2-3zm40-24zm105 0zm64 23zm4-7zm21-14zm43 30zm23-30zm13 6zm16 28zm6-17zm1-18zm6 22zm1 13zm3-7zm4 3zm3-6zm24-13zm25 7zm5-12zm2 7zm4-10zm1 3zm1 15zm3-16zm1-8zm11 28zm5 8zm1-27zm36 7zm6-3zm1-8zm12-6zm2 7zm3 6zm0-10zm0 3zm5 10zm0 12zm4-17zm0-2zm59 13zm0 8zm2 4zm2-10zm4-13zm15-3zm5 10zm6-5zm4 16zm21-25zm15 20zm4-8zm80 63zm-31-3zm-4-23zm-5-12zm-11 11zm-2 12zm-2 10zm-5 3zm-27-14zm-20 2zm-20 12zm-10-23zm-31 23zm-2-34zm-17 28zm-7-4zm-57-18zm-13 14zm-10-15zm-21 20zm-80-11zm-9-3zm-3-13zm-9 25zm-8-6zm-7 1zm0 9zm-13 6zm-29-23zm-15 10zm-31 14zm-18-27zm-46 27zm-32 2zm-7-15zm-27 12zm-4-3zm-16 1zm-17 0zm-54 2zm-8-27zm-22 10zm-7 1zm-3 18zm-4-21zm-10 19zm-22-4zm-5-14zm-18-15zm0 31zm-12-29zm-20 19zm-19 15zm-22-22zm-11 2zm-18-4zm-1-6zm-1 4zm-5-9zm-14 17zm-6-9zm-5-1zm-8 5zm112 56zm8 5zm19-22zm4-3zm4 26zm0 1zm2-17zm16 7zm24-16zm1 15zm2-18zm3 19zm10-21zm5-1zm0 9zm4 11zm0-10zm0 8zm2-13zm0 3zm12 16zm3-16zm13-7zm5 21zm7 2zm5 1zm7-32zm10 39zm1-38zm27 21zm9 11zm9-8zm0 12zm2-23zm11-5zm13 18zm13-11zm4 22zm17-5zm27-20zm10 11zm16-7zm4 4zm3-10zm17 2zm2 15zm4 0zm9-18zm3 5zm4 20zm3-2zm7-25zm18-8zm22 8zm33 28zm140-2zm131-22zm29 6zm15-8zm7-1zm49-3zm5 13zm16-1zm12 1zm2 2zm0-14zm6-1zm36 30zm29-11zm49 35zm-7-6zm-12 23zm-51-14zm-1 11zm-143-17zm-19 7zm-49-11zm-26-2zm-174 22zm-1-1zm-16-16zm-86-5zm-21 4zm-13 23zm-16-19zm-3-12zm-46 23zm0-9zm-6-3zm-4 14zm-9 0zm-41-27zm-24 28zm-2-5zm-54-2zm-40-11zm0 2zm-29 9zm-7 4zm-12-1zm-2-16zm-8 5zm-3 2zm-7 16zm-4-30zm-2 19zm-1 10zm-2-23zm-1 5zm-4-15zm-1 7zm-4 23zm-25-23zm-3 18zm-1-25zm-6 18zm12 48zm3-14zm1 0zm4 0zm4 0zm4-1zm1 9zm1-15zm4 17zm4 9zm2-9zm5 4zm16-18zm1 26zm10 2zm1-36zm2 0zm7 7zm27 21zm12-21zm30 4zm1 14zm27-27zm2 3zm1-3zm28 34zm8-21zm3 17zm3 3zm1-21zm3 20zm96-12zm22-14zm46 9zm4 0zm7-9zm5 4zm8 0zm42-2zm31 30zm17-12zm116-18zm87 2zm1 12zm49 16zm39-6zm36-5zm12 5zm19-32zm39 29zm44-19zm24-5zm10 1zm32 31zm6-9zm14-6zm11 4zm16 14zm-6 11zm-3 9zm-41 4zm-6-16zm-3 8zm-48 9zm-29 8zm-89-33zm-20 10zm-104 15zm-277-22zm-190 19zm-85-14zm-44 17zm-4 9zm-36-16zm-22-5zm915 37zm9-1zm12-2z" stroke="#06030c" stroke-width="18" stroke-linecap="round" fill="none"/>
<path transform="scale(.1)" d="M7534 2756zm45 12zm153 107zm14 75zm19 46zm109 37zm-74-9zm14 23zm35 16z" stroke="#06030c" stroke-width="15" stroke-linecap="round" fill="none"/>
<path transform="scale(.1)" d="M9558 3308zm2-11zm27-14zm6 10zm39-3zm18 29zm10-15zm100 13zm-9 33zm-55-23zm-32 17zm-35 8zm-58 7zm0-29zm-11 23zm-11-17zm-23-5zm-53 23zm43 14zm46-1zm20 10zm4 17zm12-14zm2 16zm26 1zm40-28zm28 10zm23-19zm16 36zm38-14zm-19 47zm-5-19zm-2 12zm-2-10zm-16 14zm-15-3zm-6 4zm-12 7zm-92-29zm-31 20zm-5-8zm-9 8zm-12-5zm102 29zm7 17zm35 6zm3-3zm25 16z" stroke="#06030c" stroke-width="20" stroke-linecap="round" fill="none"/>
<path transform="scale(.1)" d="M8790 2928zm83 60zm452-5zm-186 94zm59-33zm92 2zm150 61zm-42 8zm-58-26zm174 61zm59 2zm167 3zm-201 13zm116 60zm59 1zm24 34zm-58-17zm83 43zm75 26zm7 26z" stroke="#06030c" stroke-width="16" stroke-linecap="round" fill="none"/>
<path transform="scale(.1)" d="M7911 2598zm20-16zm1 0zm6 13zm20 2zm26-8zm89-19zm10 22zm6-18zm9 23zm30-21zm15 15zm14-14zm18 8zm25-9zm37 22zm28-23zm8 16zm2-11zm4-5zm1-4zm8 22zm1-14zm343 20zm91 18zm-5 16zm-3 2zm-48 0zm-19 1zm-8-26zm-26 27zm-52-3zm-18 1zm-11-20zm-39 2zm-1-17zm0 30zm-12-7zm-14-19zm-4 11zm-46 15zm-11-6zm-11-8zm-3 5zm-18 11zm-10-10zm-2 2zm-3-5zm-7 12zm-38-8zm-4 10zm-17-30zm-3 14zm-20 17zm-17-4zm-17-29zm-22 12zm-47 0zm-101-3zm-5-5zm-15-1zm-15 2zm-3 1zm-11-5zm-19 7zm-12 16zm-19-23zm-5 10zm-15 0zm-4 11zm-13 2zm-5-3zm-4-13zm-7-3zm-7 20zm-3-23zm-15-1zm-5 37zm-14-23zm0 13zm-5 8zm-4-14zm-15 2zm-7 1zm-11-17zm-11 26zm-1-7zm-39 6zm-7-4zm-3-6zm-3 5zm-11 1zm-18 9zm-183 40zm6-7zm19-3zm29-7zm24-1zm8-11zm26 19zm3-16zm1-1zm21 21zm8-23zm16 29zm19-16zm12-3zm9 11zm5-18zm5 20zm0-5zm4-5zm5 0zm16 3zm2-26zm47 19zm2-4zm501-10zm20 6zm4 8zm0 13zm16-20zm18 4zm6 19zm2-9zm4 5zm3-17zm3 2zm19 8zm2-8zm1-14zm4 26zm2-28zm10 27zm3-5zm0-6zm1 10zm12 10zm1-25zm3 17zm5-5zm7-14zm23-6zm16 3zm4 1zm12 1zm29 16zm4 1zm15-22zm17 2zm18 26zm36-28zm0 15zm3 12zm1-24zm27 0zm20 1zm3 24zm5-15zm12 6zm22 1zm20 12zm11-3zm1 46zm-6-30zm-20 19zm-12 4zm-78-30zm-12 1zm-17 31zm-14-18zm0-1zm-29 6zm-4 3zm-23-13zm-6 10zm-35-6zm-6 22zm-9-15zm-1 1zm-16 6zm-8-19zm-11 27zm-8-27zm-2-6zm-5 15zm-12 6zm-24-6zm-1-14zm-9 27zm-2-21zm-10 3zm0 9zm-6-20zm-739 18zm-5 0zm-6-17zm-1 20zm-2 3zm-13-5zm-13-11zm-31-3zm-25 4zm-8 15zm-37-21zm-13 32zm0-29zm-2 19zm-3 4zm-28-17zm-7 24zm-4-4zm-1-5zm-3-8zm-16 11zm34 22zm26-7zm0-1zm7 8zm3 6zm3-1zm44-12zm20-3zm891-2zm12 17zm8-17zm22 34zm1-12zm17 14zm11-4zm24-5zm11 10zm6-36zm0 4zm2 16zm14 7zm14-21zm2 2zm4-9zm10 14zm40 10zm1-12zm7 0zm4 13zm0-16zm14-6zm12 19zm13 3zm18-5zm8 1zm14 14zm5-5zm5-23zm10 7zm1 21zm4-23zm6-1zm47 52zm-33 3zm-13-25zm0 22zm-20-1zm-1 5zm-13-9zm-56 19zm-29-32zm-23 31zm-2-23zm-7 12zm-10-15zm-2 14zm-2-23zm-10 12zm-5 7zm-1-8zm-14-10zm-2 20zm-8 5zm-10-18zm-7 15zm-11-5zm56 29zm9 4zm10 7zm3 17zm9-37zm3 1zm3 35zm11-29zm1 23zm5 3zm4-20zm0 21zm2-11zm11 6zm20-6zm4-1zm2 12zm14-32zm51 9zm21-1zm6-2zm25 9zm9 35zm-39 22zm-15-5zm-14-17zm-6 24zm-24-21zm-19 20zm-6-12zm-9 2zm-8 4zm-2-22zm-5 18zm-14-20zm-4 11zm-13-16zm154 40z" stroke="#110823" stroke-width="17" stroke-linecap="round" fill="none"/>
<path transform="scale(.1)" d="M8823 2719zm1 25zm3 6zm1-7zm54 5zm16-22zm3 9zm1-6zm8-8zm21 31zm29-7zm17 13zm13-8zm13 7zm42-24zm48 11zm5 9zm0-5zm11 8zm2-24zm24 25zm71-7zm70 25zm-12 0zm-9-5zm-17 2zm-7 7zm-39 6zm-5 9zm-21-27zm-22-2zm-3 11zm-3 0zm-11 21zm0-21zm-36 23zm-8-30zm-17 18zm-38-18zm-7-3zm-15 28zm-40 3zm-3-11zm-5-8zm-11-2zm-7-4zm-2 20zm-5-5zm-13 1zm-2-25zm-2 30zm-11-32zm-2 13zm-2-2zm-6 24zm-1-4zm-428 1zm-73 46zm0-5zm21-11zm17-18zm17 9zm6-13zm20 3zm24 16zm41 19zm7-27zm296 25zm7 1zm16-7zm3-23zm8-6zm4 23zm19-2zm6-23zm11 11zm1 22zm2-27zm19-1zm3 7zm1 8zm2 11zm36-24zm19 6zm16 18zm29-7zm13-5zm10 12zm22-8zm16-3zm11 4zm37-8zm9 7zm19-20zm5 22zm5-4zm7 10zm1-29zm3 8zm6 10zm39-6zm7 24zm10-11zm8 3zm13-14zm31 20zm56-3zm2 1zm0-3zm18 1zm2-1zm51 15zm-8 8zm-37 12zm-9-6zm-17-4zm-37-13zm-3 7zm-11 3zm-7 24zm-24-14zm-1-4zm0 4zm-1-7zm-67-9zm-9 4zm-12 15zm-3-4zm-1 3zm-3-2zm-25-5zm-10-4zm-4 22zm-20-22zm-3-6zm-12 20zm-1-28zm-9 38zm-10-14zm-5-6zm-2 12zm-3 2zm-16-26zm-9 14zm-3 14zm-5-14zm-2-15zm-10 0zm-3 28zm-7-1zm-7-20zm-4 1zm0-7zm-2 29zm-5-9zm-8 5zm-17-28zm0 17zm-3 10zm-54-13zm-1 17zm-1-19zm-2-9zm-9 32zm-10-9zm-28 4zm0-13zm-8 13zm-14-2zm-9-1zm-12-10zm-8-19zm-11 9zm-148 18zm-22-19zm-13 28zm-2-14zm-1-4zm-5 9zm-6 8zm0-5zm-1-2zm-2 1zm-16-3zm-3-5zm-9 8zm-20-22zm-1-2zm-8 15zm-7 17zm0-14zm-3 11zm-27-13zm-3-21zm-2 27zm-5 5zm0-23zm-16-2zm-4 4zm-3 16zm-2-2zm-25 8zm-8 5zm-2-16zm-7-8zm-1 23zm-31-20zm-1 9zm-6-9zm-6 21zm-2 34zm17-4zm1-10zm1-9zm6 21zm3 1zm8-3zm11-27zm8 4zm5 31zm32-26zm0 6zm6 19zm7-34zm0 1zm14 26zm6-11zm19 10zm1 2zm2-2zm13 9zm1-16zm4-17zm3 24zm1-16zm9 9zm7-11zm3 0zm11 18zm7-21zm2 20zm7-9zm7 18zm9-22zm17 5zm1-3zm6 23zm10-7zm5-15zm31 15zm1 3zm3 4zm7-32zm17-1zm31 21zm12-4zm74-23zm144 5zm39 9zm3-10zm12 9zm29-2zm73-11zm7 3zm32 1zm11 4zm35 0zm28 18zm1-4zm5 15zm21-28zm25 20zm0-6zm9 5zm14 1zm27-8zm29 0zm25-11zm53-2zm0-6zm21 34zm47-9zm76 45zm-8 6zm-35 0zm-12-17zm-2 8zm-4-22zm-30 0zm-16 24zm-14-28zm-24 15zm-64-6zm-6 25zm-15-22zm-7-8zm-8 28zm-16-21zm-22 8zm-7-15zm-51-1zm-34 11zm-465-12zm-8-1zm-2 23zm-24 7zm-4-3zm-8 6zm-2-27zm-7-7zm-6 21zm-9-6zm0 8zm-24-5zm-4-15zm-20 26zm-2-18zm-27 17zm0-25zm-15 3zm-1 1zm-4 27zm-5-22zm-3 14zm-4 9zm-7 1zm-3-15zm-3-11zm-5 5zm-2 20zm-1-38zm-1 37zm-29-31zm-9 20zm-12-8zm-8-16zm-12 33zm-16-20zm-6 12zm-8 1zm0-20zm0 12zm-7 9zm-1-25zm-13 26zm-9-5zm-2-15zm-5 4zm-5-4zm-20 5zm0-12zm44 46zm51 6zm15 0zm17 9zm9-15zm5 13zm14-10zm5-2zm14-1zm13 11zm0-17zm13 28zm1 4zm2 2zm4-8zm5 9zm20-34zm1 1zm5 8zm17-13zm0 32zm13-3zm5-8zm18 15zm6 0zm1-26zm12 22zm28-23zm539 0zm25-1zm1 7zm10-12zm4 2zm5 25zm1-13zm95-17zm0 28zm33-2zm44 2zm18-2zm0 4zm3 4zm9-14zm9-4zm19 12zm1-26zm1 26zm7-27zm9 9zm5 15zm3-20zm4 32zm14-2zm3-15zm10-15zm14 19zm37 6zm7-9zm41 45zm-19-13zm-3 20zm-1-11zm-4-7zm0 23zm-2 1zm-1-23zm-1 16zm-16-16zm-1 0zm-7 6zm-54-15zm-22 22zm-9 5zm-29-7zm-13 5zm-12 3zm-23-10zm-11-1zm-7-5zm-828-10zm-4 1zm905 37zm30 12zm4-6zm4 10zm9-14zm42 27zm40-26zm4 21zm4 4zm1-30zm13 20zm16-6zm19-16zm2 36zm5-21zm3-10zm21 2zm3-1zm43 6zm8 6zm21 18zm51 26zm-52-10zm-28 14zm-9-4zm-15-22zm-8 12zm-3 22zm0-16zm-6-8zm-4-7zm-2-5zm-6 17zm-24 5zm-37 14zm-7-27zm-6 2zm-12-2zm-21 25zm-1-28zm-8 0zm48 46zm80 9zm17-3zm2 19zm57-21zm8-1zm1 4zm0 2zm16 4zm4 5zm2-1zm13-25zm17 24zm3-14zm62 23zm0-11zm6 16zm0 8zm-27-10zm-8 4zm-4 30zm-9-18zm-20 8zm-13-24zm-14 9zm-97-10zm152 57zm46-8zm14 17zm29-12zm2-12zm92 67zm-54-28zm-7-1zm-3 9zm-28 7zm-6-15zm-6 16z" stroke="#110823" stroke-width="19" stroke-linecap="round" fill="none"/>
<path transform="scale(.1)" d="M8096 2623zm-12 2zm-9-2zm-27 15zm-5-15zm-18 5zm-17-2zm-40 8zm-164 37zm7 7zm6-12zm14 7zm2-6zm6 9zm7-18zm33 8zm2-17zm3 10zm10 10zm2-1zm1-4zm22-18zm15 24zm20-22zm63-5zm60 4zm-276 45zm-29 4zm-1-16zm-16 6zm-41 7zm-4 18zm-2 2zm-1 0zm-20 1zm-14-1zm-13-1zm-17 2zm-17 3zm-6-1zm2 24zm13-19zm797 14zm66 24zm55 36zm-5 2zm-1 1zm-10-16zm-28-6zm-2-3zm-2 1zm13 28zm9 2zm19 11zm11-9zm22 1zm5 19zm85 44zm-1 4zm-3-10zm-1 8zm-3-9zm-30-19zm-4-4zm-1 4zm-10 22zm-18-18zm-9 2zm52 49zm15-12zm64 2zm5-3zm20 8zm11-5zm1 2z" stroke="#110823" stroke-width="18" stroke-linecap="round" fill="none"/>
<path transform="scale(.1)" d="M8201 2626zm-16-1zm-31 6zm-23 5zm-25-20zm-20 7zm-28 10zm-51 4zm-1-10zm-1 6zm0-7zm-9 13zm-1-6zm-6-2zm-28-13zm-4-5zm-19 3zm-54 15zm-23 8zm-16 0zm-155 38zm11-10zm1 9zm21-6zm7 3zm30 4zm7-2zm1-18zm2 1zm4 4zm1 13zm33-14zm21 1zm20-15zm4-4zm6-1zm2 25zm2 10zm1-33zm1-1zm3 31zm1-9zm1-3zm6-20zm5 28zm2-9zm16 3zm2-1zm10 14zm7-34zm4 23zm4 8zm3-7zm1 9zm9 0zm35-20zm0-14zm24 20zm1 2zm4-8zm2 10zm6 11zm0-11zm0-5zm3-20zm1 31zm0-29zm2 27zm4-2zm2 5zm2-9zm2-3zm3 7zm12-14zm9 25zm2-14zm0-16zm2 28zm2 1zm27-36zm17 29zm23-20zm55 27zm21-32zm1 0zm25 26zm2-11zm7 14zm5-5zm42-1zm26-8zm42 6zm118 50zm-70-10zm-5 4zm-54-15zm-10 16zm-47-17zm-9 17zm-2-26zm-39 6zm-4 0zm-8-3zm0-3zm-4 17zm0 9zm-8-16zm-2-15zm-1 4zm-1 12zm-11-9zm-2 23zm-6-21zm-28 20zm-6 8zm-10-32zm-3 30zm-17-4zm-7-9zm-8-14zm-7-4zm-7 10zm-2 9zm-19 9zm-4-18zm-3-6zm-15-2zm-5 20zm-3-9zm-12 10zm-4-18zm-7-9zm-4 10zm-4 7zm-21 14zm-4-24zm-7 1zm-12 20zm-8 5zm-1-5zm-8-11zm-10 19zm-70-6zm-6 8zm-2-21zm-10 13zm-2-28zm0 22zm-8-22zm-5 12zm-13 7zm-14-14zm-1 21zm-4-19zm-16 1zm-13-10zm-13-1zm-4 16zm-8-7zm-9 29zm-1-28zm-3 0zm-12-8zm-19-1zm-16 0zm-3 13zm-8 24zm-2-23zm-4-14zm-1 28zm-2-15zm0 2zm-1 16zm-1-12zm-10 2zm0-12zm-1 19zm0-5zm0-1zm-10 4zm-3 9zm-10-6zm-1 5zm-6 2zm-98 1zm-3 5zm14 3zm3 16zm22 13zm12-9zm11 11zm9-3zm6-1zm19-29zm1 9zm4 19zm14-5zm3-9zm1-4zm1 19zm13-7zm15 8zm2-28zm10 22zm22-13zm1 13zm8 10zm4-12zm0 9zm4-4zm0-14zm4 16zm0-2zm2-11zm2 11zm8-6zm9-14zm16 28zm2-26zm4 22zm6 1zm6-1zm1-3zm1-11zm9 12zm4-14zm8 8zm16 3zm5-19zm2 27zm9-31zm2 10zm0 13zm4 0zm20-25zm35 5zm6 6zm18 14zm33-26zm2-1zm11 4zm0 6zm9 18zm2-18zm1 22zm1-24zm18 7zm0-3zm8 24zm5-20zm1 2zm10-13zm14 13zm2 11zm2-10zm5-22zm2 24zm10 15zm13-34zm10-4zm28-1zm18 23zm4 6zm1-20zm5 23zm2-24zm3 15zm0 13zm5-25zm10 22zm2 3zm2 1zm0-2zm3-5zm7-2zm2 10zm11-20zm5 21zm2-22zm1 5zm1 12zm8-11zm2 15zm14-1zm1-37zm42 20zm13-1zm8-5zm3 18zm59-2zm54 5zm2-1zm5-15zm10-18zm1 32zm23 3zm42-27zm97 69zm-30-2zm-3-16zm-12-4zm-9 9zm-2 1zm-7-5zm-9 13zm-23 1zm-16-31zm-4 30zm-1-3zm-14 3zm-7 1zm-23-6zm-2 1zm-4-15zm-18-7zm-7 2zm-23 24zm-4-11zm-36 3zm-7-4zm-4 13zm-8 1zm-4-19zm-6 0zm-9 6zm0 9zm-2-12zm-23 18zm-40-5zm0-1zm0-6zm-2-15zm-6 9zm0 18zm-6-29zm-10-6zm-4 1zm-4 9zm-25 9zm-1-16zm-11 1zm-4 9zm-2 2zm0-16zm-13 13zm-11-2zm-15 10zm-7-9zm-14 17zm-1-12zm-2 3zm-5-5zm-8-16zm-2 24zm-2-6zm-9 12zm-4 1zm-3-29zm0 32zm-6-25zm-3 6zm-3-5zm0 28zm-58-31zm-6 10zm-9 4zm-44 14zm-2-7zm-4-5zm-1-9zm-11 4zm-10-12zm-1 18zm-3-10zm-3 19zm-2 0zm-4-6zm-10-3zm-4-12zm0-1zm-3 8zm-2 2zm-4-12zm-3 8zm0-4zm-5 10zm-3-16zm-16-5zm-1 20zm-1-22zm-3 32zm-3-25zm0 17zm-9-4zm-6 12zm-6-28zm-8 9zm-13-5zm-3-2zm-10 16zm-1-13zm-7-10zm-10 23zm-14-10zm-13-10zm-43 17zm-4 7zm-6 3zm-12-15zm-5 3zm-25-12zm0 12zm-11-16zm-30 7zm165 38zm31 15zm10-18zm12 12zm13 8zm4-23zm11 11zm48 11zm7-22zm4 4zm5-2zm6 18zm9-18zm13 34zm0-16zm11 1zm3 0zm0 13zm7-14zm0-15zm3 14zm12-14zm4 4zm19 19zm0-2zm9 2zm1-17zm1 17zm2-16zm2 1zm5 21zm3 0zm21-20zm9 2zm3 3zm3 13zm8-1zm2-31zm12 27zm0-5zm1-10zm1-12zm3 13zm0 3zm1-1zm1 16zm7-13zm9 2zm2 18zm17-12zm62 5zm15 4zm8-2zm17-26zm12 30zm2-1zm20-34zm3 32zm10-4zm1 1zm18-2zm32-7zm7-4zm8 20zm5-37zm17 15zm0-15zm5 16zm11 8zm1-13zm3-12zm18 34zm27-32zm19 0zm0-1zm10 20zm3-8zm3 14zm4-12zm5-12zm2-4zm4 6zm4 8zm3-10zm1 35zm6-16zm0-2zm1 2zm7-18zm2 15zm1-14zm0 22zm6-21zm7-4zm2 27zm1-30zm5 17zm4 19zm0-14zm2-1zm1-8zm9 17zm5-25zm3 12zm3 13zm3-6zm3-24zm3 39zm19-11zm4 11zm1-16zm4-14zm0 9zm11-17zm30 32zm9-5zm2-3zm8 12zm54 0zm58 41zm-2 0zm-6-13zm-3 3zm-20-17zm-6 5zm-2-10zm-1 18zm-3 15zm-1-19zm-1-4zm-1 21zm0-28zm-10-3zm-10 17zm-1 10zm-2-28zm-2 34zm-2-6zm-14-29zm-7 4zm-1 2zm-7 20zm-2-7zm-4-15zm-1-1zm-1 15zm-3 16zm-3-32zm-6 25zm-2-29zm-20 6zm-8 26zm-3-19zm-5 5zm-1-12zm-2 30zm-16-8zm-14-22zm-46 20zm-7 7zm-14-5zm-11-28zm-2 12zm-6 21zm-26-30zm-10 17zm0-19zm-13 2zm-1 10zm-1-5zm-1-1zm-10-1zm-4-1zm-44 29zm-14-31zm-23-4zm-69 6zm-15 27zm-25 2zm-6-5zm-2-26zm-3 24zm-3-10zm-6-13zm-1 24zm-9-1zm-11 6zm-18-3zm-45-1zm-11-16zm-17-15zm0 35zm-8-30zm-2 23zm-5-28zm-7 0zm-13 36zm-7-16zm-2 3zm-8-2zm-3 15zm0-33zm-5 27zm-5 9zm-4-18zm-5 18zm-8-7zm-2-2zm-2-25zm-4 23zm-53 4zm-1-26zm-8 1zm-36 24zm-7-28zm-6 28zm-10-7zm-13 3zm-90-27zm-19 32zm34 13zm22-3zm9 11zm14 13zm38 9zm17-23zm5 2zm21 13zm9-13zm21 21zm0-26zm4 17zm3-2zm8-13zm9 2zm16-1zm4 27zm10-31zm0-5zm17 14zm3-16zm9 0zm12 8zm19 0zm17 23zm27-22zm5 1zm3-7zm7 13zm27 16zm35 4zm4-25zm18 15zm10 8zm29-5zm0 1zm4-31zm13 20zm102-7zm12 3zm19-16zm22 27zm21-8zm5 20zm8-13zm4 0zm36 5zm22-27zm5 7zm31 11zm9-9zm4-8zm0 9zm10 17zm4 8zm16-39zm2 32zm8 0zm1 5zm1-2zm8-1zm4-23zm6 23zm4-4zm3-16zm9-7zm1-3zm8 26zm0-29zm6 37zm20-30zm20 10zm7-9zm20 2zm5 21zm5-7zm3-12zm4 9zm2 4zm1-4zm4-4zm2-13zm16 0zm3 22zm3-22zm3 13zm3-2zm8 14zm25 38zm-1-13zm-8 8zm-7-8zm-7 11zm-4-24zm0 3zm-31 9zm-58 19zm-13 2zm-30-32zm-1 9zm-3 20zm-3 7zm-7-35zm-50-1zm-40 10zm-25 9zm-6-7zm-13-13zm-27 18zm-44 1zm-23-4zm-24-2zm-10-14zm-37 12zm-22 15zm-57-15zm-50 6zm-20 9zm-16-25zm-10 24zm-4-2zm-24-11zm-15-10zm-15 8zm-42 26zm-26-11zm-49-13zm-2 7zm-3 13zm-27 4zm-56-10zm-33-12zm-4 22zm-12-14zm-11 10zm-29-31zm-25 29zm-10 10zm98 23zm12-10zm11 1zm14-4zm33-10zm462 0zm51 0zm198 21zm10-13zm5-10zm9 7zm16 12zm3-13zm17 18zm10-15zm4-2zm8 6zm3 9zm7 12zm5-8zm7-8zm4-9zm4 6zm5 11zm2-15zm-57 30zm-869 16zm-18 5zm-3-7zm-21 8z" stroke="#110823" stroke-width="18" stroke-linecap="round" fill="none"/>
<path transform="scale(.1)" d="M8427 3140zm11-7zm147 0zm66-8zm8 11zm685 53zm-744 0zm-8 2zm-41-18zm-10 23zm-11-11zm-27-23zm-19 3zm-92 27zm1074 30zm72 17zm107 39zm-80-20zm-13-5zm-3-4zm-5 11zm-91 12zm-27-27zm-10 33zm-16-32zm-1 32zm-46 35zm124-21zm41 18zm16-8zm1 7zm12-28zm15 10zm3 20zm21-12zm48 6zm26-4zm74 6zm28-3zm65 41zm-49 0zm-12-22zm-40 6zm-14 7zm-29-5zm-57 16zm-5-20zm-47-5zm-1 0zm-4 19zm-2 8zm-7-27zm0 35zm-95-22zm-63 13zm-35-12zm-3-8zm-67 52zm16 10zm4-7zm73-8zm4 0zm5-9zm109-4zm13 29zm2-8zm1 0zm3 6zm30-9zm8 16zm36-21zm2 4zm142 10zm11 6zm31 1zm20 5zm-8-1zm-14 17zm-22-7zm-10 6zm-14 2zm-96-8zm-78 22zm0-19zm-7 6zm-2-7zm-402 21zm-218-28zm-769 28zm-4 5zm62 20zm1392 12zm22 2zm38 2zm31-5zm7-11zm81 2zm26-1zm-4 21zm-66 9zm-2 11zm-4 8zm-9-20zm-10-5zm-21 30zm-7-24zm-4 29zm-38-38zm-28 7zm-4 5zm-11-7zm-1236 12zm-56-2zm-21-15zm1401 51zm7-11zm8 24zm124-6z" stroke="#110823" stroke-width="20" stroke-linecap="round" fill="none"/>
<path transform="scale(.1)" d="M8229 2579zm-246 25zm780 75zm2-6zm17 12zm-208-2zm224 69zm40 46zm-22-36zm-53 11zm8 66zm51-27zm0 11zm-62 44zm17 14z" stroke="#1d0c3a" stroke-width="17" stroke-linecap="round" fill="none"/>
<path transform="scale(.1)" d="M8900 2712zm-76 38zm31-26zm11 25zm14 3zm9-23zm9 5zm1 25zm31-24zm1 4zm23 3zm168-1zm2 5zm33 12zm16-2zm25-17zm4-3zm39 20zm41 18zm-46-3zm-3 1zm-17 1zm-5 6zm-7 14zm-8-15zm-2-4zm-26-11zm-49 4zm-16 10zm-19 6zm-4-11zm-18 21zm-5-1zm-8-25zm-7 2zm-9 0zm-11 23zm-13-9zm0-4zm-16-17zm-27 35zm-8-15zm-5-17zm-3 31zm-20-19zm-15 8zm-7-11zm-3 16zm-2-17zm-3-1zm-5 7zm-36 19zm-2-12zm0-1zm-22 4zm-16-10zm-3-15zm-20-1zm-318 18zm378 44zm14-14zm1-1zm0-2zm4 2zm9 20zm3-22zm23-3zm1 9zm6 1zm4 0zm4 17zm1-13zm19 17zm6-23zm10 15zm10-13zm0-10zm26 34zm83-30zm10 25zm10-33zm5 34zm4-11zm13-10zm2-3zm3-9zm0-1zm2-1zm3 2zm4 31zm31-25zm17 26zm3 5zm5-2zm8-33zm19-2zm24 34zm55-16zm65-4zm8 13zm7 2zm6-5zm71 50zm-17-3zm-8-21zm-10 19zm-13-3zm-15 4zm-1-17zm-35 20zm-1-30zm-28 24zm-19-19zm-5 3zm-4 19zm-5 4zm-4-5zm-18-23zm-57 8zm-4 2zm-9 2zm-4-15zm-1 27zm-8-1zm-17-19zm-13-10zm-43 13zm-6 22zm-10-6zm0-29zm-21 34zm-13-22zm-9 18zm-8-13zm-19 18zm-2-8zm-1-15zm-4-9zm-19 33zm-49-12zm-15-2zm-9 10zm-1 4zm-16-20zm-27-1zm-3-3zm-5 10zm-2-5zm-5-6zm-3 2zm-15 9zm-13-22zm-441 32zm6 41zm25-5zm275-30zm119 5zm86-2zm80-1zm7-2zm6 0zm15 8zm51 7zm23 7zm1-18zm4-3zm4 0zm23 7zm24 0zm23-4zm11 8zm1 6zm7 1zm1-2zm28 6zm6 6zm2 3zm4 4zm7 0zm16-9zm8 7zm15-31zm34 22zm2 3zm5-1zm29 1zm24-19zm2 24zm6-12zm2-8zm0 15zm30-9zm9-1zm14-18zm6 15zm13 22zm7-35zm1 12zm26-2zm27 22zm12-28zm93 57zm-4 9zm-15-10zm-19 7zm-8-11zm-44-13zm-25 13zm-7 15zm-43-3zm-57-30zm-1 14zm-25 23zm-1-18zm-13-1zm-1 13zm-6-25zm-5 21zm-22-20zm-8-6zm-31 38zm-29-25zm-583 7zm-161 5zm-58 4zm-7 1zm-13-7zm31 48zm7 2zm0-33zm7 12zm19 22zm0-25zm5 18zm2 10zm5-14zm101 1zm8 5zm692-15zm14-4zm11 13zm5-18zm17 24zm22-27zm5 24zm20-2zm18-14zm9 5zm69 11zm6-24zm7 8zm1 24zm5-21zm5 18zm11-18zm2 17zm18-28zm50 27zm5-29zm9 8zm8 20zm3-21zm10 18zm7 3zm56-4zm15 12zm15 26zm-13 8zm-3-4zm-1 1zm-7 5zm-6 1zm-2 2zm-10-2zm-2-6zm-1 5zm-32-11zm-19-17zm-19-2zm-6 19zm-5 3zm-11-6zm-12-6zm-3 24zm0-25zm-23 5zm-13 6zm-5-14zm-1-2zm-1 0zm-3-1zm-6 15zm-888-18zm-17 12zm-31-10zm-31 4zm-17 9zm-25-17zm1013 40zm9 5zm12 12zm4 8zm9 8zm20-7zm11-19zm26-3zm63 30zm6-4zm4-10zm29 0zm3-5zm5 4zm3 14zm2-11zm60-5zm2-9zm19 8zm29 52zm-11-10zm-16-1zm-5 14zm-25-8zm-1-2zm-5 11zm-4-19zm-1 15zm-3-25zm-7 8zm-3 4zm-3-9zm-42-5zm-1 10zm-1 21zm-6-18zm-39-11zm-16 8zm-3 17zm-10-6zm-11-15zm-11-5zm-23 6zm141 38zm35 29zm4-21zm3-2zm37-4zm12 4zm4 9zm34 5zm8 7zm21-25zm5 18zm18 9zm12-12zm6 5zm9 3zm4-10zm18 6zm44 29zm-22-3zm-3 13zm-7-16zm-15 6zm-5 11zm-41-2zm-2-7zm-35-4zm-27 2zm70 28zm33 7zm14-3zm1-1zm29 11zm7-9zm14 8zm21 5zm0 13zm16-30zm36 50zm-5 10zm-3-5zm-81-9zm-3-12z" stroke="#1d0c3a" stroke-width="19" stroke-linecap="round" fill="none"/>
<path transform="scale(.1)" d="M7802 2679zm22-8zm9 6zm13-17zm4 14zm-88 24zm-12 11zm-24-11zm901 156zm21 27zm50 8zm1-5z" stroke="#1d0c3a" stroke-width="18" stroke-linecap="round" fill="none"/>
<path transform="scale(.1)" d="M7764 2673zm5-3zm3-5zm7 14zm97-17zm19 12zm9-16zm44 11zm20 9zm27-7zm205-12zm140 8zm-120 48zm-174-13zm-4-10zm-28 21zm-9-22zm-22 24zm-7-12zm-5 6zm0-26zm-34 34zm-5-24zm-2 17zm-48-21zm-3 29zm-4-7zm-4 1zm-10 7zm-1-28zm-1 1zm-11 24zm-2-23zm0 2zm-25-10zm-24 14zm-19-9zm-22 27zm-6-2zm-10-24zm-1 20zm-6-21zm-12 7zm-11-9zm-42 14zm-4 6zm11 24zm35-2zm43 13zm21-23zm21 4zm6 3zm18 12zm9-9zm3-1zm8 18zm26-18zm34 8zm1 19zm12-10zm15 1zm17-1zm32-17zm8 11zm33-6zm73-11zm-485 55zm339 52zm120 5zm232 0zm31-6zm45 7zm79 2zm24-3zm8-11zm11 13zm120 35zm-40-4zm-8 10zm-42-1zm-15-8zm-6 4zm-2 4zm-1-16zm-16-4zm-13 8zm-5 6zm-6 6zm-16-20zm-31 8zm-25 13zm-66-31zm-21-5zm-25-2zm-2 9zm-21 0zm-30 5zm-6 14zm-2-9zm0 15zm-2-16zm-3 12zm-2-26zm0 34zm-9-24zm-5 0zm-2 12zm-6 0zm-1-24zm-14 18zm-1-11zm-22-3zm-21 22zm-78 22zm1 15zm4-6zm91 15zm6 4zm3-9zm68 2zm16 2zm1-6zm4-2zm1-10zm11 6zm95-9zm22-12zm3 15zm3 12zm7 8zm13-2zm2-7zm7-20zm5 8zm13-3zm2 0zm6 2zm18 11zm34 2zm28-24zm22 13zm18 19zm3-10zm10 6zm13-10zm22 10zm6 8zm2-29zm1 25zm1-1zm3-15zm7-3zm32 21zm80 41zm-19-9zm-34 5zm-19 3zm-5-2zm-9-3zm-9 1zm-14-8zm-2 9zm-2 4zm-1-21zm-8 14zm-1-1zm-4-18zm-14 19zm-1-20zm-31-8zm-34 17zm-1-15zm-47 21zm-5-24zm-4 2zm-5 31zm-7-32zm-12 24zm-30 12zm-2-24zm-40 6zm-5 15zm-48-20zm-17 5zm-1 11zm-52-17zm-18-5zm0 8zm-82 14zm-6 5zm-5-12zm-15 15zm-6-2zm-75-3zm-77 5zm-2-4zm-142 37zm11-2zm5 2zm17-2zm10 0zm1-5zm25-14zm4 5zm4 8zm25 1zm20-12zm9-8zm24 14zm1-14zm209-1zm112 1zm113-2zm19 5zm13-8zm33 13zm1-9zm70-4zm17 16zm1 5zm3 6zm3-14zm3-9zm88 28zm0-7zm23-8zm3 13zm7 3zm47 2zm-77 6zm0 2zm-831 17zm-11-14zm-6 13zm-8-10zm-11 12zm42 22zm5 16zm0-16zm636 48zm-9 4zm-5 3zm-199 4z" stroke="#1d0c3a" stroke-width="18" stroke-linecap="round" fill="none"/>
<path transform="scale(.1)" d="M9045 3035zm-148-17zm-92 18zm-39-24zm-30-1zm-9 25zm-14-18zm25 25zm286 22zm27-2zm41 51zm-297-17zm-34-17zm-20 37zm-92-8zm-14-4zm-165 12zm-132 18zm39 13zm71-18zm1 8zm4 1zm3-19zm55 37zm40-19zm16-8zm6 12zm1-11zm6-4zm18-3zm24 17zm56-8zm24 25zm38 0zm278-23zm10-11zm36 32zm91-19zm5-11zm90 26zm32-4zm141 43zm-62-19zm-20 14zm-21-14zm-30 13zm-16 3zm-17 2zm-8-16zm-4 21zm-36-33zm0 7zm-1 25zm0-19zm-54 18zm-52-6zm-111-23zm-5 34zm-37-25zm-211 21zm-11 5zm-15-15zm-20-23zm-7 10zm-1-11zm-3 35zm-20-8zm-5 10zm-31-32zm-16 21zm-5-17zm-4 19zm-6-16zm-8 1zm-77 6zm-91 5zm-22-5zm-103 16zm33 23zm10 20zm7-20zm2 4zm1-2zm116 12zm22-32zm29 28zm7-28zm17 3zm8 11zm2 19zm2-4zm59-24zm29 5zm12-10zm60 4zm1 11zm138 23zm31-38zm15 37zm112-9zm18-18zm88 27zm37 0zm135-3zm26-14zm36 19zm11-33zm53 25zm17-5zm13 10zm19-7zm30 9zm47-8zm113 42zm-10 5zm-89-6zm-12 4zm-12-19zm-6 19zm-2-10zm-25 6zm-2-10zm-19 13zm-151 4zm-10-26zm-14-5zm-3 31zm-127-20zm-21-3zm-87 6zm-136 18zm-45-16zm-8 8zm-77 7zm-30-9zm-12-29zm-17 34zm-12-2zm-8 6zm-28-30zm-13-4zm-62 24zm-10 1zm-37-26zm-11-3zm-22 25zm-10 0zm-2-10zm-10-8zm-2 8zm-7 13zm-17-20zm-14 5zm-10 14zm-57-6zm-84-8zm-7 8zm-37 7zm-34 38zm34-22zm14 9zm10 18zm4-1zm56-19zm138-6zm3 26zm103-26zm11 23zm41-19zm29-5zm9 14zm86 6zm9-7zm15 12zm3-14zm8 20zm14 3zm86-1zm36-16zm21-20zm1 34zm161-6zm13-17zm5 19zm16-8zm8-4zm25-2zm0 7zm2-3zm123-19zm9 15zm12 16zm32 2zm19-7zm18-24zm13 30zm1-14zm28-8zm40 2zm17 9zm3-5zm13-5zm11 8zm27 6zm5-22zm14 8zm11-4zm33 25zm26-9zm13 6zm145 15zm-13 25zm-15-2zm-31-2zm-3 12zm-4-30zm-23 13zm-19-17zm-27 21zm-80 0zm-19 12zm-2-22zm-11-2zm-32 1zm-7-11zm-50 35zm-7-13zm-4 5zm-2 0zm-3-13zm-60-9zm-5 29zm-99-19zm-75-2zm-82-1zm-101-5zm-25-7zm-7 2zm-72 29zm-4 0zm-11-31zm-4 3zm-15 7zm-3 10zm-90-15zm-16 11zm-42 17zm-46-3zm-49-19zm-37 10zm-9-19zm-132 14zm-3 11zm-39 1zm-22-32zm-21 39zm-45-13zm-87-18zm-75-2zm-16 25zm-43-20zm-24 26zm-18 17zm6-7zm7 14zm12-7zm71-14zm38 18zm21-1zm65 12zm23-5zm77-3zm262-2zm2 19zm33-32zm54 22zm21 1zm79 10zm5-15zm10 10zm17-20zm0-5zm27 25zm36-27zm23 2zm28 22zm83-11zm2 3zm69 10zm30 4zm36-12zm5 6zm5-26zm3 24zm6-9zm0 18zm58-24zm19 1zm63-2zm9-12zm91 13zm11-9zm22 6zm51 19zm39-7zm56-22zm73 22zm7-21zm6 18zm24 18zm36-28zm13-8zm22 26zm11 13zm-8 8zm-1-8zm-25 34zm-9-18zm-8-12zm-2 22zm-5 5zm-70-26zm-2 13zm-3 15zm-109-11zm-9-12zm-373 4zm-72 5zm-6 15zm-3-7zm-17-28zm-37 25zm-17 0zm-2-9zm-1 12zm-8-10zm-3-3zm-65 3zm-4-9zm-63-8zm-12 6zm-50 3zm-7-5zm-9 18zm-1-2zm-55-17zm-26 4zm-60 2zm-8-6zm-15 33zm-139-32zm-23 30zm-27-16zm-12 19zm-32-8zm-34 6zm-33-8zm-16 3zm-20-18zm-39-7zm-20-3zm-8 26zm-13-1zm-12 9zm-7-25zm-93-3zm-3 15zm65 50zm13-5zm5-2zm4-21zm5 29zm4 1zm53-3zm71 2zm13-29zm20 26zm2-29zm2 28zm3-4zm7-3zm17 8zm49-1zm33-17zm35 16zm69 7zm5 1zm0-24zm62-5zm12-5zm13 9zm899 11zm8 6zm12 3zm37-27zm4 2zm5 28zm8-28zm17 13zm2-2zm8 17zm63 2zm29-9zm35-3zm-61 39zm-13 8zm-35-17zm-18 0zm-49-9zm-5 0zm-35 1zm-8 1zm-1016 3zm-12-3zm-12 15zm-11-10zm-47 12zm-137-14zm0 13zm-23-23zm-46 26zm-9-26zm-13 5zm-6 31zm-12-26zm-42-9zm267 55zm11 8zm6-7zm1-8zm1168 4zm7 20zm14-21zm112 6zm17-3zm24-8zm16 26zm-46 13z" stroke="#1d0c3a" stroke-width="20" stroke-linecap="round" fill="none"/>
<path transform="scale(.1)" d="M7819 2622zm773 48zm216 47zm-8-11zm-14 25zm3 21zm4-27zm28 12zm15 13zm-37 25zm-5 13zm-8-11zm-16 56zm63-7zm-66 20zm-5 1zm996 507zm-15 17zm7-6zm8 2zm14 5zm2-4zm2-2zm11 6zm16 25zm14-2zm17 36zm-9 4zm-14-27zm-1 2zm22 33zm0 26zm7-7zm5-2zm3 7zm10 34zm0 3zm-2 0zm-8-2zm9 41zm6-8zm6 10zm5-14zm-7 48zm-8-15zm-1 7zm-4-7z" stroke="#2d124d" stroke-width="17" stroke-linecap="round" fill="none"/>
<path transform="scale(.1)" d="M9025 2718zm-2 1zm-217 35zm43-34zm45 17zm0-16zm6 22zm6-3zm37 15zm18-14zm23 13zm9-8zm1 10zm15-24zm18-2zm6 12zm2 6zm54 6zm8-19zm8 23zm4-6zm14 7zm12 0zm14-5zm11-7zm9 3zm1-14zm78 7zm-24 33zm-5 0zm-22-12zm-15 6zm-48 25zm-4-1zm-33-23zm-20 11zm-38 2zm-77-14zm-23 17zm-2 3zm-1-12zm-21-4zm-4 19zm-30-7zm-4-8zm-5-1zm-9-17zm0 11zm-53-10zm-6 18zm-240 60zm251-32zm22 18zm17-15zm10-8zm21-2zm12 21zm35-2zm6 5zm20 15zm21-36zm47 23zm4-22zm17 14zm28 0zm4 9zm10 1zm12 8zm18-30zm28 3zm35-9zm81 34zm32-9zm1-18zm20 23zm80 9zm88 37zm-29-13zm-6 8zm-49-5zm-2-19zm-55-3zm-20-4zm-16 21zm-18 1zm-47-22zm-1 20zm-55 0zm-4-6zm-12 18zm-26-32zm-39 31zm-7-24zm-9 6zm-4 21zm-6-1zm-5-14zm-34 2zm-3-11zm-15 20zm-1 3zm-4-33zm0 13zm-3-6zm-9 3zm-55 3zm-9 14zm-16-24zm-10 25zm-8-17zm-6 20zm-5-9zm-10 4zm-20 1zm-4-19zm-13 15zm-11 3zm-422 13zm115 7zm71 18zm98 0zm192-16zm23 2zm64 0zm26 8zm38-12zm28-5zm103 13zm14-7zm15 8zm5-3zm7 19zm11 7zm9-10zm33 0zm1 7zm5-7zm18 2zm20 3zm5 5zm11-19zm14-8zm22 6zm0-7zm4 1zm1 16zm13-14zm36-6zm128 23zm87 42zm-91 0zm-26-18zm-2-13zm-28 29zm-48 2zm-4-25zm-34-3zm-14 2zm-50 28zm-55-20zm-649 3zm-178 38zm49 23zm51-3zm770-33zm44 34zm45-27zm41 13zm28-10zm33 17zm33-4zm11 5zm9-1zm29-23zm38 33zm18-31zm20 19zm4 1zm80 43zm-30-14zm-36 14zm-71-17zm-23 2zm-1-8zm0 30zm-9-17zm-13-17zm-7 14zm-17-14zm-1 22zm-5-25zm-8 18zm-30 12zm-896-10zm-17 0zm-38-8zm-2 7zm-77-17zm1081 54zm1-1zm32 18zm5-5zm5 5zm7-9zm3-22zm13 16zm63 13zm4-3zm46-22zm12 6zm2-2zm11 20zm2 4zm1-6zm4-14zm6 20zm39 20zm-15 21zm-10-17zm-8-1zm-1 19zm-30 1zm0-37zm-5 38zm-32-32zm-14-1zm-4 3zm-4 5zm-5 4zm-22 19zm-45-13zm160 39zm2-13zm3 20zm20-30zm0 4zm11 14zm5 11zm15-21zm3 30zm32-19zm5-2zm2 3zm35-20zm12 39zm45-8zm46 40zm-2-8zm-45-20zm-10 15zm-2 19zm-8 2zm-9-1zm0-24zm-74 1zm124 60zm3-24zm5-1zm16 26zm18-7zm4 4zm28 6zm42 8zm-78 7zm-21-7z" stroke="#2d124d" stroke-width="19" stroke-linecap="round" fill="none"/>
<path transform="scale(.1)" d="M8495 2791z" stroke="#2d124d" stroke-width="18" stroke-linecap="round" fill="none"/>
<path transform="scale(.1)" d="M7783 2666zm376 12zm185-16zm-626 135zm-89-30zm97 71zm907 26zm-280 13zm-65-3zm-69 2zm9 35zm6-19zm3 8zm105-16zm2 31zm4-3zm15-29zm6 24zm6 11zm1-1zm28-32zm4 23zm0-5zm4-9zm10 14zm1-27zm2 18zm7 12zm3-11zm57 7zm4 11zm8-10zm1-4zm3 13zm5-33zm98 74zm-56-12zm-1-26zm-28 30zm-5-17zm-7 21zm-5-9zm-21-23zm-2 6zm-13-6zm-21 11zm-28 24zm-6-24zm-2 9zm-15 15zm-4-4zm-5-14zm-6 0zm-50 20zm-41-25zm-1 5zm-29 18zm-7-32zm-104 28zm-17-19zm-26-12zm-9 28zm-141 42zm14-14zm1 16zm10-9zm4-9zm73 7zm10-9zm37-10zm23 11zm27-6zm5-4zm6 5zm11-7zm14-1zm63 0zm18 1zm35 1zm55 1zm14 4zm14-4zm30-5zm6 13zm7 6zm10-9zm4 0zm13-7zm5-1zm18 20zm8 8zm1 6zm0-7zm32-4zm19-19zm20 26zm1-19zm9 26zm3-19zm16 19zm14-24zm23 8zm17 17zm-4 1zm-691 0zm-29 6zm-103 15zm695 59zm-156 11zm-37 3zm-88-6zm-13-1zm-94 5z" stroke="#2d124d" stroke-width="18" stroke-linecap="round" fill="none"/>
<path transform="scale(.1)" d="M8929 3019zm-28 3zm-61-5zm-90 9zm-32-14zm-21 25zm-19-8zm-14-9zm36 56zm32-36zm21 22zm45 2zm15 14zm6-19zm0 13zm4 0zm50-16zm6-6zm8 20zm7-11zm79 1zm20 5zm2 7zm20-12zm27-16zm22 8zm58 60zm-12 5zm-4-30zm-11-5zm-23 7zm-14 5zm-8 4zm-2-5zm-7-11zm0 12zm-29 19zm-22-24zm-5 15zm-46-2zm-2-8zm-7 15zm-63-20zm-14 20zm-26-21zm-42 26zm-10-9zm-1-2zm-33-6zm-1 11zm-10 2zm-10-26zm-2 17zm-16 3zm-9-9zm-19 20zm-18-22zm-12 18zm-13-7zm-38 11zm-60-18zm-21 12zm-53 8zm-14-7zm-177 46zm88 1zm50-6zm51-31zm4 3zm5 30zm15 3zm9-11zm23 0zm32-8zm0 4zm6 17zm9-35zm10 25zm76-21zm6 11zm5 9zm22-19zm42-8zm2 35zm21-27zm25 7zm12 15zm7 2zm17-6zm4-11zm15 2zm8 3zm2-4zm15 13zm1-6zm7-2zm62 17zm15-16zm26 15zm17-10zm5 6zm3-14zm4 0zm0-17zm6 2zm21 25zm3 10zm1-21zm12 15zm38-19zm8 6zm5-4zm37-11zm39 5zm20 6zm8-2zm13 22zm27-8zm127 45zm-1-3zm-10-7zm-7 10zm-1-30zm-3 13zm-15-3zm-9 3zm-6 3zm-4 0zm-12 17zm-2-35zm-36 38zm-13-20zm-1-12zm-17-6zm-17 19zm-3 5zm-18 14zm-55-12zm-68-23zm-2 22zm-11-4zm-39-1zm-27 5zm-23-14zm-31 12zm-69 14zm-21-23zm-12-13zm-1 28zm-25-16zm-70-4zm-4 19zm-5 7zm-24-27zm-1 6zm-9-15zm-70 33zm-43 3zm-43-22zm-21 25zm-69-25zm0-12zm-45 28zm-77 4zm-6 4zm-4-20zm-4-14zm-16 11zm-15 9zm-5-21zm-30 27zm-13 8zm-11-16zm-202 53zm228-28zm49 26zm6-8zm13-11zm11 3zm12-12zm12 19zm36-10zm10-5zm74 21zm46-10zm15 1zm12 14zm2-6zm24-1zm34-1zm12-12zm39 2zm2-15zm11 6zm74 22zm26-4zm116-17zm20 18zm2 8zm25-1zm15-18zm2 5zm1-18zm4 19zm0 6zm32-21zm34 10zm7-8zm7 22zm6-31zm2 29zm20 3zm6-6zm27-3zm9-14zm19-9zm47 30zm12 1zm23-19zm18 7zm5 12zm93-5zm26 4zm15-16zm29 3zm5-13zm48 11zm5 11zm5 4zm9-5zm15-2zm15 13zm53-13zm-2 27zm-30 1zm-19 18zm-22-28zm-12 38zm-8-29zm-9-6zm-56-1zm-30 4zm-3 28zm-13-30zm-8 28zm-10-12zm-30-9zm-22 24zm-12-16zm-27-6zm-10 0zm-10-12zm-4-2zm-7 30zm-9 7zm-13-30zm-7 5zm-1 9zm-4 2zm-28 9zm-11-3zm-6-21zm-39-4zm-29 28zm-39-23zm-8 13zm-88 16zm-6-17zm-54-12zm-19-2zm-8 31zm-6-13zm-6-25zm-10 28zm-6-18zm-12 16zm-21 3zm-12-21zm-17 10zm-4 16zm-57-13zm-13 8zm0 9zm-29-1zm-6-2zm-35-20zm-6-13zm-15 25zm-30-19zm-16 17zm-2 8zm-14-3zm-4-13zm-1-15zm0 20zm-4-8zm-3 1zm-1-6zm-25 16zm-38-20zm-83 15zm-21 6zm-5-8zm-7 1zm-12 5zm-68-14zm-147 23zm-67-32zm19 69zm11-12zm4 11zm8-11zm3 11zm49-16zm0 4zm54 16zm75-24zm1 17zm16-10zm15-15zm55 34zm105-9zm8-17zm30 2zm45 0zm11 15zm16 11zm36-27zm54 22zm51 5zm8-19zm13-3zm8-4zm2 1zm83 23zm4-7zm15 4zm20-14zm32-7zm38 27zm23-18zm10 9zm17-28zm5 11zm2 3zm8 22zm25-17zm7 0zm23-2zm26-12zm18 32zm3-5zm17-7zm25 1zm27 10zm8-6zm11 0zm15-10zm1-4zm0 7zm58 9zm111-28zm44 30zm26-14zm22 5zm21 5zm12-3zm34-10zm2 12zm110-21zm108 35zm-299-1zm-38 14zm-11 16zm-25-13zm-12 6zm-3 11zm-12-26zm-25 21zm-36-12zm-1-13zm-50 13zm-3-6zm-14 10zm-24 9zm-14-2zm-32-8zm-8-6zm-27 18zm-88-32zm-16 6zm-24-4zm-21-5zm-5 33zm-27-30zm-9 33zm-17-34zm-50 12zm-23 14zm-8-4zm-5-3zm-1-4zm-2 6zm-6-16zm-11 8zm-23 2zm-12-7zm-38 2zm-5 20zm-13-16zm-12-12zm-3 14zm-12-17zm-22 19zm-64 7zm-46-20zm-17 22zm-12-20zm-18 30zm-3-14zm-2-5zm-13 8zm-3 1zm-37 3zm-7 0zm-21-19zm-205 17zm-22-28zm-26 16zm-23-17zm-27 11zm-9 19zm-47-28zm56 38zm9 26zm65-9zm3 13zm35-12zm27 15zm156-5zm18-4zm63-16zm6 9zm9-18zm22 11zm11-2zm8 4zm13 9zm6 6zm93 2zm24 4zm0 4zm2-22zm20 18zm14-13zm3 13zm7-33zm1 6zm5-6zm41 33zm3-22zm1-10zm6 10zm8-9zm43 30zm5-25zm8 8zm33 23zm15-21zm18 5zm15-21zm5 30zm10-23zm62 9zm1-10zm9 15zm17 14zm5-34zm23 18zm2-11zm21 20zm5-6zm26-2zm55 11zm16-24zm6 15zm40-18zm1 28zm18 2zm4 3zm4-31zm77 21zm1-3zm63-23zm374 0zm42 36zm41 2zm-79 19zm-525-18zm-1 8zm-9-1zm-6-4zm-11-2zm-24 1zm-25 17zm-5-14zm0 12zm-5-8zm-3 10zm-48-20zm-2 18zm-9-14zm0 23zm-16-5zm-61-22zm-3 13zm-6-3zm-77 5zm-7-5zm-3-8zm-44 29zm-4-2zm-11-17zm-55 18zm-6-29zm-9 32zm-2-12zm-15-22zm-4 10zm-5 0zm-20 3zm-11 4zm-9 21zm-3-27zm-2 17zm0-26zm-53 5zm-5 21zm-25-24zm-126-2zm-15 22zm-42 14zm-98-16zm-24-1zm-11-7zm-56 19zm-11 2zm-35-30zm-32 21zm-14-16zm-5 24zm-4-19zm-10 2zm13 26zm6-2zm80 36zm4-10zm52-15zm13-10zm56 12zm8 23zm0 2zm27 0zm13-22zm8-16zm1 8zm11 30zm7-13zm3-9zm31-13zm14-4zm4 17zm39-1zm9 9zm24-7zm40 13zm3-25zm9 15zm1-6zm10-10zm11 21zm13-21zm1 10zm9-2zm6-10zm26 2zm15 9zm72-4zm3-3zm11-7zm947 33zm40-10zm-63 42zm-31 12zm-42-28zm-1048 20zm-1-10zm-16-17zm-4 0zm-3 7zm-8 3zm-22 0zm-9 25zm-105-32zm-26 7zm-14 1zm-13-1zm-2 2zm-11-4zm-46-10zm0 2zm-5 31zm-7-22zm-1 26zm-6-33zm-6 20zm-1-20zm-4 17zm-6-14zm29 34zm196 7zm15 4zm1-10zm9 11zm11 0zm1139-13zm0 12zm5-4zm13 0zm13 31zm108-25zm44 8zm10 11zm-13 10z" stroke="#2d124d" stroke-width="20" stroke-linecap="round" fill="none"/>
<path transform="scale(.1)" d="M8371 2653zm447 66zm-1104-29z" stroke="#3d1760" stroke-width="17" stroke-linecap="round" fill="none"/>
<path transform="scale(.1)" d="M8539 2798zm-63 40zm1031 52zm-1072 45zm136 94zm-43-15zm-40-8zm-13 0zm1203 71zm90-31zm-1722 50zm-27 4zm-4 8zm-8-6zm-11 5zm-9-15zm2114 179z" stroke="#3d1760" stroke-width="19" stroke-linecap="round" fill="none"/>
<path transform="scale(.1)" d="M7884 2657z" stroke="#3d1760" stroke-width="18" stroke-linecap="round" fill="none"/>
<path transform="scale(.1)" d="M8186 2632zm-176 7zm-40-13zm-61 132zm375-7zm148 115zm-342-19zm-312 17zm-5 36zm859 5zm18-25zm80 20zm-31 58zm-199-8zm-92 9zm-5 0zm-4-5zm-24-3zm-17-3zm-17-6zm0-19zm-6 35zm-35-3zm-11 1zm-9 0zm-61-11zm-65 10zm-325 9zm121 26zm44-15zm90 9zm53-15zm2 3zm11 3zm52-4zm13 2zm10 0zm52 7zm57-4zm9 4zm18-15zm24 1zm26 2zm43 1zm3-6zm7 22zm2-8zm14-6zm11-4zm12 27zm4-24zm8 16zm17-8zm1 5zm0-8zm3-4zm4 24zm12 0zm6-9zm2-2zm97 34zm-15 1zm-61-16zm-26-3zm-6 4zm-513 57zm35 15zm18-5zm12 1zm339 3zm32 14zm-43 0zm-9 0zm-7-4zm-77 7zm-2-4zm-11-3zm-29-1zm-24 8zm-2-3zm-42-1zm-24 1zm-28-2zm-1-5zm-11 8zm-2-7zm-1 4zm-15-1zm-25-3z" stroke="#3d1760" stroke-width="18" stroke-linecap="round" fill="none"/>
<path transform="scale(.1)" d="M8974 3035zm-34-15zm-5-2zm-10 18zm-34-10zm-24-13zm-11 21zm-78 2zm-18-12zm-4 9zm-9-2zm-13-11zm-2 10zm-55 6zm-17 0zm-94-13zm-21-6zm-11 5zm161 57zm3-2zm1-2zm10 4zm10-39zm0 32zm22-11zm1 18zm18-32zm11 10zm0-10zm34-2zm1-4zm8 23zm6-11zm5-11zm17 1zm2 33zm30-21zm27 12zm58-24zm60 17zm27 4zm0-13zm16 15zm7 11zm29 31zm-13-6zm-30 0zm-90 3zm-5-4zm-1 7zm-4-7zm-4 10zm-46-2zm-78-29zm-5 19zm-16 15zm-6-4zm-18-14zm-6 19zm-4-9zm-11-3zm-34-9zm-4-11zm-5 30zm-1-32zm-1 24zm-3 11zm-1-16zm-8-3zm-8-13zm-18 22zm-22-3zm-16 3zm-4-5zm-2-18zm-3 25zm-1-27zm-5 21zm-3 1zm-37 11zm-60 1zm-11-13zm-23-7zm-8 10zm-7 5zm-10-9zm-36 16zm-440-2zm0-6zm-3 3zm-2-5zm-3 6zm-1-4zm-3-2zm-3-11zm0 18zm-9-11zm-3 2zm-1 4zm-1-17zm-3 16zm-1-13zm-5 20zm-2-4zm-1 0zm-1 9zm5 9zm5 5zm4-3zm1-7zm6 11zm7-1zm8-4zm0-1zm3-7zm1 2zm251 30zm15 0zm22 1zm43 3zm0-20zm44 3zm107-12zm96 6zm99-6zm37 27zm9-11zm8-25zm11 26zm3-10zm7 2zm1 21zm10-15zm42 2zm6 8zm30-26zm12 12zm98-11zm40-3zm5 16zm2 14zm50-15zm11 0zm7-6zm7 2zm24 20zm7-36zm22 5zm8-4zm43-1zm63 24zm6 3zm32-3zm66 53zm-64-33zm-8 7zm-34 6zm-9 21zm-37-7zm-62-5zm-50-24zm-21 22zm-13 2zm-46 8zm-2-11zm-1 7zm-7-15zm-32 15zm-53-2zm-31-18zm-64 3zm-10-1zm-4-7zm-2 13zm-73-4zm-2 10zm-16-4zm-3 4zm-14-21zm-53 22zm-35-14zm-84 20zm-15 2zm-89-25zm-12 27zm-24-24zm-27 14zm-8-8zm-26-5zm-2 21zm-19-10zm-22-8zm-4-2zm-35-4zm-175 12zm-39 12zm-3 38zm5-10zm3-4zm10 5zm109 3zm160 12zm25-9zm5-11zm44-6zm27-9zm8 1zm30 8zm72-9zm10 32zm2-4zm5-12zm26-8zm4 18zm4-18zm80 8zm15 17zm70-28zm31 11zm3-6zm12 3zm1 18zm47-12zm25-1zm56-10zm6 19zm23 3zm22-12zm4-21zm22 23zm17-14zm5 8zm4-6zm13 10zm2 1zm81-6zm1 17zm0-24zm11 23zm1 6zm4-35zm24 27zm1-8zm3-11zm44 21zm11-30zm97 16zm56 16zm44-23zm56 5zm-69 24zm-24 22zm-35 17zm-47-1zm-29-2zm-32-30zm-31-6zm-2 10zm-16-1zm-16 5zm-1 6zm-25 3zm-72 10zm-15-26zm-33 23zm-14-1zm-15 8zm-23-6zm-28-2zm-19-11zm-1 3zm-12-8zm-12 19zm-4-2zm-6 8zm-7-15zm-31-4zm-15 14zm-17-1zm-15-1zm-43-11zm-27 10zm-15-15zm-3-1zm-1-5zm-6-2zm-2-3zm-36 29zm-7-11zm-12 4zm-7 3zm-67-29zm-4 8zm-26 2zm-13 5zm-5-3zm-32 14zm-11-6zm-120-13zm-39-6zm-21 24zm-7-21zm0 24zm-23-19zm-2 4zm-73-9zm-36 7zm-79-11zm-11 20zm-8 17zm-32-31zm49 61zm7-8zm1 1zm47-4zm4 17zm14-30zm56 33zm11-6zm44-23zm26 13zm83-8zm38 2zm24-4zm8 20zm13-17zm68-12zm7 31zm8-28zm13 21zm2 10zm7-13zm13-3zm3-3zm4 10zm34 1zm9 11zm10-16zm9-8zm7-5zm3-3zm8 7zm19 18zm32-24zm4 2zm52-2zm27 27zm7 4zm5-32zm4-2zm17 35zm15-8zm28-3zm6-15zm35-4zm10 7zm6-8zm7-2zm58 19zm2-15zm7 23zm53-11zm7-4zm12 9zm13 8zm0-35zm18 17zm3 15zm19-9zm48 1zm26-1zm5 3zm38-23zm6 17zm23-9zm0 4zm7-5zm79 11zm42 22zm-72 8zm-16-7zm-2-1zm-33 12zm-12 8zm-13-12zm-7-7zm-19 28zm-5 6zm-21-37zm-6 27zm-30-18zm-48 9zm-1 1zm-3 12zm-4-12zm-4 4zm-37-20zm-19 20zm-7-2zm-9 6zm-38 10zm-48-35zm-17 31zm-14-8zm-8-5zm-81-10zm-1-4zm-1 8zm-3 2zm-15 1zm-5-6zm-2 11zm-57 8zm-8-28zm-23 19zm-20 5zm-14 5zm-124-17zm-1-10zm-6 23zm-27-13zm-3-8zm-18 1zm-10 13zm-15 14zm-10-5zm-13-7zm-61 15zm-9-25zm-177 26zm-14-35zm-52 21zm-4-23zm-18 23zm-54-25zm47 47zm197 6zm7 7zm56 12zm38-17zm15 2zm7 11zm57-23zm28-4zm2 25zm16 2zm6-1zm4-17zm1 10zm2-1zm2 16zm80-3zm3-5zm37-4zm16 5zm39-26zm4 3zm20 16zm13 17zm22-36zm16 13zm31 15zm32-7zm3-17zm5 9zm36-1zm5 3zm3-14zm60 3zm2 24zm26-12zm2 15zm2-24zm34-8zm31 3zm59 29zm9-32zm11 22zm41-11zm26-9zm26 4zm0 22zm11-6zm11 3zm87-26zm500 35zm-661 8zm-6-2zm-1 5zm-297 7zm-62 26zm-11-39zm-11 0zm-10 16zm-54 6zm-22 13zm-2-35zm-6 39zm-11 0zm-12-2zm-9-36zm-32 35zm-73 1zm-2-32zm-17 8zm-32 20zm-19-30zm-50 17zm-43-10zm-9 7zm-92 10zm-6 4zm-11-19zm-108-2zm-10-5zm149 39zm67 11zm4-8zm3 15zm2 14zm5-8zm2-20zm14 13zm18 17zm0-22zm12 5zm4 12zm3-27zm15 23zm7 9zm5-3zm13-16zm6 2zm6 1zm3-4zm19-7zm5-6zm42 25zm10-10zm8-20zm35 8zm17 27zm10 4zm4-13zm13-10zm40-14zm6 18zm7-13zm7-1zm1130 62zm-9-8zm-1229 0zm-25 12zm-7-10zm-74-2zm-56-15zm-15-3zm-22-2zm-13 23zm-2-19zm-7-1zm-25 21zm-21-14zm182 53zm26-13zm1337 18zm-33 20z" stroke="#3d1760" stroke-width="20" stroke-linecap="round" fill="none"/>
<path transform="scale(.1)" d="M7988 2581zm755 203z" stroke="#4f1e6d" stroke-width="17" stroke-linecap="round" fill="none"/>
<path transform="scale(.1)" d="M9131 2752zm-301 77zm61-11zm-418 37zm213 46zm453-9zm91-8zm-772 42zm-22 53zm895 8zm-1355 91zm93 10zm-6 5zm-13 7zm-15-14zm-36 2zm-5 3zm-23-5zm-1 3zm-1-6zm-5 1zm1802 49zm205 97zm32-30z" stroke="#4f1e6d" stroke-width="19" stroke-linecap="round" fill="none"/>
<path transform="scale(.1)" d="M8169 2647z" stroke="#4f1e6d" stroke-width="18" stroke-linecap="round" fill="none"/>
<path transform="scale(.1)" d="M7643 2749zm555 2zm92-3zm204 50zm-476 68zm-20 16zm244 7zm447-6zm-435 75zm-182 27zm3-5zm69 4zm6 6zm83-22zm33 1zm17 4zm112-1zm0-8zm4 7zm9 12zm3-6zm10-2zm10-7zm22 16zm1-5zm23-1zm17 15zm18-5zm63 4zm-27 34zm-4-21zm-103-5zm-354 2zm-73 24zm-43 0zm73 41zm79 1zm35 11zm62-2zm99-1zm74-2zm22 4zm16 1zm42-5zm15-5zm25 7zm-120 9zm-37 1zm-140-1zm-25 0zm-24-5zm-3 4z" stroke="#4f1e6d" stroke-width="18" stroke-linecap="round" fill="none"/>
<path transform="scale(.1)" d="M8905 3001zm-13 3zm-23 29zm-2-4zm-21 0zm-2-4zm-54 4zm-38 0zm-98 7zm28 23zm68-7zm11 6zm3 7zm48 5zm4-13zm85-7zm50-1zm141 36zm-55 18zm-36-17zm-16-2zm-2 15zm-9 8zm-4-14zm-13 13zm-108-15zm-12-4zm-15 18zm-6-12zm-40 2zm-16 6zm-35-13zm-1 17zm-66-16zm-11-9zm-10 26zm-14-3zm-18 2zm-6-17zm-17 23zm-64-22zm-41 2zm-17-5zm-2 6zm-153 25zm-332 38zm18-5zm200 9zm34-8zm1-30zm7 29zm41-3zm5-16zm7-4zm16 7zm421-12zm19 29zm30 7zm51-29zm26 2zm3 3zm14 18zm43-27zm7 12zm9-16zm14 28zm46-1zm14-10zm26 14zm1-31zm11 8zm13-3zm43 26zm-97 42zm-8-18zm-3 19zm-38-25zm-7 6zm0 11zm-41 10zm-13-13zm-51-6zm-8 9zm-40-22zm-13 4zm-1-4zm-439-3zm-24 29zm-44-26zm-19 28zm-5-14zm-9-6zm-4-1zm-5 8zm-11-9zm-5-11zm-20 9zm-10-1zm-16-1zm-21 2zm-15 30zm-52-3zm-8 0zm-2 1zm-52-3zm-3-2zm14 26zm3 0zm37-16zm14 23zm55-12zm79-11zm15 2zm62 34zm357-11zm66-16zm15 2zm21 11zm0 9zm82-31zm87 22zm21 1zm6 1zm14-24zm12 17zm10-17zm6 15zm1-13zm4 28zm1-27zm7 13zm28 6zm40 10zm14-18zm22 19zm24-7zm35 11zm8-37zm16 37zm5-5zm33 29zm-65-3zm-12 3zm-46-21zm-6 36zm-47-10zm-82 9zm-69-8zm0-15zm-13-7zm-129 19zm-576-21zm-35 16zm-17 7zm-6-15zm-18 3zm-32-15zm-2 19zm-11 52zm18-14zm39-13zm16 2zm9 28zm5-5zm24 8zm337-30zm44-6zm22 1zm18 28zm5-25zm27-1zm24 31zm29-26zm15 20zm105-11zm186-8zm61 12zm59-9zm11 18zm4-4zm32-10zm7 14zm20 2zm42 3zm57 23zm-126-4zm-3-13zm-33 2zm-65 8zm-80-1zm-167 4zm-139 6zm-2-8zm-17 8zm-114-10zm-25-7zm-25 33zm-23-14zm-334-8zm-20 1zm-14 0zm367 52zm49-7zm8 16zm9-28zm1 24zm0 2zm6-26zm29 14zm9-8zm89 7zm21 6zm6-12zm2 4zm11 6zm22-3zm11 7zm32-11zm347 17zm34-12zm-154 27zm-246 2zm-17-1zm-6 4zm-17-1zm-13 23zm-12-14zm-61 4zm-8 2zm-10 7zm-42-38zm-16 39zm-26-25zm-13 18zm-7-6zm-89 20zm35 33zm26-9zm17-13zm81 0zm12-2zm17 17zm19 1zm-50 28zm-64 30z" stroke="#4f1e6d" stroke-width="20" stroke-linecap="round" fill="none"/>
<path transform="scale(.1)" d="M8422 2700z" stroke="#602477" stroke-width="17" stroke-linecap="round" fill="none"/>
<path transform="scale(.1)" d="M9205 2742zm-934 239zm18-6zm22 3zm43-1zm4 1zm5 1zm22 3zm36-2zm26 6zm28 7zm18-6zm51 6zm5 0zm1046-26zm-1000 46zm-2-7zm-26 10zm-14-13zm-2 7zm-604 40zm18 12zm8 17zm2 0zm2-3zm2 2zm13 1zm23-2zm51 2zm504-20zm1033 6zm-1503 27zm-25-4zm-10 5zm-13 3zm-46-15zm-30 1zm-11 2zm1937 68z" stroke="#602477" stroke-width="19" stroke-linecap="round" fill="none"/>
<path transform="scale(.1)" d="M7903 2646z" stroke="#602477" stroke-width="18" stroke-linecap="round" fill="none"/>
<path transform="scale(.1)" d="M7971 2668zm186-13zm83 42zm-574 22zm48 8zm458 5zm241 20zm-760 15zm165 50zm117 2zm15-7zm645 42zm-773-9zm-74 39zm196 7zm453-7zm6 5zm340 14zm-194 33zm-473 58zm44 2zm13-12zm11 11zm8-3zm21-17zm2-4zm6 25zm2-10zm8 3zm95-8zm9-11zm8 2zm12 5zm23-5zm6 7zm2-7zm3 6zm82 5zm30-2zm3 11zm89 7zm36 18zm-9-9zm-27 9zm-29-15zm-42 6zm-48-7zm-341 6zm-50 8zm-11 3zm-36 4zm-3 16zm56 7zm6 7zm1 17zm3-17zm74 21zm47-6zm139 7zm90-5zm40 10zm36-20zm1 11zm27-5zm-254 15z" stroke="#602477" stroke-width="18" stroke-linecap="round" fill="none"/>
<path transform="scale(.1)" d="M8562 3021zm-42 12zm91 26zm94 22zm-93 21zm-647 39zm11 11zm31-6zm160 6zm26-2zm45-29zm2 31zm353 47zm-348-36zm-29 12zm-4 8zm-11-8zm-11 5zm-3-20zm-5 16zm-63 14zm-25 3zm-41-23zm-44-3zm-20 33zm48 8zm88 6zm29 16zm8 31zm-12 9zm-27-21zm-17 3zm-15 5zm-17-11zm-15-5zm1074 74zm-745 166zm1469 49z" stroke="#602477" stroke-width="20" stroke-linecap="round" fill="none"/>
<path transform="scale(.1)" d="M8515 2693z" stroke="#722b79" stroke-width="17" stroke-linecap="round" fill="none"/>
<path transform="scale(.1)" d="M9157 2832zm0 52zm-1096 111zm46-8zm36 1zm1-2zm6 3zm17-5zm3-3zm19 8zm22 0zm17-4zm34-6zm23 9zm21-3zm52 9zm20-6zm6 6zm0-17zm25 14zm56 2zm63-1zm29 3zm1193 44zm-1165-36zm-41 13zm-7-13zm-2-1zm-30 1zm-17 0zm-507 19zm-25 42zm18 4zm6 3zm6-29zm6 30zm18-6zm25 11zm6-4zm3-18zm8 2zm47 7zm32 14zm332-6zm23-15zm15-8zm3 11zm41-17zm8 10zm38-4zm1330 62zm-1888-31z" stroke="#722b79" stroke-width="19" stroke-linecap="round" fill="none"/>
<path transform="scale(.1)" d="M8004 2650zm-301 50z" stroke="#722b79" stroke-width="18" stroke-linecap="round" fill="none"/>
<path transform="scale(.1)" d="M7726 2685zm829 125zm-608 35zm347 42zm-251 108zm101-8zm40 12zm25-7zm105-12zm2 12zm134-10zm0 5zm139 32zm-41-5zm-1 20zm-46-29zm-9 4zm-10 2zm-27-9zm-12 1zm-351 5zm-56 11zm-17 22zm38 10zm30 13zm8-6zm34 8zm2 7zm14-9zm5-4zm2 16zm95 1zm30-2zm13-2zm70 5zm85-8zm16-15zm38 4zm13-3zm23-4zm28 6zm13-15z" stroke="#722b79" stroke-width="18" stroke-linecap="round" fill="none"/>
<path transform="scale(.1)" d="M8822 3028zm-294 0zm-2 2zm-1-4zm-5 1zm-478-9zm-3 8zm427 48zm207 41zm-40-30zm-389 15zm-28 18zm-261-3zm16 42zm5-3zm2-7zm3-23zm179 29zm24-8zm11-12zm13-2zm0 7zm323 30zm-278-1zm-136 3zm-67-4zm-3 2zm-7 29zm-75-30zm83 47zm32-12zm40 1zm1683 129zm-1323 23zm318 31zm-555 86z" stroke="#722b79" stroke-width="20" stroke-linecap="round" fill="none"/>
<path transform="scale(.1)" d="M8037 2992zm54 4zm46-1zm2-1zm66-1zm71-12zm1-2zm55 3zm18 6zm9-4zm7 2zm95 7zm8-3zm114 36zm-38-7zm-45-7zm-23 0zm-3-3zm-40-6zm-28 4zm-56-6zm-3 1zm-255-1zm-17 5zm-25 8zm0-13zm-12 5zm-46 21zm-29 3zm-4 22zm41 3zm3 8zm28 7zm11 5zm2-7zm3 0zm54 6zm53-1zm70-5zm8-4zm187 6zm4-8zm17-18zm59 6zm4 24zm15 1zm34-12zm28-16zm1261 34z" stroke="#833178" stroke-width="19" stroke-linecap="round" fill="none"/>
<path transform="scale(.1)" d="M8043 2621zm-201 28zm346 1zm8 47zm-492 0zm148 81zm-193-3zm-14-15zm315 70zm244-9zm38 8zm279-12zm-331 52zm-304 4zm53 39zm420 45zm-429 19zm230 19zm36-1zm59 4zm16-14zm43 9zm25-4zm13-4zm213 11zm-42 26zm-16 8zm-22-23zm-6-4zm-6-2zm-2 0zm-305 12zm-24-12zm-30 22zm-43-11zm-86 7zm-5 10zm124 28zm32-3zm48 0zm1 19zm24-5zm16 2zm23-3zm5 2zm72-6zm3-5zm24 13zm46-5zm63 3zm4-8zm11 6zm17 3zm8-9zm11-17zm17 21zm16-16z" stroke="#833178" stroke-width="18" stroke-linecap="round" fill="none"/>
<path transform="scale(.1)" d="M8534 3037zm-5-5zm-2 7zm-555 4zm593-3zm297 62zm-418-14zm-237 14zm-32 11zm-193 21zm141 15zm28-6zm591 87zm542-5zm-172 29zm-635 15zm190 57zm-73-5zm-235 25zm172 29zm200 14zm144-21zm832 3zm-1012 65zm-147-2z" stroke="#833178" stroke-width="20" stroke-linecap="round" fill="none"/>
<path transform="scale(.1)" d="M9299 2996zm-243 46zm739 298z" stroke="#833178" stroke-width="16" stroke-linecap="round" fill="none"/>
<path transform="scale(.1)" d="M8016 2639zm11 28zm-307 90zm122-15zm196 17zm201 65zm249 118zm-129-14zm-234 70zm17 1zm1-12zm25 5zm119 0zm55 3zm133 30zm-3-16zm-29 14zm-4 6zm-5 5zm-30-21zm-266 25zm-22-8zm-87-18zm27 33zm41 13zm26 6zm7-23zm73 18zm14 11zm67-20zm68 13zm158-9zm34-10z" stroke="#943773" stroke-width="18" stroke-linecap="round" fill="none"/>
<path transform="scale(.1)" d="M8092 2991zm6-1zm23-3zm12 3zm14-2zm19 6zm36-14zm17-1zm135 12zm9-4zm65 11zm148 38zm-18-4zm-13-13zm-5 13zm-2 6zm-8-4zm-69-28zm-16 13zm-34-14zm-37 1zm-14 1zm-151-1zm-224-1zm-4 23zm-9-3zm-7-15zm15 37zm25 20zm22-9zm20-5zm29 2zm19-11zm5 26zm19-16zm11-10zm24 28zm8-8zm41-10zm93-3zm53 9zm57 10zm42-30zm12 4zm32 9zm5 2zm5-8zm4 17zm8-4zm9-9zm10-2zm31 4z" stroke="#943773" stroke-width="19" stroke-linecap="round" fill="none"/>
<path transform="scale(.1)" d="M8024 3024zm-11 9zm505 40zm3-3zm0 9zm24-32zm15 20zm12-9zm404 33zm-251 1zm-518 22zm-186-2zm-46 12zm88 4zm1269 65zm-74-17zm-59 1zm-149 27zm-986 87zm947 69zm-219 74z" stroke="#943773" stroke-width="20" stroke-linecap="round" fill="none"/>
<path transform="scale(.1)" d="M8337 2959zm-46-11zm-97 45zm83 0zm156 5zm77-26zm56 0zm-40 59zm-27-21zm-41 4zm-26-13zm-80 9zm-59 5zm-95-5zm-5 17zm0-3zm-32-20zm-44-1zm-30 19zm-43 11zm-19-8zm115 20zm1 16zm16-13zm12 10zm22 7zm15 0zm87-8zm4 16zm29-14zm58-7zm18 12zm71-3zm15-2zm2 2z" stroke="#a53d6c" stroke-width="18" stroke-linecap="round" fill="none"/>
<path transform="scale(.1)" d="M8058 2994zm57-2zm38 6zm52-7zm23 4zm90-7zm247 51zm-19-11zm-6-7zm-10 14zm-23 3zm-10-16zm-2 9zm-7-15zm-15 8zm-32-10zm-17 5zm-3 2zm-38 6zm-40-13zm-48-4zm-55 6zm-47-7zm-65 11zm-13-11zm-50 9zm0 5zm-43-7zm-9-12zm-19 15zm-5 2zm-40 24zm68 9zm109-3zm106 13zm14-8zm28 1zm11 4zm21-10zm18 2zm31-11zm36 2zm33-3zm2 14zm4-7zm7 16zm1-14zm17-2zm9 18zm29-25zm13 24zm18-21z" stroke="#a53d6c" stroke-width="19" stroke-linecap="round" fill="none"/>
<path transform="scale(.1)" d="M8826 3030zm-285 9zm-516-12zm13 14zm418 18zm19 15zm24-11zm26-1zm36-21zm-381 50zm-160 11zm-22 0zm-32 17zm-5-33zm103 45zm77 0zm380-6zm-101 108zm502 10zm-808 13zm347 106zm22 111zm1369 35z" stroke="#a53d6c" stroke-width="20" stroke-linecap="round" fill="none"/>
<path transform="scale(.1)" d="M8377 2929zm-15 69zm213 5zm-50 33zm-14-2zm-80-16zm-20-2zm-207 8zm-8-7zm-81-16zm-54 46zm101 15zm3-21zm0 21zm29-12zm1 9zm8 1zm24 6zm13-11zm72 3zm19 6zm40 0zm50-13zm46 8z" stroke="#b64561" stroke-width="18" stroke-linecap="round" fill="none"/>
<path transform="scale(.1)" d="M8166 2993zm117 5zm224 29zm-14-7zm-25-8zm-16 18zm-11-10zm-6 1zm0 16zm-45-7zm-2-19zm-31-10zm-2 11zm-1 26zm-11-11zm-22-15zm-72-5zm-34-3zm-7 16zm-16-17zm-20 27zm-30-22zm-4 22zm-32-1zm-29-19zm-23 3zm-24-8zm-1 21zm-5 3zm-5-3zm-55 2zm89 19zm26-6zm4 12zm14 9zm24 1zm2-2zm19 9zm32-6zm5-9zm8 15zm21-6zm0 2zm2-17zm11-3zm15 5zm13-1zm32-4zm11 8zm58 11zm1-21zm44 20zm92-11zm11-3z" stroke="#b64561" stroke-width="19" stroke-linecap="round" fill="none"/>
<path transform="scale(.1)" d="M8067 3059zm108 17zm317-18zm87 13zm236 37zm-599 4zm-36-28zm-27 23zm-169 3zm-8-22zm128 34zm70 164z" stroke="#b64561" stroke-width="20" stroke-linecap="round" fill="none"/>
<path transform="scale(.1)" d="M8211 2996zm106 3zm199 13zm-83 13zm-78-21zm-21-4zm-17 11zm-162 9zm-14 7zm-1-21zm12 64zm102-4zm61-18zm10-6zm14 24zm13-2z" stroke="#c64e56" stroke-width="18" stroke-linecap="round" fill="none"/>
<path transform="scale(.1)" d="M8185 2998zm4 1zm65 0zm219 37zm-21-11zm-48-17zm-17 26zm-30-4zm-23-24zm-15 2zm-5 23zm-82 3zm-2-34zm-23 25zm-10 12zm-36-26zm-23-10zm-32 28zm-4-10zm-21-4zm-39-2zm-42 14zm45 17zm27 4zm80-3zm39 23zm7-20zm13 6zm24 13zm10-19zm51 15zm18-11z" stroke="#c64e56" stroke-width="19" stroke-linecap="round" fill="none"/>
<path transform="scale(.1)" d="M7986 3058zm81-2zm426 3zm40-15zm48 9zm-404 56zm-30 4zm-138 11z" stroke="#c64e56" stroke-width="20" stroke-linecap="round" fill="none"/>
<path transform="scale(.1)" d="M8398 3009zm-38-5zm-50 4zm-13 16zm-80-6zm-19 4zm-56 10zm-12-12zm-9 10zm-21-7zm56 33zm27-11zm10 11zm5 1zm1 2zm31-14zm118 4zm12 10zm9-1zm102-9z" stroke="#d6584a" stroke-width="18" stroke-linecap="round" fill="none"/>
<path transform="scale(.1)" d="M8167 2997zm208 13zm-24 26zm-35-18zm-19-12zm-12 32zm-39-2zm-6-7zm-3-21zm-11 7zm-10 8zm-30 12zm-15-35zm-53 33zm-83 8zm115 20zm20-21zm11 13zm12-2zm17-1zm45 5zm27-5zm23-1zm104-1zm32 5zm14-7zm9-5zm3 8z" stroke="#d6584a" stroke-width="19" stroke-linecap="round" fill="none"/>
<path transform="scale(.1)" d="M7974 3058zm166 18zm-58 37zm-31-6zm-43-2zm0 8zm-1-22zm55 35z" stroke="#d6584a" stroke-width="20" stroke-linecap="round" fill="none"/>
<path transform="scale(.1)" d="M8333 2991zm-9 30zm-119 1zm-17-9zm-44 5zm-22 17zm65 12zm38 4zm116 0z" stroke="#e16540" stroke-width="18" stroke-linecap="round" fill="none"/>
<path transform="scale(.1)" d="M8424 3034zm-12-8zm-63 5zm-8-15zm-62 10zm-9 3zm-5-19zm-42-4zm-56 13zm-36 17zm-18-4zm-13 6zm-7-2zm54 19zm76-9zm53 4zm168-9z" stroke="#e16540" stroke-width="19" stroke-linecap="round" fill="none"/>
<path transform="scale(.1)" d="M8060 3069zm5 2zm52 7zm1-14zm358-7z" stroke="#e16540" stroke-width="20" stroke-linecap="round" fill="none"/>
<path transform="scale(.1)" d="M8310 3023zm-23 5zm-47-21zm-31 14zm-20 2zm-14 2zm84 24z" stroke="#eb7438" stroke-width="18" stroke-linecap="round" fill="none"/>
<path transform="scale(.1)" d="M8378 3037zm-28 1zm-41-15zm-29 8zm-23-9zm-58 4zm-35-15zm-6 28zm-32 0zm-5-3zm-15-6zm-5 5zm-3-2zm83 17zm11-5zm25 9zm32-1zm16-11zm52-2z" stroke="#eb7438" stroke-width="19" stroke-linecap="round" fill="none"/>
<path transform="scale(.1)" d="M8085 3078zm6 8zm-72 12zm41 30z" stroke="#eb7438" stroke-width="20" stroke-linecap="round" fill="none"/>
<path transform="scale(.1)" d="M8311 3006zm-6 24zm-97-14zm-17 16zm3 17z" stroke="#f08436" stroke-width="18" stroke-linecap="round" fill="none"/>
<path transform="scale(.1)" d="M8335 3024zm-43 7zm-6-5zm-14-10zm-28 0zm-32 2zm-22-3zm-9 1zm-17 11zm28 13zm17 5zm66 0zm6 3zm45-4z" stroke="#f08436" stroke-width="19" stroke-linecap="round" fill="none"/>
<path transform="scale(.1)" d="M8059 3053zm16 26zm-55 27zm-14-6z" stroke="#f08436" stroke-width="20" stroke-linecap="round" fill="none"/>
<path transform="scale(.1)" d="M8415 3030zm-22-2zm-71 3zm-3-3zm-13 8zm-13-9zm-1-3zm-14 10zm-25 4zm-19-6zm-8 5zm-19 0zm-7-13zm-4 3zm-129-3zm113 22zm38-4zm61 7zm4-5zm8 1zm4 5zm47 1z" stroke="#f59335" stroke-width="18" stroke-linecap="round" fill="none"/>
<path transform="scale(.1)" d="M8275 3026zm-7 1zm-51 15z" stroke="#f59335" stroke-width="19" stroke-linecap="round" fill="none"/>
<path transform="scale(.1)" d="M8057 3072zm5-11zm80 16zm-63 11zm-10 1z" stroke="#f59335" stroke-width="20" stroke-linecap="round" fill="none"/>
<path transform="scale(.1)" d="M8789 3025zm-634 49zm3-6zm433 6zm10-15zm397 45zm-4-14zm-271 23zm-2-2zm-8 5zm-546-12zm-12-3zm-3-4zm-11 16zm-58-14zm-130 26zm134 33zm24-12zm15 6zm3 3zm8-5zm6-6zm16 10zm17-1zm11 1zm96 3zm55-26zm4-10zm25 22zm9-6zm28 8zm11-9zm8 21zm110-10zm0 9zm13-3zm32-24zm3 1zm35 22zm272-23zm6 2zm55 15zm74-17zm170 13zm3 16zm-451 39zm-176-37zm-4 8zm-14-4zm-34 33zm-36-3zm-46-28zm-31 2zm-10 7zm0-1zm-11-3zm-75 28zm-132-34zm0 4zm-28 22zm-5-29zm-10 0zm-24 30zm-72-3zm-9-17zm-5 11zm-1 1zm-19-23zm23 46zm21-7zm3 7zm21 15zm9 6zm2-10zm34-8zm74 13zm24-20zm4-1zm66 28zm16-2zm1-8zm20 1zm15-7zm35-12zm16 25zm96-26zm41 37zm58-31zm6 0zm18 3zm140 7zm2 2zm1-7zm236 18zm25 7zm4 2zm67-7zm9 3zm135 4zm193 14zm-190 13zm-23 7zm-2-6zm-116-25zm-89 29zm-1-31zm-261 37zm-102-37zm-154 8zm-7 7zm-16-1zm-47 12zm-8-4zm-9-6zm-1-1zm-3 8zm-2-12zm-96-7zm-11 7zm-50-7zm-13 4zm-5 2zm-16 0zm-11-9zm-2-1zm-93 26zm7 50zm90-32zm10 1zm5 4zm108 15zm8 1zm7-14zm9 5zm35-11zm55 23zm5 6zm63-34zm159 29zm99-29zm2 8zm5 3zm93 23zm239-29zm224 20zm1 7zm1-5zm12-15zm4-5zm8 14zm145 1zm6 0zm3-9zm153 9zm4-2zm12-5zm1-15zm16 13zm25 14zm4-10zm8 16zm1-10zm3-13zm24 25zm5-9zm68 29zm-8-1zm-237 11zm-4 3zm-2 0zm-12-19zm-23 11zm-12-1zm-1 4zm-169 5zm-28-2zm-12-25zm-9 25zm-36 10zm-185-18zm0 1zm-8-2zm-229 22zm-86-3zm-15-24zm-2-1zm-11-8zm-3 7zm-4-1zm-46-2zm-102-4zm-68 31zm-10 2zm-8 1zm-171-36zm-3 2zm-4-2zm-58 16zm0 5zm-7-3zm-20-15zm-105 15zm-1 4zm-40-16zm-3-2zm200 60zm17-19zm8-4zm142-2zm14 6zm21-1zm58 29zm106 1zm49-25zm57 2zm281 18zm96-7zm15 5zm15-1zm100-21zm6-2zm406 29zm42-25zm31 15zm21 3zm3-3zm-13 31zm-4 10zm-2-4zm-79-7zm-3 0zm-2 12zm-42 0zm-3 4zm-14-2zm-22-21zm-17-3zm-7 2zm-406-4zm-430 2zm-4 0zm-70-3zm-11 11zm-99 12zm-3-21zm-3 21zm-2-23zm-208 6zm-4 6zm-12 26zm-26-15zm-68 15zm83 2zm98 16zm4 2zm7 9zm105-11zm4 10zm5-3zm96-15zm1188 29zm4 1zm6-32zm7 30zm25-18zm-42 48zm-20-2zm-8-15zm-18 11zm-10-13zm-92-1z" stroke="#fff" stroke-width="11" stroke-linecap="round" fill="none"/>
<path transform="scale(.1)" d="M8838 2752zm44 7zm24-7zm7-32zm4 23zm5-17zm0 21zm2 6zm4-7zm28-11zm14 4zm1 3zm0 13zm21-7zm4-9zm3 16zm4 3zm2-8zm17-5zm8-1zm13-6zm8-4zm71 23zm163 30zm-9 7zm-11-3zm-2-10zm-1 12zm-76-7zm-1 6zm-54 4zm-7-11zm-9-25zm-6 31zm-11-1zm-44-9zm-1 8zm-31-20zm-5 3zm-3 2zm-15 24zm-7-1zm-1-25zm-29 17zm-10-12zm-4 0zm-1 5zm-3 1zm-16 16zm-11-22zm-16 4zm-23-19zm-4 1zm-2-2zm-17 2zm-2 12zm0-5zm-4 4zm-2 8zm-9-12zm0-5zm-3 21zm44 50zm1-16zm4 2zm17 1zm1 7zm6-15zm3-6zm8 7zm20-1zm11-2zm8 19zm1-13zm2 16zm9-22zm6-11zm2 0zm6 16zm10-16zm21 32zm6-8zm2 7zm1 6zm6-7zm100-14zm11 18zm10-32zm31 3zm3 3zm8-7zm3 3zm18-2zm5 25zm21 9zm6-12zm4 13zm5-35zm58 12zm14-2zm55 24zm-4 32zm-12 3zm-26-4zm-1-1zm-95-3zm-7-14zm-7-6zm-3 6zm-2-7zm-4 8zm0 27zm-3-26zm-3 22zm-17-20zm-14 7zm-13-6zm-1 4zm-4-3zm-15-10zm-5 16zm-23-21zm-65 2zm-1-3zm-28 19zm-7-20zm-41 5zm-14-3zm-12 25zm-9-4zm-111 2zm-4-5zm64 35zm20-4zm1-4zm36 8zm134-13zm60 14zm2-2zm15 12zm34-15zm1 0zm8 7zm11-16zm36 7zm11 4zm22 10zm1 0zm30 6zm5-13zm5 1zm2-1zm3 4zm19 17zm27-5zm9 0zm4-3zm9 9zm48-8zm38-20zm3-6zm9 0zm34 22zm17-5zm55 45zm-6 11zm-47-8zm-1-13zm-7 6zm-5 10zm-16-16zm0-3zm-17-5zm-4 4zm-5 9zm-5 14zm-12-14zm-12-19zm-14 34zm-3-11zm-17-11zm-2 12zm-6 9zm-1-19zm-18 0zm-14 19zm-15-29zm-21 26zm-15-3zm-25-18zm-5 0zm-10 7zm0-10zm-7 19zm-8-23zm-19-1zm93 44zm7 6zm17 6zm7 2zm19-19zm8 1zm10 4zm8-1zm115 29zm47-8zm2 3zm5 7zm19-24zm9-4zm40 9zm10-1zm65 39zm-9 15zm-18-4zm-62-10zm-15-4zm-14 21zm-17-3zm-2 1zm-7-4zm-3 5zm-9-7zm-32 7zm-6-1zm-9-22zm-24 22zm-12-10zm-30 2zm-3 0zm33 19zm8 4zm35-2zm17 19zm40-24zm32 11zm9 14zm1 4zm1-18zm21 15zm14 3zm7-1zm136-2zm1-2zm64 53zm-8 0zm-27-16zm-4-8zm-50 5zm-17-1zm-7 10zm-15-5zm-12 2zm-4-4zm-89-3zm-7-4zm158 44zm10 10zm13 12zm0-5zm2-20zm0-5zm3 10zm2 14zm1-1zm7-5zm3-15zm2 15zm11 11zm18-16zm27 13zm19-2zm4 5zm74 38zm-46-32zm-34 30zm-38-14zm-11-5zm32 30zm5-1zm22 1zm1 1zm21 16zm3-6zm6-11zm3 4zm1 10zm16 0zm11 9zm2 3zm0-1zm23-25zm4 33zm8-37zm5 23zm7-11zm8 11zm5 9zm36 6zm13 4zm-18 16zm-10-12zm-3 11zm-7-11zm-2 10zm-2 7zm0-19zm-13-3zm-20 4z" stroke="#fff" stroke-width="11" stroke-linecap="round" fill="none"/>
<polygon points="815.8,311.2 820.3,308.5 827.4,307.4 836.4,307.4 843.4,308.3 846.8,310.0 843.3,312.7 835.2,314.6 826.2,314.8 819.2,313.7" fill="#fff"/>
<path d="M880.6 286.9L860.7 289.8" stroke="#fff" stroke-width="1.3" fill="none"/>
<path d="M849.8 291.4L859.9 285.0L861.4 294.7Z" fill="#fff"/>
<text x="1045.0" y="245.4" font-size="10.5" fill="#1a1a1a" text-anchor="end">Expression level</text>
<defs><linearGradient id="gF2" x1="0" y1="0" x2="0" y2="1"><stop offset="0.00" stop-color="#fceb9c"/><stop offset="0.08" stop-color="#fbdc7c"/><stop offset="0.15" stop-color="#fac45a"/><stop offset="0.22" stop-color="#f9a83a"/><stop offset="0.30" stop-color="#f59034"/><stop offset="0.38" stop-color="#ea7238"/><stop offset="0.45" stop-color="#d95a48"/><stop offset="0.52" stop-color="#bf495c"/><stop offset="0.60" stop-color="#9e3a70"/><stop offset="0.68" stop-color="#7e2f7a"/><stop offset="0.76" stop-color="#5c2377"/><stop offset="0.84" stop-color="#3a165e"/><stop offset="0.92" stop-color="#1c0c38"/><stop offset="1.00" stop-color="#06030c"/></linearGradient></defs>
<rect x="1015.6" y="250.4" width="14.4" height="70.0" fill="url(#gF2)"/>
<text x="1034.1" y="253.5" font-size="8.0" fill="#222">1.00</text>
<path d="M1027.8 267.9h2.2" stroke="#fff" stroke-width="0.7"/>
<text x="1034.1" y="271.0" font-size="8.0" fill="#222">0.75</text>
<path d="M1027.8 285.4h2.2" stroke="#fff" stroke-width="0.7"/>
<text x="1034.1" y="288.5" font-size="8.0" fill="#222">0.50</text>
<path d="M1027.8 302.9h2.2" stroke="#fff" stroke-width="0.7"/>
<text x="1034.1" y="306.0" font-size="8.0" fill="#222">0.25</text>
<text x="1034.1" y="323.5" font-size="8.0" fill="#222">0.00</text>
<text x="741.9" y="360.6" font-size="10.5" fill="#1a1a1a">Chip1_s2</text>
</g>
<g id="panelG">
<rect x="81.1" y="445.3" width="58.8" height="32.7" fill="#a9c4e9"/>
<rect x="81.1" y="478.0" width="58.8" height="32.6" fill="#80d0d1"/>
<rect x="81.1" y="510.6" width="58.8" height="32.9" fill="#dda1d2"/>
<rect x="81.1" y="543.5" width="58.8" height="48.6" fill="#7fc9a0"/>
<rect x="81.1" y="592.1" width="58.8" height="32.9" fill="#d8c877"/>
<path d="M59.0 478H86.2" fill="none" stroke="#f0837a" stroke-width="1.9" stroke-linecap="square"/>
<path d="M59.0 478V502.9H31.5V589.8H59.0" fill="none" stroke="#f0837a" stroke-width="1.9" stroke-linecap="square"/>
<path d="M86.2 478V461.5H113.0M139.9 453.3H113.0V469.6H139.9" fill="none" stroke="#6a8fd0" stroke-width="1.9" stroke-linecap="square"/>
<path d="M86.2 478V494.4H113.0M139.9 486.0H113.0V502.3H139.9" fill="none" stroke="#2fbfc0" stroke-width="1.9" stroke-linecap="square"/>
<path d="M59.0 502.9V527H113.0M139.9 518.6H113.0V535.0H139.9" fill="none" stroke="#b565c0" stroke-width="1.9" stroke-linecap="square"/>
<path d="M59.0 589.8V571.8H86.2M113.0 559.6H86.2V583.9H139.9M139.9 551.3H113.0V567.6H139.9" fill="none" stroke="#2fae58" stroke-width="1.9" stroke-linecap="square"/>
<path d="M59.0 589.8V608.5H113.0M139.9 600.3H113.0V616.6H139.9" fill="none" stroke="#b89b2a" stroke-width="1.9" stroke-linecap="square"/>
<path d="M139.9 453.3H162.2" stroke="#6a8fd0" stroke-width="0.8" fill="none"/>
<circle cx="139.9" cy="453.3" r="2.6" fill="#3b2a9a"/>
<text x="162.3" y="456.4" font-size="8.8" fill="#6b8dc4">cell chemotaxis</text>
<path d="M139.9 469.6H162.2" stroke="#6a8fd0" stroke-width="0.8" fill="none"/>
<circle cx="139.9" cy="469.6" r="2.6" fill="#7a2a9f"/>
<text x="162.3" y="472.7" font-size="8.8" fill="#6b8dc4">endothelial cell migration</text>
<path d="M139.9 486.0H162.2" stroke="#2fbfc0" stroke-width="0.8" fill="none"/>
<circle cx="139.9" cy="486.0" r="2.6" fill="#3b2a9a"/>
<text x="162.3" y="489.1" font-size="8.8" fill="#35bcc0">positive regulation of cell development</text>
<path d="M139.9 502.3H162.2" stroke="#2fbfc0" stroke-width="0.8" fill="none"/>
<circle cx="139.9" cy="502.3" r="2.6" fill="#ee302c"/>
<text x="162.3" y="505.4" font-size="8.8" fill="#35bcc0">tissue remodeling</text>
<path d="M139.9 518.6H162.2" stroke="#b565c0" stroke-width="0.8" fill="none"/>
<circle cx="139.9" cy="518.6" r="2.6" fill="#3b2a9a"/>
<text x="162.3" y="521.7" font-size="8.8" fill="#b96cbc">lipid catabolic process</text>
<path d="M139.9 535.0H162.2" stroke="#b565c0" stroke-width="0.8" fill="none"/>
<circle cx="139.9" cy="535.0" r="2.6" fill="#3b2a9a"/>
<text x="162.3" y="538.1" font-size="8.8" fill="#b96cbc">steroid metabolic process</text>
<path d="M139.9 551.3H162.2" stroke="#2fae58" stroke-width="0.8" fill="none"/>
<circle cx="139.9" cy="551.3" r="2.6" fill="#ee302c"/>
<text x="162.3" y="554.4" font-size="8.8" fill="#34a055">pigment biosynthetic process</text>
<path d="M139.9 567.6H162.2" stroke="#2fae58" stroke-width="0.8" fill="none"/>
<circle cx="139.9" cy="567.6" r="2.6" fill="#ee302c"/>
<text x="162.3" y="570.7" font-size="8.8" fill="#34a055">melanin biosynthetic process</text>
<path d="M139.9 583.9H162.2" stroke="#2fae58" stroke-width="0.8" fill="none"/>
<circle cx="139.9" cy="583.9" r="2.6" fill="#ee302c"/>
<text x="162.3" y="587.0" font-size="8.8" fill="#34a055">pigment metabolic process</text>
<path d="M139.9 600.3H162.2" stroke="#b89b2a" stroke-width="0.8" fill="none"/>
<circle cx="139.9" cy="600.3" r="4.4" fill="#ee302c"/>
<text x="162.3" y="603.4" font-size="8.8" fill="#b0952f">developmental pigmentation</text>
<path d="M139.9 616.6H162.2" stroke="#b89b2a" stroke-width="0.8" fill="none"/>
<circle cx="139.9" cy="616.6" r="5.6" fill="#ee302c"/>
<text x="162.3" y="619.7" font-size="8.8" fill="#b0952f">pigmentation</text>
<path d="M316.3 449.8V475.7" stroke="#6a8fd0" stroke-width="2.2"/>
<path d="M316.3 482.7V508.3" stroke="#2fbfc0" stroke-width="2.2"/>
<path d="M316.3 515.3V541.2" stroke="#b565c0" stroke-width="2.2"/>
<path d="M316.3 547.6V589.2" stroke="#2fae58" stroke-width="2.2"/>
<path d="M316.3 596.5V622.7" stroke="#b89b2a" stroke-width="2.2"/>
<text x="324.6" y="465.3" font-size="12.25" fill="#111">endothelial cell chemotaxis</text>
<text x="324.6" y="480.6" font-size="12.25" fill="#111">migration</text>
<text x="324.6" y="498.2" font-size="12.25" fill="#111">positive regulation of</text>
<text x="324.6" y="512.9" font-size="12.25" fill="#111">remodeling development</text>
<text x="324.6" y="530.2" font-size="12.25" fill="#111">lipid steroid catabolic metabolic</text>
<text x="324.6" y="571.7" font-size="12.25" fill="#111">pigment melanin biosynthetic</text>
<text x="324.6" y="586.9" font-size="12.25" fill="#111">process</text>
<text x="324.6" y="617.1" font-size="12.25" fill="#111">developmental pigmentation</text>
<rect x="561.0" y="446.3" width="61.4" height="35.8" fill="#a9c4e9"/>
<rect x="561.0" y="482.1" width="61.4" height="17.3" fill="#7fc9a0"/>
<rect x="561.0" y="499.4" width="61.4" height="36.1" fill="#80d0d1"/>
<rect x="561.0" y="535.5" width="61.4" height="35.5" fill="#dda1d2"/>
<rect x="561.0" y="571.0" width="61.4" height="53.0" fill="#d8c877"/>
<path d="M500.5 562.7V525H525.2V497.5H549.5" fill="none" stroke="#f0837a" stroke-width="1.9" stroke-linecap="square"/>
<path d="M500.5 562.7V602H574.1M598.0 588.6H574.1V615.4H622.4M622.4 579.7H598.0V597.5H622.4" fill="none" stroke="#b89b2a" stroke-width="1.9" stroke-linecap="square"/>
<path d="M525.2 525V552.8H598.0M622.4 544.0H598.0V561.9H622.4" fill="none" stroke="#b565c0" stroke-width="1.9" stroke-linecap="square"/>
<path d="M549.5 497.5V517.2H598.0M622.4 508.4H598.0V526.2H622.4" fill="none" stroke="#2fbfc0" stroke-width="1.9" stroke-linecap="square"/>
<path d="M549.5 497.5V477.6H574.1V490.6H622.4" fill="none" stroke="#2fae58" stroke-width="1.9" stroke-linecap="square"/>
<path d="M574.1 477.6V463.8H598.0M622.4 454.9H598.0V472.7H622.4" fill="none" stroke="#6a8fd0" stroke-width="1.9" stroke-linecap="square"/>
<circle cx="497" cy="563.4" r="0.8" fill="#ee302c"/>
<path d="M622.4 454.9H642.4" stroke="#6a8fd0" stroke-width="0.8" fill="none"/>
<circle cx="622.4" cy="454.9" r="2.6" fill="#c8218f"/>
<text x="642.6" y="458.0" font-size="8.8" fill="#6b8dc4">cell−substrate adhesion</text>
<path d="M622.4 472.7H642.4" stroke="#6a8fd0" stroke-width="0.8" fill="none"/>
<circle cx="622.4" cy="472.7" r="2.6" fill="#c8218f"/>
<text x="642.6" y="475.8" font-size="8.8" fill="#6b8dc4">response to oxygen levels</text>
<path d="M622.4 490.6H642.4" stroke="#2fae58" stroke-width="0.8" fill="none"/>
<circle cx="622.4" cy="490.6" r="4.6" fill="#ee302c"/>
<text x="642.6" y="493.7" font-size="8.8" fill="#34a055">connective tissue development</text>
<path d="M622.4 508.4H642.4" stroke="#2fbfc0" stroke-width="0.8" fill="none"/>
<circle cx="622.4" cy="508.4" r="2.6" fill="#ee302c"/>
<text x="642.6" y="511.5" font-size="8.8" fill="#35bcc0">response to transforming growth factor beta</text>
<path d="M622.4 526.2H642.4" stroke="#2fbfc0" stroke-width="0.8" fill="none"/>
<circle cx="622.4" cy="526.2" r="2.6" fill="#ee302c"/>
<text x="642.6" y="524.2" font-size="8.8" fill="#35bcc0">cellular response to transforming</text>
<text x="642.6" y="534.2" font-size="8.8" fill="#35bcc0">growth factor beta stimulus</text>
<path d="M622.4 544.0H642.4" stroke="#b565c0" stroke-width="0.8" fill="none"/>
<circle cx="622.4" cy="544.0" r="2.6" fill="#3b2a9a"/>
<text x="642.6" y="547.1" font-size="8.8" fill="#b96cbc">cell−cell signaling by wnt</text>
<path d="M622.4 561.9H642.4" stroke="#b565c0" stroke-width="0.8" fill="none"/>
<circle cx="622.4" cy="561.9" r="2.6" fill="#3b2a9a"/>
<text x="642.6" y="565.0" font-size="8.8" fill="#b96cbc">Wnt signaling pathway</text>
<path d="M622.4 579.7H642.4" stroke="#b89b2a" stroke-width="0.8" fill="none"/>
<circle cx="622.4" cy="579.7" r="5.6" fill="#ee302c"/>
<text x="642.6" y="582.8" font-size="8.8" fill="#b0952f">extracellular structure organization</text>
<path d="M622.4 597.5H642.4" stroke="#b89b2a" stroke-width="0.8" fill="none"/>
<circle cx="622.4" cy="597.5" r="5.6" fill="#ee302c"/>
<text x="642.6" y="600.6" font-size="8.8" fill="#b0952f">extracellular matrix organization</text>
<path d="M622.4 615.4H642.4" stroke="#b89b2a" stroke-width="0.8" fill="none"/>
<circle cx="622.4" cy="615.4" r="5.6" fill="#ee302c"/>
<text x="642.6" y="618.5" font-size="8.8" fill="#b0952f">external encapsulating structure organization</text>
<path d="M823.4 451.4V480.2" stroke="#6a8fd0" stroke-width="2.2"/>
<path d="M823.4 486.9V497.7" stroke="#2fae58" stroke-width="2.2"/>
<path d="M823.4 505.0V533.5" stroke="#2fbfc0" stroke-width="2.2"/>
<path d="M823.4 540.9V569.3" stroke="#b565c0" stroke-width="2.2"/>
<path d="M823.4 576.3V622.3" stroke="#b89b2a" stroke-width="2.2"/>
<text x="826.0" y="466.4" font-size="12.25" fill="#111">cell−substrate adhesion</text>
<text x="826.0" y="481.7" font-size="12.25" fill="#111">oxygen levels</text>
<text x="826.0" y="498.3" font-size="12.25" fill="#111">connective tissue development</text>
<text x="826.0" y="520.1" font-size="12.25" fill="#111">transforming growth factor beta</text>
<text x="826.0" y="560.6" font-size="12.25" fill="#111">cell−cell signaling by pathway</text>
<text x="826.0" y="600.6" font-size="12.25" fill="#111">extracellular encapsulating</text>
<text x="826.0" y="615.0" font-size="12.25" fill="#111">structure organization</text>
<text x="996.6" y="453.2" font-size="8.8" fill="#111">Number of genes</text>
<circle cx="1008.4" cy="463.2" r="2.4" fill="#000"/>
<text x="1017.8" y="466.5" font-size="8.8" fill="#1a1a1a">5</text>
<circle cx="1008.4" cy="473.8" r="4.0" fill="#000"/>
<text x="1017.8" y="477.1" font-size="8.8" fill="#1a1a1a">6</text>
<circle cx="1008.4" cy="484.3" r="4.8" fill="#000"/>
<text x="1017.8" y="487.6" font-size="8.8" fill="#1a1a1a">7</text>
<circle cx="1008.4" cy="497.1" r="5.5" fill="#000"/>
<text x="1017.8" y="500.4" font-size="8.8" fill="#1a1a1a">8</text>
<circle cx="1008.4" cy="508.9" r="6.0" fill="#000"/>
<text x="1017.8" y="512.2" font-size="8.8" fill="#1a1a1a">9</text>
<text x="1002.3" y="534.1" font-size="8.8" fill="#111">P.adjust</text>
<defs><linearGradient id="gP" x1="0" y1="0" x2="0" y2="1"><stop offset="0" stop-color="#4030a0"/><stop offset="0.3" stop-color="#7a2eaa"/><stop offset="0.55" stop-color="#c21f8c"/><stop offset="0.8" stop-color="#e8285a"/><stop offset="1" stop-color="#f03a2e"/></linearGradient></defs>
<rect x="1002.3" y="542.8" width="9.7" height="50.2" fill="url(#gP)"/>
<text x="1014.6" y="547.0" font-size="8.8" fill="#1a1a1a">0.0080</text>
<text x="1014.6" y="556.7" font-size="8.8" fill="#1a1a1a">0.0075</text>
<text x="1014.6" y="569.8" font-size="8.8" fill="#1a1a1a">0.0050</text>
<text x="1014.6" y="583.3" font-size="8.8" fill="#1a1a1a">0.0025</text>
</g>
</svg></body></html>
